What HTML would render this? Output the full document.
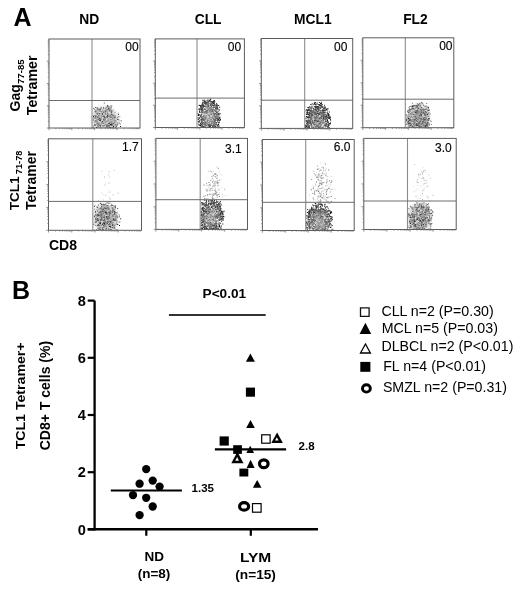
<!DOCTYPE html>
<html><head><meta charset="utf-8"><style>
html,body{margin:0;padding:0;background:#fff;width:520px;height:591px;overflow:hidden}
svg{display:block;will-change:transform}
text{font-family:"Liberation Sans",sans-serif;fill:#000}
</style></head><body>
<svg width="520" height="591" viewBox="0 0 520 591">
<defs><filter id="bl" x="-50%" y="-50%" width="200%" height="200%"><feGaussianBlur stdDeviation="1.6"/></filter></defs>
<rect width="520" height="591" fill="#fff"/>
<clipPath id="cnd1"><rect x="49.0" y="39.0" width="91.0" height="89.0"/></clipPath>
<g clip-path="url(#cnd1)"><ellipse cx="104.5" cy="119.5" rx="12.8" ry="13.6" fill="#d0d0d0" fill-opacity="0.80" filter="url(#bl)" transform="rotate(-25.8 104.5 119.5)"/><path fill="#282828" d="M100.7 107.5h1v1h-1zM107.4 120.4h1v1h-1zM108.9 122.6h1v1h-1zM99.2 120.1h1v1h-1zM94.3 124.0h1v1h-1zM105.0 112.4h1v1h-1zM117.9 114.1h1v1h-1zM108.9 109.7h1v1h-1zM96.9 123.8h1v1h-1zM106.2 124.5h1v1h-1zM107.2 104.9h1v1h-1zM105.6 121.3h1v1h-1zM96.5 107.2h1v1h-1zM100.6 118.4h1v1h-1zM102.0 113.0h1v1h-1zM109.5 124.7h1v1h-1zM93.0 116.1h1v1h-1zM99.7 109.6h1v1h-1zM107.0 114.7h1v1h-1zM98.5 114.8h1v1h-1zM115.8 125.8h1v1h-1zM112.6 122.9h1v1h-1zM100.2 119.7h1v1h-1zM110.8 123.3h1v1h-1zM108.9 126.7h1v1h-1zM97.3 116.0h1v1h-1zM99.2 118.0h1v1h-1zM99.4 119.2h1v1h-1zM120.0 126.1h1v1h-1zM112.7 125.6h1v1h-1zM97.0 108.3h1v1h-1zM108.0 108.2h1v1h-1zM97.5 124.4h1v1h-1zM111.6 124.0h1v1h-1zM102.6 125.0h1v1h-1zM113.7 116.9h1v1h-1zM115.4 120.4h1v1h-1zM108.1 123.1h1v1h-1zM108.3 115.7h1v1h-1zM113.2 115.4h1v1h-1zM113.1 126.1h1v1h-1zM111.2 114.1h1v1h-1zM106.8 115.8h1v1h-1zM104.0 116.2h1v1h-1zM94.7 110.7h1v1h-1zM118.6 122.6h1v1h-1zM97.4 113.3h1v1h-1zM105.1 111.1h1v1h-1zM110.2 116.7h1v1h-1zM110.0 124.0h1v1h-1zM95.3 115.4h1v1h-1zM110.8 112.2h1v1h-1zM109.2 123.2h1v1h-1zM110.4 123.8h1v1h-1zM109.0 126.5h1v1h-1zM106.5 108.9h1v1h-1zM110.5 121.8h1v1h-1zM102.4 122.6h1v1h-1zM109.7 121.8h1v1h-1zM107.1 115.5h1v1h-1zM115.2 126.7h1v1h-1zM92.6 127.2h1v1h-1zM100.1 125.1h1v1h-1zM103.0 119.6h1v1h-1zM111.0 110.4h1v1h-1zM101.1 110.9h1v1h-1zM104.3 117.6h1v1h-1zM103.0 107.6h1v1h-1zM104.3 119.6h1v1h-1zM114.6 115.6h1v1h-1zM112.7 127.1h1v1h-1zM97.6 123.6h1v1h-1zM95.5 116.5h1v1h-1zM111.2 105.5h1v1h-1zM113.7 122.3h1v1h-1zM99.6 108.4h1v1h-1zM94.6 125.0h1v1h-1zM95.4 111.4h1v1h-1zM96.0 126.9h1v1h-1zM101.9 121.1h1v1h-1zM108.5 107.4h1v1h-1zM103.4 112.1h1v1h-1zM110.5 107.2h1v1h-1zM108.6 125.0h1v1h-1zM110.4 127.1h1v1h-1zM97.7 108.4h1v1h-1zM108.6 108.8h1v1h-1zM117.2 119.0h1v1h-1zM111.1 124.8h1v1h-1z"/><path fill="#555555" d="M96.8 113.7h1v1h-1zM93.3 108.0h1v1h-1zM106.7 125.7h1v1h-1zM106.6 109.4h1v1h-1zM110.1 121.1h1v1h-1zM107.1 127.5h1v1h-1zM106.8 112.7h1v1h-1zM104.5 123.7h1v1h-1zM93.3 117.4h1v1h-1zM103.0 119.0h1v1h-1zM97.1 117.0h1v1h-1zM104.6 114.2h1v1h-1zM117.7 118.7h1v1h-1zM111.4 116.3h1v1h-1zM95.3 120.8h1v1h-1zM107.6 126.0h1v1h-1zM93.5 115.2h1v1h-1zM98.0 118.7h1v1h-1zM92.8 119.4h1v1h-1zM103.3 115.7h1v1h-1zM102.0 113.9h1v1h-1zM97.8 125.9h1v1h-1zM109.7 115.1h1v1h-1zM107.7 118.6h1v1h-1zM92.7 125.5h1v1h-1zM111.2 112.2h1v1h-1zM102.7 115.8h1v1h-1zM94.7 117.7h1v1h-1zM109.2 122.8h1v1h-1zM95.6 120.0h1v1h-1zM103.8 116.4h1v1h-1zM111.9 124.3h1v1h-1zM100.5 113.6h1v1h-1zM112.1 114.7h1v1h-1zM105.3 109.7h1v1h-1zM108.4 106.6h1v1h-1zM102.6 111.5h1v1h-1zM104.6 121.6h1v1h-1zM99.1 124.7h1v1h-1zM99.4 117.3h1v1h-1zM116.3 124.5h1v1h-1zM104.8 118.5h1v1h-1zM99.6 124.8h1v1h-1zM99.8 125.8h1v1h-1zM99.0 109.6h1v1h-1zM106.5 106.4h1v1h-1zM97.5 109.6h1v1h-1zM99.0 113.1h1v1h-1zM97.5 125.6h1v1h-1zM107.2 105.9h1v1h-1zM102.6 122.8h1v1h-1zM113.4 118.4h1v1h-1zM98.1 115.0h1v1h-1zM95.4 120.5h1v1h-1zM111.7 110.4h1v1h-1zM106.9 112.4h1v1h-1zM100.6 111.1h1v1h-1zM106.4 116.3h1v1h-1zM115.2 124.4h1v1h-1zM97.4 118.7h1v1h-1zM95.1 115.4h1v1h-1zM103.8 102.4h1v1h-1zM112.1 117.8h1v1h-1zM107.4 124.8h1v1h-1zM114.7 116.8h1v1h-1zM97.5 111.6h1v1h-1zM109.6 116.5h1v1h-1zM106.8 116.9h1v1h-1zM109.3 122.0h1v1h-1zM103.9 117.1h1v1h-1zM107.4 123.2h1v1h-1zM96.2 121.3h1v1h-1zM97.2 122.6h1v1h-1zM106.1 125.8h1v1h-1zM95.0 106.9h1v1h-1zM119.7 123.5h1v1h-1zM117.1 116.8h1v1h-1zM98.0 122.6h1v1h-1zM117.2 124.4h1v1h-1zM98.2 116.6h1v1h-1zM95.4 110.6h1v1h-1z"/><path fill="#828282" d="M106.1 117.0h1v1h-1zM106.2 124.9h1v1h-1zM110.6 108.4h1v1h-1zM96.6 122.7h1v1h-1zM96.2 113.0h1v1h-1zM99.2 110.5h1v1h-1zM96.3 123.5h1v1h-1zM96.4 120.4h1v1h-1zM101.0 111.6h1v1h-1zM105.2 116.9h1v1h-1zM100.7 123.4h1v1h-1zM109.7 118.7h1v1h-1zM98.1 116.1h1v1h-1zM115.4 122.6h1v1h-1zM97.3 126.7h1v1h-1zM96.2 123.1h1v1h-1zM108.1 108.8h1v1h-1zM106.8 127.9h1v1h-1zM93.8 121.5h1v1h-1zM93.9 109.1h1v1h-1zM103.3 125.6h1v1h-1zM105.8 106.9h1v1h-1zM104.3 110.6h1v1h-1zM109.5 109.3h1v1h-1zM95.4 110.3h1v1h-1zM107.4 114.2h1v1h-1zM108.1 114.6h1v1h-1zM108.1 119.7h1v1h-1zM103.8 125.0h1v1h-1zM98.9 122.8h1v1h-1zM114.9 123.9h1v1h-1zM99.8 127.2h1v1h-1zM109.9 105.6h1v1h-1zM106.0 127.3h1v1h-1zM115.1 119.9h1v1h-1zM97.4 120.5h1v1h-1zM110.4 113.7h1v1h-1zM106.3 109.4h1v1h-1zM111.8 121.4h1v1h-1zM107.4 124.2h1v1h-1zM110.9 116.9h1v1h-1zM105.2 126.7h1v1h-1zM109.4 116.5h1v1h-1zM104.5 124.7h1v1h-1zM112.6 120.3h1v1h-1zM100.2 121.3h1v1h-1zM110.4 110.3h1v1h-1zM94.6 116.8h1v1h-1zM99.4 124.1h1v1h-1zM111.8 114.2h1v1h-1zM110.1 108.6h1v1h-1zM105.1 121.8h1v1h-1zM101.8 116.0h1v1h-1zM94.8 111.6h1v1h-1zM111.4 119.0h1v1h-1zM110.1 110.7h1v1h-1zM96.1 120.6h1v1h-1zM105.1 110.3h1v1h-1zM103.4 111.5h1v1h-1zM97.8 124.9h1v1h-1zM100.8 116.6h1v1h-1zM108.2 113.5h1v1h-1zM103.2 117.8h1v1h-1zM113.7 124.4h1v1h-1zM114.5 111.7h1v1h-1zM104.8 107.9h1v1h-1zM101.2 115.2h1v1h-1zM117.1 123.2h1v1h-1zM102.3 110.2h1v1h-1zM103.2 117.6h1v1h-1zM110.5 121.4h1v1h-1zM118.6 119.6h1v1h-1zM108.9 110.8h1v1h-1zM97.4 118.0h1v1h-1zM104.3 119.6h1v1h-1zM110.5 119.1h1v1h-1zM112.6 127.4h1v1h-1zM104.6 111.8h1v1h-1zM106.1 124.3h1v1h-1zM108.9 115.4h1v1h-1zM120.7 120.1h1v1h-1zM102.9 115.0h1v1h-1zM114.4 119.8h1v1h-1zM106.8 111.0h1v1h-1zM108.0 114.2h1v1h-1zM118.1 116.2h1v1h-1zM98.4 125.1h1v1h-1zM94.9 120.3h1v1h-1zM119.3 116.2h1v1h-1zM100.0 127.1h1v1h-1zM113.9 120.6h1v1h-1zM110.5 120.4h1v1h-1zM113.2 114.5h1v1h-1zM109.6 118.9h1v1h-1zM101.0 122.3h1v1h-1z"/><path fill="#b0b0b0" d="M96.2 107.2h1v1h-1zM109.5 120.2h1v1h-1zM108.1 122.3h1v1h-1zM103.8 121.7h1v1h-1zM110.6 118.8h1v1h-1zM104.6 124.6h1v1h-1zM103.5 113.4h1v1h-1zM109.3 115.4h1v1h-1zM95.2 122.0h1v1h-1zM108.7 118.7h1v1h-1zM101.1 111.5h1v1h-1zM96.9 117.7h1v1h-1zM107.4 119.2h1v1h-1zM113.1 120.8h1v1h-1zM99.0 127.8h1v1h-1zM118.6 120.4h1v1h-1zM108.3 114.1h1v1h-1zM99.9 114.7h1v1h-1zM109.2 125.6h1v1h-1zM99.9 127.6h1v1h-1zM100.7 115.0h1v1h-1zM109.0 106.1h1v1h-1zM117.8 112.7h1v1h-1zM106.0 120.6h1v1h-1zM107.5 110.7h1v1h-1zM120.7 121.0h1v1h-1zM114.1 118.5h1v1h-1zM104.6 121.1h1v1h-1zM115.3 119.7h1v1h-1zM117.9 112.4h1v1h-1zM109.7 121.3h1v1h-1zM111.9 122.3h1v1h-1zM105.9 111.5h1v1h-1zM102.7 118.3h1v1h-1zM112.6 116.0h1v1h-1zM109.6 119.4h1v1h-1zM110.1 122.8h1v1h-1zM97.5 127.0h1v1h-1zM115.8 122.2h1v1h-1zM111.0 115.0h1v1h-1zM107.1 109.4h1v1h-1zM94.0 120.4h1v1h-1zM116.3 118.3h1v1h-1zM97.6 116.3h1v1h-1zM112.7 124.7h1v1h-1zM96.2 120.6h1v1h-1zM109.8 122.1h1v1h-1zM102.3 125.8h1v1h-1zM96.0 118.9h1v1h-1zM102.7 126.2h1v1h-1zM101.4 113.3h1v1h-1zM112.9 109.6h1v1h-1zM95.8 108.9h1v1h-1zM110.0 122.8h1v1h-1zM108.7 113.9h1v1h-1zM98.5 115.3h1v1h-1zM104.9 112.3h1v1h-1zM115.5 118.0h1v1h-1zM98.4 126.5h1v1h-1zM103.4 114.5h1v1h-1zM98.5 124.8h1v1h-1zM97.7 123.3h1v1h-1zM106.0 114.0h1v1h-1zM96.3 118.2h1v1h-1zM102.5 109.2h1v1h-1zM102.8 114.6h1v1h-1zM107.9 116.5h1v1h-1zM101.7 110.6h1v1h-1zM100.7 117.4h1v1h-1zM102.9 120.7h1v1h-1zM104.1 121.5h1v1h-1zM95.1 112.3h1v1h-1zM114.3 112.5h1v1h-1zM110.2 121.7h1v1h-1zM105.8 114.3h1v1h-1zM96.2 117.9h1v1h-1zM106.6 107.9h1v1h-1zM99.5 116.7h1v1h-1zM102.0 126.4h1v1h-1zM99.5 116.5h1v1h-1zM112.1 122.0h1v1h-1zM96.9 124.2h1v1h-1zM100.5 115.4h1v1h-1zM99.0 127.1h1v1h-1zM97.3 108.3h1v1h-1zM108.3 122.5h1v1h-1zM100.7 127.5h1v1h-1zM105.9 109.5h1v1h-1zM110.1 122.3h1v1h-1zM117.0 122.0h1v1h-1zM99.1 116.6h1v1h-1zM106.8 123.5h1v1h-1zM104.0 112.3h1v1h-1zM101.5 126.8h1v1h-1zM103.1 114.5h1v1h-1z"/></g>
<line x1="92.0" y1="39.0" x2="92.0" y2="128.0" stroke="#8c8c8c" stroke-width="1.1"/>
<line x1="49.0" y1="100.5" x2="140.0" y2="100.5" stroke="#6c6c6c" stroke-width="1.0"/>
<rect x="49.0" y="39.0" width="91.0" height="89.0" fill="none" stroke="#5c5c5c" stroke-width="1.0"/>
<path d="M49.0 128.0h-2.2M49.0 121.3h-1.2M49.0 117.4h-1.2M49.0 114.6h-1.2M49.0 112.4h-1.2M49.0 110.7h-1.2M49.0 109.2h-1.2M49.0 107.9h-1.2M49.0 106.8h-1.2M49.0 105.8h-2.2M49.0 99.1h-1.2M49.0 95.1h-1.2M49.0 92.4h-1.2M49.0 90.2h-1.2M49.0 88.4h-1.2M49.0 86.9h-1.2M49.0 85.7h-1.2M49.0 84.5h-1.2M49.0 83.5h-2.2M49.0 76.8h-1.2M49.0 72.9h-1.2M49.0 70.1h-1.2M49.0 67.9h-1.2M49.0 66.2h-1.2M49.0 64.7h-1.2M49.0 63.4h-1.2M49.0 62.3h-1.2M49.0 61.2h-2.2M49.0 54.6h-1.2M49.0 50.6h-1.2M49.0 47.9h-1.2M49.0 45.7h-1.2M49.0 43.9h-1.2M49.0 42.4h-1.2M49.0 41.2h-1.2M49.0 40.0h-1.2M49.0 128.0v2.2M55.8 128.0v1.2M59.9 128.0v1.2M62.7 128.0v1.2M64.9 128.0v1.2M66.7 128.0v1.2M68.2 128.0v1.2M69.5 128.0v1.2M70.7 128.0v1.2M71.8 128.0v2.2M78.6 128.0v1.2M82.6 128.0v1.2M85.4 128.0v1.2M87.7 128.0v1.2M89.5 128.0v1.2M91.0 128.0v1.2M92.3 128.0v1.2M93.5 128.0v1.2M94.5 128.0v2.2M101.3 128.0v1.2M105.4 128.0v1.2M108.2 128.0v1.2M110.4 128.0v1.2M112.2 128.0v1.2M113.7 128.0v1.2M115.0 128.0v1.2M116.2 128.0v1.2M117.2 128.0v2.2M124.1 128.0v1.2M128.1 128.0v1.2M130.9 128.0v1.2M133.2 128.0v1.2M135.0 128.0v1.2M136.5 128.0v1.2M137.8 128.0v1.2M139.0 128.0v1.2" stroke="#777" stroke-width="0.8" fill="none"/>
<text x="138.6" y="51.0" font-size="12" text-anchor="end" stroke="#000" stroke-width="0.12">00</text>
<clipPath id="ccll1"><rect x="155.3" y="38.9" width="89.1" height="88.6"/></clipPath>
<g clip-path="url(#ccll1)"><ellipse cx="208.5" cy="115.5" rx="5.0" ry="9.0" fill="#c8c8c8" fill-opacity="0.80" filter="url(#bl)" transform="rotate(0.0 208.5 115.5)"/><path fill="#101010" d="M202.2 106.3h1v1h-1zM199.7 124.6h1v1h-1zM208.2 101.5h1v1h-1zM200.3 106.4h1v1h-1zM216.2 116.3h1v1h-1zM218.7 125.4h1v1h-1zM212.1 104.8h1v1h-1zM209.5 99.7h1v1h-1zM198.3 121.2h1v1h-1zM201.7 125.1h1v1h-1zM217.0 126.8h1v1h-1zM217.2 120.1h1v1h-1zM200.0 124.7h1v1h-1zM200.8 108.6h1v1h-1zM202.8 104.5h1v1h-1zM211.8 101.6h1v1h-1zM197.7 114.6h1v1h-1zM200.7 111.8h1v1h-1zM207.4 100.2h1v1h-1zM198.9 121.3h1v1h-1zM202.8 125.9h1v1h-1zM216.2 122.1h1v1h-1zM212.6 103.2h1v1h-1zM210.3 104.8h1v1h-1zM201.5 103.7h1v1h-1zM213.9 99.9h1v1h-1zM213.9 101.6h1v1h-1zM199.3 111.9h1v1h-1zM200.8 125.7h1v1h-1zM218.0 118.9h1v1h-1zM219.4 117.8h1v1h-1zM216.2 126.7h1v1h-1zM219.5 120.1h1v1h-1zM214.8 125.9h1v1h-1zM201.3 109.4h1v1h-1zM216.0 105.0h1v1h-1zM218.1 121.9h1v1h-1zM201.8 106.1h1v1h-1zM219.7 113.3h1v1h-1zM203.5 102.5h1v1h-1zM200.7 108.4h1v1h-1zM200.9 119.0h1v1h-1zM215.7 106.3h1v1h-1zM199.9 122.8h1v1h-1zM199.6 105.0h1v1h-1zM213.7 103.0h1v1h-1zM218.1 119.4h1v1h-1zM219.0 117.8h1v1h-1zM209.8 104.2h1v1h-1zM213.0 123.7h1v1h-1zM202.3 101.7h1v1h-1zM211.1 103.2h1v1h-1zM206.7 102.6h1v1h-1zM207.8 101.7h1v1h-1zM214.3 104.4h1v1h-1zM216.2 105.1h1v1h-1zM217.8 113.2h1v1h-1zM198.2 114.0h1v1h-1zM218.6 109.3h1v1h-1zM211.6 100.9h1v1h-1zM216.4 124.4h1v1h-1zM198.0 115.1h1v1h-1zM212.2 127.4h1v1h-1zM198.3 121.7h1v1h-1zM201.2 109.2h1v1h-1zM201.6 106.0h1v1h-1zM217.3 118.1h1v1h-1zM199.1 111.1h1v1h-1zM214.6 104.5h1v1h-1zM215.6 123.9h1v1h-1zM200.9 108.2h1v1h-1zM200.6 123.6h1v1h-1zM219.2 106.7h1v1h-1zM219.4 120.0h1v1h-1zM199.0 117.8h1v1h-1zM203.9 101.4h1v1h-1zM210.3 100.8h1v1h-1zM216.1 108.0h1v1h-1zM199.0 109.6h1v1h-1zM219.3 116.8h1v1h-1zM198.2 123.7h1v1h-1zM214.9 119.3h1v1h-1zM213.4 100.4h1v1h-1zM215.8 126.7h1v1h-1zM201.5 121.6h1v1h-1zM212.9 105.2h1v1h-1zM216.0 103.3h1v1h-1zM217.4 125.2h1v1h-1zM200.1 105.6h1v1h-1zM218.4 114.7h1v1h-1zM199.7 114.7h1v1h-1zM200.0 105.5h1v1h-1zM218.3 113.6h1v1h-1zM218.1 105.0h1v1h-1zM213.3 100.9h1v1h-1zM217.0 119.4h1v1h-1zM210.4 103.2h1v1h-1zM208.9 100.3h1v1h-1zM208.7 127.0h1v1h-1zM212.3 101.9h1v1h-1zM216.5 104.1h1v1h-1zM218.9 119.6h1v1h-1zM199.9 125.2h1v1h-1zM200.1 108.6h1v1h-1zM213.1 100.5h1v1h-1zM203.0 106.8h1v1h-1zM204.2 99.7h1v1h-1zM213.1 100.9h1v1h-1zM204.5 103.1h1v1h-1zM200.4 105.5h1v1h-1zM212.2 126.1h1v1h-1zM205.5 101.5h1v1h-1zM198.8 104.9h1v1h-1zM199.0 117.8h1v1h-1zM203.4 123.6h1v1h-1zM201.6 116.5h1v1h-1zM217.1 106.6h1v1h-1zM198.7 108.2h1v1h-1zM218.0 124.0h1v1h-1zM203.7 105.9h1v1h-1zM213.3 102.4h1v1h-1zM201.4 105.1h1v1h-1zM202.3 99.8h1v1h-1zM206.0 102.7h1v1h-1zM213.3 125.6h1v1h-1z"/><path fill="#303030" d="M204.6 127.1h1v1h-1zM216.7 107.1h1v1h-1zM208.5 100.6h1v1h-1zM210.3 98.5h1v1h-1zM212.2 127.5h1v1h-1zM205.3 121.9h1v1h-1zM198.8 104.7h1v1h-1zM202.8 106.4h1v1h-1zM217.6 117.6h1v1h-1zM197.7 119.2h1v1h-1zM213.2 102.2h1v1h-1zM203.3 105.2h1v1h-1zM198.8 114.3h1v1h-1zM214.4 122.4h1v1h-1zM218.5 121.9h1v1h-1zM214.3 125.1h1v1h-1zM202.6 105.6h1v1h-1zM213.7 123.3h1v1h-1zM204.5 109.0h1v1h-1zM214.5 116.1h1v1h-1zM213.7 103.8h1v1h-1zM211.9 124.8h1v1h-1zM209.7 107.5h1v1h-1zM214.9 106.8h1v1h-1zM211.0 123.0h1v1h-1zM205.0 101.7h1v1h-1zM209.9 99.0h1v1h-1zM208.8 100.7h1v1h-1zM202.3 105.4h1v1h-1zM204.8 123.4h1v1h-1zM209.4 124.2h1v1h-1zM208.0 106.2h1v1h-1zM214.3 109.4h1v1h-1zM198.2 118.8h1v1h-1zM201.9 106.2h1v1h-1zM202.4 102.3h1v1h-1zM209.2 126.1h1v1h-1zM217.5 108.6h1v1h-1zM216.0 122.3h1v1h-1zM204.4 125.8h1v1h-1zM213.8 120.5h1v1h-1zM198.9 125.1h1v1h-1zM206.1 102.7h1v1h-1zM214.7 106.7h1v1h-1zM217.3 121.2h1v1h-1zM213.3 112.8h1v1h-1zM201.5 106.9h1v1h-1zM213.4 106.8h1v1h-1zM218.4 112.7h1v1h-1zM205.6 127.0h1v1h-1zM200.1 115.9h1v1h-1zM205.3 124.5h1v1h-1zM199.3 119.9h1v1h-1zM211.4 101.4h1v1h-1zM202.1 123.0h1v1h-1zM205.7 102.0h1v1h-1zM200.7 114.5h1v1h-1zM212.2 110.6h1v1h-1zM204.1 119.2h1v1h-1zM205.2 103.2h1v1h-1zM205.8 125.3h1v1h-1zM201.9 117.8h1v1h-1zM212.3 122.7h1v1h-1zM209.5 106.5h1v1h-1zM201.9 108.0h1v1h-1zM202.1 118.5h1v1h-1zM212.2 127.1h1v1h-1zM215.2 108.0h1v1h-1zM202.3 106.2h1v1h-1zM211.9 110.3h1v1h-1zM202.2 108.4h1v1h-1zM201.8 126.3h1v1h-1zM216.6 107.9h1v1h-1zM211.7 107.0h1v1h-1zM198.4 109.1h1v1h-1zM209.8 125.3h1v1h-1zM204.7 124.3h1v1h-1zM202.7 104.4h1v1h-1zM215.9 117.9h1v1h-1zM217.1 124.4h1v1h-1zM208.3 125.4h1v1h-1zM217.0 105.5h1v1h-1zM216.0 114.3h1v1h-1zM213.9 113.9h1v1h-1zM211.6 120.8h1v1h-1zM204.1 105.8h1v1h-1zM216.6 118.8h1v1h-1zM203.4 100.1h1v1h-1zM213.4 110.6h1v1h-1zM217.1 117.8h1v1h-1zM202.3 110.4h1v1h-1zM203.7 101.0h1v1h-1zM216.7 120.1h1v1h-1zM205.5 104.2h1v1h-1zM202.0 108.7h1v1h-1zM211.5 110.8h1v1h-1zM201.4 123.6h1v1h-1zM208.3 126.9h1v1h-1zM201.1 110.5h1v1h-1zM220.0 119.1h1v1h-1zM208.9 126.5h1v1h-1zM208.9 100.6h1v1h-1zM200.4 118.7h1v1h-1zM200.9 120.3h1v1h-1zM218.7 117.2h1v1h-1zM212.2 127.3h1v1h-1zM213.9 105.0h1v1h-1zM215.4 108.0h1v1h-1zM217.8 126.2h1v1h-1zM218.8 121.4h1v1h-1zM202.3 112.1h1v1h-1zM214.0 121.4h1v1h-1zM202.1 103.3h1v1h-1zM202.2 104.3h1v1h-1zM201.1 121.2h1v1h-1zM217.0 114.6h1v1h-1zM197.8 118.6h1v1h-1zM207.1 105.2h1v1h-1zM213.7 127.4h1v1h-1zM202.4 118.9h1v1h-1zM201.1 114.2h1v1h-1zM204.4 101.2h1v1h-1zM210.1 101.4h1v1h-1zM215.5 122.2h1v1h-1zM198.2 121.1h1v1h-1zM212.9 105.2h1v1h-1zM208.9 125.9h1v1h-1zM211.3 121.4h1v1h-1zM211.6 123.0h1v1h-1zM208.1 104.7h1v1h-1zM211.2 125.0h1v1h-1zM216.5 113.1h1v1h-1zM208.6 124.4h1v1h-1zM209.0 125.1h1v1h-1zM200.2 107.4h1v1h-1zM204.8 122.0h1v1h-1zM210.5 124.1h1v1h-1zM215.9 111.4h1v1h-1zM214.1 115.2h1v1h-1zM209.9 126.0h1v1h-1zM205.5 106.1h1v1h-1zM197.6 117.2h1v1h-1z"/><path fill="#505050" d="M206.7 100.3h1v1h-1zM219.1 109.7h1v1h-1zM205.6 111.1h1v1h-1zM211.3 110.8h1v1h-1zM213.0 108.7h1v1h-1zM207.8 124.0h1v1h-1zM216.4 105.4h1v1h-1zM204.5 110.9h1v1h-1zM205.1 123.7h1v1h-1zM215.0 110.9h1v1h-1zM210.0 127.1h1v1h-1zM202.1 124.8h1v1h-1zM206.3 111.9h1v1h-1zM216.7 111.9h1v1h-1zM207.4 109.2h1v1h-1zM202.7 123.2h1v1h-1zM202.2 109.8h1v1h-1zM213.3 106.9h1v1h-1zM215.5 108.4h1v1h-1zM202.4 125.9h1v1h-1zM213.1 123.5h1v1h-1zM214.1 120.5h1v1h-1zM201.1 105.9h1v1h-1zM200.0 116.0h1v1h-1zM213.4 119.3h1v1h-1zM207.0 123.4h1v1h-1zM204.7 108.7h1v1h-1zM202.1 106.1h1v1h-1zM205.1 116.4h1v1h-1zM216.0 107.2h1v1h-1zM207.5 124.4h1v1h-1zM208.0 103.2h1v1h-1zM214.6 116.9h1v1h-1zM207.0 101.7h1v1h-1zM211.2 106.2h1v1h-1zM215.7 105.2h1v1h-1zM212.6 118.0h1v1h-1zM214.2 104.8h1v1h-1zM215.9 108.2h1v1h-1zM207.5 103.9h1v1h-1zM201.5 108.5h1v1h-1zM207.6 120.1h1v1h-1zM204.4 101.0h1v1h-1zM214.4 101.2h1v1h-1zM204.4 105.8h1v1h-1zM204.5 103.5h1v1h-1zM217.7 118.4h1v1h-1zM202.6 110.3h1v1h-1zM205.4 100.5h1v1h-1zM199.2 117.0h1v1h-1zM200.6 117.3h1v1h-1zM206.6 119.4h1v1h-1zM206.1 109.9h1v1h-1zM217.6 111.1h1v1h-1zM206.8 111.3h1v1h-1zM204.7 124.6h1v1h-1zM207.0 126.7h1v1h-1zM211.4 108.4h1v1h-1zM205.6 117.3h1v1h-1zM210.7 127.1h1v1h-1zM204.3 125.7h1v1h-1zM205.9 103.9h1v1h-1zM202.6 122.1h1v1h-1zM200.8 122.0h1v1h-1zM214.4 104.2h1v1h-1zM211.7 103.5h1v1h-1zM210.4 108.6h1v1h-1zM212.7 113.4h1v1h-1zM208.4 114.4h1v1h-1zM210.2 125.2h1v1h-1zM200.9 124.1h1v1h-1zM203.6 124.2h1v1h-1zM212.5 121.6h1v1h-1zM198.8 124.4h1v1h-1zM202.9 115.4h1v1h-1zM203.0 118.8h1v1h-1zM208.4 105.1h1v1h-1zM208.6 124.0h1v1h-1zM211.4 103.7h1v1h-1zM202.6 111.5h1v1h-1zM217.6 110.7h1v1h-1zM213.8 118.7h1v1h-1zM202.5 120.1h1v1h-1zM218.1 121.9h1v1h-1zM215.1 120.0h1v1h-1zM201.6 123.4h1v1h-1zM202.1 116.1h1v1h-1zM216.4 105.1h1v1h-1zM201.4 110.7h1v1h-1zM212.4 104.9h1v1h-1zM204.2 108.6h1v1h-1zM217.0 108.1h1v1h-1zM206.5 106.5h1v1h-1zM204.2 108.3h1v1h-1zM214.3 125.5h1v1h-1zM204.1 119.6h1v1h-1zM209.1 122.5h1v1h-1zM204.9 123.1h1v1h-1zM202.0 116.0h1v1h-1zM215.9 112.0h1v1h-1zM216.3 116.6h1v1h-1zM215.7 122.4h1v1h-1zM213.9 114.4h1v1h-1zM207.0 103.4h1v1h-1zM211.3 127.4h1v1h-1zM198.9 108.8h1v1h-1zM197.4 113.0h1v1h-1zM206.2 118.1h1v1h-1zM202.5 115.9h1v1h-1zM218.6 113.9h1v1h-1zM200.2 109.6h1v1h-1zM201.9 118.9h1v1h-1zM209.3 111.2h1v1h-1zM213.9 126.8h1v1h-1zM204.8 123.8h1v1h-1zM203.2 106.1h1v1h-1zM213.1 118.8h1v1h-1zM213.8 114.0h1v1h-1zM204.9 122.7h1v1h-1zM200.4 109.3h1v1h-1zM209.1 114.7h1v1h-1zM215.0 113.0h1v1h-1zM212.5 113.2h1v1h-1zM210.5 109.6h1v1h-1zM209.6 109.9h1v1h-1zM202.9 120.1h1v1h-1zM201.9 123.0h1v1h-1zM210.6 101.6h1v1h-1zM207.9 125.1h1v1h-1zM218.2 122.8h1v1h-1zM202.7 119.7h1v1h-1zM207.8 122.5h1v1h-1zM215.6 116.1h1v1h-1zM215.0 116.8h1v1h-1zM201.1 115.8h1v1h-1zM212.4 117.4h1v1h-1zM200.9 107.0h1v1h-1zM210.5 119.3h1v1h-1zM209.2 116.5h1v1h-1zM211.1 106.1h1v1h-1zM207.5 98.7h1v1h-1zM211.2 105.0h1v1h-1zM213.9 118.7h1v1h-1zM202.6 126.7h1v1h-1zM214.4 118.4h1v1h-1zM210.7 113.9h1v1h-1zM213.5 125.6h1v1h-1zM216.0 108.6h1v1h-1zM214.5 124.6h1v1h-1zM205.0 112.4h1v1h-1zM200.6 114.6h1v1h-1zM214.7 106.4h1v1h-1zM217.3 113.1h1v1h-1zM213.3 113.0h1v1h-1z"/><path fill="#707070" d="M201.3 118.2h1v1h-1zM213.1 119.3h1v1h-1zM213.3 121.4h1v1h-1zM211.8 124.9h1v1h-1zM201.5 119.8h1v1h-1zM205.1 116.3h1v1h-1zM202.8 108.7h1v1h-1zM211.5 110.6h1v1h-1zM214.9 118.0h1v1h-1zM213.8 114.8h1v1h-1zM212.9 107.6h1v1h-1zM207.6 124.3h1v1h-1zM210.9 114.0h1v1h-1zM208.0 102.0h1v1h-1zM208.7 110.4h1v1h-1zM208.2 126.7h1v1h-1zM210.5 105.3h1v1h-1zM204.5 127.5h1v1h-1zM212.9 125.0h1v1h-1zM213.2 123.6h1v1h-1zM217.7 116.0h1v1h-1zM212.6 120.6h1v1h-1zM210.7 118.5h1v1h-1zM214.8 120.9h1v1h-1zM214.9 106.9h1v1h-1zM214.9 122.4h1v1h-1zM214.6 109.4h1v1h-1zM216.3 116.9h1v1h-1zM215.7 114.1h1v1h-1zM212.0 104.2h1v1h-1zM212.9 123.7h1v1h-1zM203.8 120.4h1v1h-1zM204.0 111.9h1v1h-1zM204.3 116.4h1v1h-1zM215.3 110.6h1v1h-1zM202.3 121.5h1v1h-1zM214.0 112.8h1v1h-1zM213.9 123.6h1v1h-1zM206.0 112.9h1v1h-1zM206.0 103.3h1v1h-1zM207.9 109.1h1v1h-1zM215.7 116.1h1v1h-1zM202.5 119.8h1v1h-1zM207.0 124.2h1v1h-1zM209.5 124.8h1v1h-1zM214.0 124.3h1v1h-1zM207.8 126.5h1v1h-1zM208.3 106.6h1v1h-1zM215.1 118.9h1v1h-1zM217.0 113.7h1v1h-1zM204.7 123.0h1v1h-1zM206.4 121.8h1v1h-1zM208.8 110.7h1v1h-1zM205.2 106.6h1v1h-1zM205.7 110.9h1v1h-1zM212.2 123.0h1v1h-1zM203.8 117.5h1v1h-1zM210.3 104.8h1v1h-1zM216.8 116.3h1v1h-1zM207.0 126.9h1v1h-1zM201.4 113.1h1v1h-1zM212.1 122.9h1v1h-1zM206.4 105.9h1v1h-1zM216.5 119.8h1v1h-1zM216.4 118.1h1v1h-1zM199.3 115.2h1v1h-1zM212.2 115.7h1v1h-1zM210.7 118.6h1v1h-1zM217.1 111.5h1v1h-1zM203.6 116.1h1v1h-1zM210.9 121.4h1v1h-1zM204.7 125.5h1v1h-1zM201.1 116.9h1v1h-1zM210.5 113.4h1v1h-1zM215.4 124.1h1v1h-1zM213.6 105.4h1v1h-1zM200.7 120.4h1v1h-1zM203.9 122.6h1v1h-1zM205.6 127.2h1v1h-1zM203.5 117.2h1v1h-1zM212.7 118.7h1v1h-1zM201.1 117.6h1v1h-1zM210.0 110.2h1v1h-1zM205.1 105.5h1v1h-1zM204.5 118.3h1v1h-1zM202.3 118.8h1v1h-1zM203.0 106.7h1v1h-1zM204.4 108.6h1v1h-1zM208.2 127.0h1v1h-1zM203.5 122.2h1v1h-1zM202.5 117.8h1v1h-1zM203.8 114.5h1v1h-1zM215.0 114.4h1v1h-1zM211.3 112.5h1v1h-1zM209.9 108.9h1v1h-1zM216.8 116.1h1v1h-1zM215.3 109.2h1v1h-1zM214.4 120.0h1v1h-1zM215.7 110.4h1v1h-1zM208.5 117.9h1v1h-1zM202.5 122.0h1v1h-1zM207.2 110.0h1v1h-1zM209.3 108.1h1v1h-1zM216.8 109.1h1v1h-1zM201.5 106.7h1v1h-1zM213.0 109.2h1v1h-1zM216.4 109.4h1v1h-1zM211.2 124.8h1v1h-1zM204.7 124.0h1v1h-1zM203.0 122.0h1v1h-1zM206.9 112.6h1v1h-1zM213.8 115.4h1v1h-1zM205.8 112.4h1v1h-1zM208.8 103.0h1v1h-1zM209.0 121.2h1v1h-1zM209.6 123.8h1v1h-1zM203.7 112.5h1v1h-1zM209.7 112.2h1v1h-1zM215.6 111.2h1v1h-1zM212.6 125.3h1v1h-1zM211.7 116.8h1v1h-1zM208.7 126.9h1v1h-1zM213.0 111.8h1v1h-1zM205.4 118.0h1v1h-1zM205.5 123.7h1v1h-1zM212.9 113.2h1v1h-1zM213.8 113.5h1v1h-1zM212.0 109.3h1v1h-1zM216.0 115.2h1v1h-1zM213.2 126.1h1v1h-1zM206.8 106.8h1v1h-1zM209.2 107.6h1v1h-1zM214.0 123.0h1v1h-1zM214.0 109.4h1v1h-1zM204.4 121.3h1v1h-1zM201.7 121.3h1v1h-1zM215.1 114.6h1v1h-1zM205.5 109.8h1v1h-1zM203.5 122.3h1v1h-1zM204.9 118.4h1v1h-1zM206.0 104.3h1v1h-1zM203.5 115.0h1v1h-1z"/><path fill="#909090" d="M213.4 113.5h1v1h-1zM206.8 120.9h1v1h-1zM206.3 121.6h1v1h-1zM209.2 107.4h1v1h-1zM203.2 117.2h1v1h-1zM202.4 111.4h1v1h-1zM206.9 124.4h1v1h-1zM210.7 110.8h1v1h-1zM213.4 114.4h1v1h-1zM209.7 109.8h1v1h-1zM207.1 124.3h1v1h-1zM205.1 120.9h1v1h-1zM211.2 121.3h1v1h-1zM211.6 123.1h1v1h-1zM205.6 114.9h1v1h-1zM212.0 107.0h1v1h-1zM213.0 121.4h1v1h-1zM213.3 111.3h1v1h-1zM214.3 109.9h1v1h-1zM205.5 122.8h1v1h-1zM206.1 123.1h1v1h-1zM206.6 108.1h1v1h-1zM206.8 121.7h1v1h-1zM213.2 123.1h1v1h-1zM215.6 116.2h1v1h-1zM211.3 107.6h1v1h-1zM210.7 110.8h1v1h-1zM203.2 123.3h1v1h-1zM210.1 107.2h1v1h-1zM209.3 108.9h1v1h-1zM205.0 111.7h1v1h-1zM211.1 120.4h1v1h-1zM210.3 117.0h1v1h-1zM207.5 118.4h1v1h-1zM210.7 123.6h1v1h-1zM207.9 108.3h1v1h-1zM207.7 112.1h1v1h-1zM212.7 122.8h1v1h-1zM207.3 123.8h1v1h-1zM202.2 116.1h1v1h-1zM213.4 117.9h1v1h-1zM208.3 115.2h1v1h-1zM215.6 116.1h1v1h-1zM213.1 117.2h1v1h-1zM212.5 115.9h1v1h-1zM209.9 110.2h1v1h-1zM202.5 113.5h1v1h-1zM204.7 119.3h1v1h-1zM213.8 121.4h1v1h-1zM206.8 105.4h1v1h-1zM209.2 120.6h1v1h-1zM211.5 117.1h1v1h-1zM205.8 106.6h1v1h-1zM210.2 119.4h1v1h-1zM209.4 118.7h1v1h-1zM205.3 121.0h1v1h-1zM208.9 107.1h1v1h-1zM209.3 121.9h1v1h-1zM204.6 124.7h1v1h-1zM208.4 122.1h1v1h-1zM203.9 116.5h1v1h-1zM212.4 112.1h1v1h-1zM212.0 123.0h1v1h-1zM209.2 117.9h1v1h-1zM206.1 115.3h1v1h-1zM212.9 115.0h1v1h-1zM205.4 122.2h1v1h-1zM210.0 121.0h1v1h-1zM209.6 118.7h1v1h-1zM207.4 114.1h1v1h-1z"/><path fill="#b0b0b0" d="M204.3 116.2h1v1h-1zM205.5 113.0h1v1h-1zM206.2 117.7h1v1h-1zM209.4 118.4h1v1h-1zM206.5 115.7h1v1h-1zM204.8 115.2h1v1h-1zM205.6 118.3h1v1h-1z"/></g>
<line x1="197.0" y1="38.9" x2="197.0" y2="127.5" stroke="#8c8c8c" stroke-width="1.1"/>
<line x1="155.3" y1="98.1" x2="244.4" y2="98.1" stroke="#6c6c6c" stroke-width="1.0"/>
<rect x="155.3" y="38.9" width="89.1" height="88.6" fill="none" stroke="#5c5c5c" stroke-width="1.0"/>
<path d="M155.3 127.5h-2.2M155.3 120.8h-1.2M155.3 116.9h-1.2M155.3 114.2h-1.2M155.3 112.0h-1.2M155.3 110.3h-1.2M155.3 108.8h-1.2M155.3 107.5h-1.2M155.3 106.4h-1.2M155.3 105.3h-2.2M155.3 98.7h-1.2M155.3 94.8h-1.2M155.3 92.0h-1.2M155.3 89.9h-1.2M155.3 88.1h-1.2M155.3 86.6h-1.2M155.3 85.3h-1.2M155.3 84.2h-1.2M155.3 83.2h-2.2M155.3 76.5h-1.2M155.3 72.6h-1.2M155.3 69.9h-1.2M155.3 67.7h-1.2M155.3 66.0h-1.2M155.3 64.5h-1.2M155.3 63.2h-1.2M155.3 62.1h-1.2M155.3 61.1h-2.2M155.3 54.4h-1.2M155.3 50.5h-1.2M155.3 47.7h-1.2M155.3 45.6h-1.2M155.3 43.8h-1.2M155.3 42.3h-1.2M155.3 41.0h-1.2M155.3 39.9h-1.2M155.3 127.5v2.2M162.0 127.5v1.2M165.9 127.5v1.2M168.7 127.5v1.2M170.9 127.5v1.2M172.6 127.5v1.2M174.1 127.5v1.2M175.4 127.5v1.2M176.6 127.5v1.2M177.6 127.5v2.2M184.3 127.5v1.2M188.2 127.5v1.2M191.0 127.5v1.2M193.1 127.5v1.2M194.9 127.5v1.2M196.4 127.5v1.2M197.7 127.5v1.2M198.8 127.5v1.2M199.9 127.5v2.2M206.6 127.5v1.2M210.5 127.5v1.2M213.3 127.5v1.2M215.4 127.5v1.2M217.2 127.5v1.2M218.7 127.5v1.2M220.0 127.5v1.2M221.1 127.5v1.2M222.1 127.5v2.2M228.8 127.5v1.2M232.8 127.5v1.2M235.5 127.5v1.2M237.7 127.5v1.2M239.5 127.5v1.2M240.9 127.5v1.2M242.2 127.5v1.2M243.4 127.5v1.2" stroke="#777" stroke-width="0.8" fill="none"/>
<text x="241.1" y="51.2" font-size="12" text-anchor="end" stroke="#000" stroke-width="0.12">00</text>
<clipPath id="cmcl1"><rect x="261.3" y="38.5" width="91.4" height="89.9"/></clipPath>
<g clip-path="url(#cmcl1)"><ellipse cx="317.5" cy="119.0" rx="7.0" ry="11.0" fill="#c4c4c4" fill-opacity="0.80" filter="url(#bl)" transform="rotate(0.0 317.5 119.0)"/><path fill="#101010" d="M321.9 104.2h1v1h-1zM324.7 108.7h1v1h-1zM317.6 106.4h1v1h-1zM326.3 117.8h1v1h-1zM328.4 114.0h1v1h-1zM328.8 118.1h1v1h-1zM327.0 120.6h1v1h-1zM322.4 111.5h1v1h-1zM324.2 107.8h1v1h-1zM323.2 111.4h1v1h-1zM306.7 110.1h1v1h-1zM307.2 112.4h1v1h-1zM307.7 109.4h1v1h-1zM314.0 103.2h1v1h-1zM323.2 108.6h1v1h-1zM328.5 117.1h1v1h-1zM310.7 117.4h1v1h-1zM329.5 123.4h1v1h-1zM307.0 111.3h1v1h-1zM325.4 117.8h1v1h-1zM305.6 120.7h1v1h-1zM327.5 108.2h1v1h-1zM305.2 124.8h1v1h-1zM306.3 109.1h1v1h-1zM329.6 123.4h1v1h-1zM311.6 112.3h1v1h-1zM327.0 126.2h1v1h-1zM307.9 125.9h1v1h-1zM308.7 109.0h1v1h-1zM328.6 115.5h1v1h-1zM325.4 126.0h1v1h-1zM308.2 107.3h1v1h-1zM327.7 121.7h1v1h-1zM309.2 106.3h1v1h-1zM310.1 118.4h1v1h-1zM328.6 127.0h1v1h-1zM305.2 127.1h1v1h-1zM325.3 119.7h1v1h-1zM323.1 109.9h1v1h-1zM306.7 111.4h1v1h-1zM319.7 106.4h1v1h-1zM330.5 128.0h1v1h-1zM307.1 121.8h1v1h-1zM320.9 102.8h1v1h-1zM320.5 104.4h1v1h-1zM317.7 108.3h1v1h-1zM312.8 111.6h1v1h-1zM311.4 104.2h1v1h-1zM328.0 114.4h1v1h-1zM308.2 113.9h1v1h-1zM326.4 108.8h1v1h-1zM327.2 112.6h1v1h-1zM327.6 113.4h1v1h-1zM308.3 120.3h1v1h-1zM310.3 121.3h1v1h-1zM324.4 106.3h1v1h-1zM315.6 106.2h1v1h-1zM326.1 109.1h1v1h-1zM316.7 102.4h1v1h-1zM320.0 102.9h1v1h-1zM319.1 102.1h1v1h-1zM308.7 114.4h1v1h-1zM324.9 128.1h1v1h-1zM306.1 114.0h1v1h-1zM325.7 116.6h1v1h-1zM316.8 106.6h1v1h-1zM307.8 123.2h1v1h-1zM327.4 116.5h1v1h-1zM306.0 115.9h1v1h-1zM325.2 124.8h1v1h-1zM305.5 125.2h1v1h-1zM306.0 120.8h1v1h-1zM306.3 120.2h1v1h-1zM307.4 106.9h1v1h-1zM305.6 125.3h1v1h-1zM307.0 116.9h1v1h-1zM327.7 114.4h1v1h-1zM322.1 106.2h1v1h-1zM305.4 117.7h1v1h-1zM308.0 116.9h1v1h-1zM328.1 113.4h1v1h-1zM314.6 103.9h1v1h-1zM327.4 113.0h1v1h-1zM329.1 117.7h1v1h-1zM315.2 103.6h1v1h-1zM306.5 112.7h1v1h-1zM308.8 111.7h1v1h-1zM309.3 113.3h1v1h-1zM314.9 106.2h1v1h-1zM315.8 107.4h1v1h-1zM319.6 105.2h1v1h-1zM318.0 106.1h1v1h-1zM314.8 105.7h1v1h-1zM326.6 121.7h1v1h-1zM310.5 116.2h1v1h-1zM305.9 126.1h1v1h-1zM329.9 119.0h1v1h-1zM307.4 116.3h1v1h-1zM327.5 127.6h1v1h-1zM307.7 109.8h1v1h-1zM308.9 122.3h1v1h-1zM328.2 124.8h1v1h-1zM307.4 120.9h1v1h-1zM314.9 105.9h1v1h-1zM306.6 121.1h1v1h-1zM324.7 107.5h1v1h-1zM313.2 109.3h1v1h-1zM306.7 122.7h1v1h-1zM306.8 112.1h1v1h-1zM309.0 127.5h1v1h-1zM326.9 120.0h1v1h-1zM310.5 113.7h1v1h-1zM308.0 125.6h1v1h-1zM326.2 108.4h1v1h-1zM329.4 128.3h1v1h-1zM318.7 104.7h1v1h-1zM329.7 117.4h1v1h-1zM307.9 114.1h1v1h-1zM330.0 122.4h1v1h-1zM308.6 110.0h1v1h-1zM326.6 108.6h1v1h-1zM314.3 102.2h1v1h-1zM316.0 106.6h1v1h-1zM325.7 128.0h1v1h-1zM307.3 113.7h1v1h-1zM320.5 109.9h1v1h-1zM319.2 104.1h1v1h-1zM308.8 107.5h1v1h-1zM326.5 124.3h1v1h-1zM307.6 109.2h1v1h-1zM325.8 115.6h1v1h-1zM328.8 123.0h1v1h-1zM309.6 112.2h1v1h-1zM328.2 114.9h1v1h-1zM320.2 104.9h1v1h-1zM325.2 115.9h1v1h-1zM308.7 119.7h1v1h-1zM327.0 112.6h1v1h-1zM306.1 122.7h1v1h-1zM320.8 104.8h1v1h-1zM327.0 119.2h1v1h-1zM313.1 107.7h1v1h-1zM329.8 116.5h1v1h-1zM318.1 109.5h1v1h-1zM329.0 128.2h1v1h-1zM307.5 127.1h1v1h-1z"/><path fill="#303030" d="M324.4 124.0h1v1h-1zM315.7 112.8h1v1h-1zM319.0 101.9h1v1h-1zM324.8 112.2h1v1h-1zM314.9 126.4h1v1h-1zM310.6 115.6h1v1h-1zM309.0 117.1h1v1h-1zM306.6 125.5h1v1h-1zM325.2 121.1h1v1h-1zM319.7 110.6h1v1h-1zM315.1 106.8h1v1h-1zM323.7 112.0h1v1h-1zM327.7 118.0h1v1h-1zM323.7 116.2h1v1h-1zM311.4 110.8h1v1h-1zM308.7 120.5h1v1h-1zM320.1 123.8h1v1h-1zM314.5 106.5h1v1h-1zM325.1 110.3h1v1h-1zM319.1 113.3h1v1h-1zM322.3 112.6h1v1h-1zM326.3 123.0h1v1h-1zM319.6 126.6h1v1h-1zM324.9 117.3h1v1h-1zM319.4 118.3h1v1h-1zM322.6 119.4h1v1h-1zM319.1 123.2h1v1h-1zM305.1 125.8h1v1h-1zM329.0 111.5h1v1h-1zM325.5 109.8h1v1h-1zM321.6 112.6h1v1h-1zM308.4 124.4h1v1h-1zM324.3 114.2h1v1h-1zM314.5 110.5h1v1h-1zM314.9 107.6h1v1h-1zM327.1 126.0h1v1h-1zM306.3 121.2h1v1h-1zM321.0 101.8h1v1h-1zM327.3 117.0h1v1h-1zM327.6 116.5h1v1h-1zM317.9 114.5h1v1h-1zM314.8 108.9h1v1h-1zM310.2 111.0h1v1h-1zM322.6 128.1h1v1h-1zM319.9 112.0h1v1h-1zM314.6 116.9h1v1h-1zM314.5 110.5h1v1h-1zM314.8 114.1h1v1h-1zM322.7 116.2h1v1h-1zM314.9 111.9h1v1h-1zM310.5 125.3h1v1h-1zM322.1 109.2h1v1h-1zM316.6 116.4h1v1h-1zM315.1 106.6h1v1h-1zM306.2 121.2h1v1h-1zM317.0 120.9h1v1h-1zM319.2 127.2h1v1h-1zM322.6 113.8h1v1h-1zM311.5 112.5h1v1h-1zM323.5 117.5h1v1h-1zM310.5 107.0h1v1h-1zM311.0 123.2h1v1h-1zM317.9 112.9h1v1h-1zM322.6 112.9h1v1h-1zM324.2 114.2h1v1h-1zM308.9 120.9h1v1h-1zM315.1 108.9h1v1h-1zM328.0 121.5h1v1h-1zM305.3 127.8h1v1h-1zM309.3 116.9h1v1h-1zM311.1 113.4h1v1h-1zM323.1 117.7h1v1h-1zM321.0 106.4h1v1h-1zM319.3 127.9h1v1h-1zM311.1 118.9h1v1h-1zM317.7 107.8h1v1h-1zM324.2 107.0h1v1h-1zM312.6 122.7h1v1h-1zM314.4 112.9h1v1h-1zM312.2 120.9h1v1h-1zM318.2 106.6h1v1h-1zM310.8 123.7h1v1h-1zM310.4 123.9h1v1h-1zM320.3 122.2h1v1h-1zM325.7 115.6h1v1h-1zM316.6 103.8h1v1h-1zM309.1 115.2h1v1h-1zM309.1 121.2h1v1h-1zM307.8 120.3h1v1h-1zM316.7 113.0h1v1h-1zM311.6 111.7h1v1h-1zM308.1 126.1h1v1h-1zM305.6 119.7h1v1h-1zM311.8 120.0h1v1h-1zM314.5 112.3h1v1h-1zM319.7 108.0h1v1h-1zM309.5 113.0h1v1h-1zM318.2 104.0h1v1h-1zM314.3 108.8h1v1h-1zM315.7 104.6h1v1h-1zM305.6 110.3h1v1h-1zM324.5 119.1h1v1h-1zM313.7 102.5h1v1h-1zM327.3 116.6h1v1h-1zM312.9 111.5h1v1h-1zM328.7 115.8h1v1h-1zM310.6 108.8h1v1h-1zM318.7 123.4h1v1h-1zM324.8 123.4h1v1h-1zM312.0 114.3h1v1h-1zM318.8 114.0h1v1h-1zM319.6 117.2h1v1h-1zM314.9 102.0h1v1h-1zM305.5 124.7h1v1h-1zM313.8 111.7h1v1h-1zM330.2 120.2h1v1h-1zM322.8 114.9h1v1h-1zM322.5 120.4h1v1h-1zM327.7 124.4h1v1h-1zM315.7 110.2h1v1h-1zM323.7 111.8h1v1h-1zM317.4 120.7h1v1h-1zM311.2 114.7h1v1h-1zM310.6 118.6h1v1h-1zM313.1 104.3h1v1h-1zM312.6 114.7h1v1h-1zM324.8 127.8h1v1h-1zM308.0 107.3h1v1h-1zM323.1 114.4h1v1h-1zM324.8 125.3h1v1h-1zM324.8 125.9h1v1h-1zM317.1 106.0h1v1h-1zM317.5 106.9h1v1h-1zM328.8 117.2h1v1h-1zM323.9 117.5h1v1h-1zM308.2 120.5h1v1h-1zM328.4 124.0h1v1h-1zM316.5 107.2h1v1h-1zM327.2 110.4h1v1h-1zM309.8 110.0h1v1h-1zM328.6 124.7h1v1h-1zM310.2 104.0h1v1h-1zM315.8 110.0h1v1h-1zM322.0 110.2h1v1h-1zM311.5 106.0h1v1h-1zM322.5 118.5h1v1h-1zM317.8 127.0h1v1h-1zM320.2 107.5h1v1h-1zM321.0 103.4h1v1h-1zM313.7 113.3h1v1h-1zM307.8 112.6h1v1h-1zM324.0 104.8h1v1h-1zM322.5 122.7h1v1h-1zM326.3 115.0h1v1h-1zM316.4 117.7h1v1h-1zM319.2 112.1h1v1h-1zM308.8 127.1h1v1h-1zM323.1 118.1h1v1h-1zM327.6 125.8h1v1h-1zM314.3 124.2h1v1h-1zM305.5 126.7h1v1h-1zM317.1 106.1h1v1h-1zM317.2 125.5h1v1h-1zM309.0 126.2h1v1h-1zM320.4 117.1h1v1h-1zM309.9 122.0h1v1h-1z"/><path fill="#505050" d="M323.9 118.8h1v1h-1zM323.1 116.1h1v1h-1zM306.3 120.9h1v1h-1zM308.1 127.6h1v1h-1zM318.6 126.2h1v1h-1zM322.8 108.0h1v1h-1zM311.0 108.2h1v1h-1zM326.4 119.1h1v1h-1zM309.9 123.3h1v1h-1zM326.8 126.2h1v1h-1zM321.9 127.8h1v1h-1zM329.4 116.6h1v1h-1zM322.9 117.2h1v1h-1zM323.3 112.4h1v1h-1zM317.7 110.7h1v1h-1zM313.1 123.8h1v1h-1zM315.1 120.0h1v1h-1zM322.8 116.3h1v1h-1zM314.7 119.2h1v1h-1zM318.5 109.3h1v1h-1zM322.7 116.1h1v1h-1zM312.6 110.2h1v1h-1zM318.6 113.4h1v1h-1zM313.5 122.3h1v1h-1zM309.3 115.1h1v1h-1zM316.5 125.9h1v1h-1zM321.4 106.7h1v1h-1zM319.9 117.3h1v1h-1zM315.8 117.5h1v1h-1zM307.3 126.5h1v1h-1zM313.5 117.6h1v1h-1zM327.9 122.7h1v1h-1zM313.6 120.4h1v1h-1zM315.7 124.2h1v1h-1zM323.5 121.8h1v1h-1zM323.5 110.7h1v1h-1zM322.2 107.1h1v1h-1zM312.5 122.0h1v1h-1zM305.9 125.6h1v1h-1zM330.5 128.2h1v1h-1zM319.9 128.0h1v1h-1zM308.8 123.1h1v1h-1zM317.1 111.6h1v1h-1zM314.0 119.7h1v1h-1zM318.0 109.2h1v1h-1zM318.5 110.1h1v1h-1zM319.3 118.1h1v1h-1zM315.2 118.1h1v1h-1zM311.8 115.3h1v1h-1zM316.0 119.7h1v1h-1zM313.5 123.9h1v1h-1zM320.1 124.5h1v1h-1zM321.2 127.3h1v1h-1zM315.8 115.8h1v1h-1zM319.6 121.4h1v1h-1zM319.5 126.5h1v1h-1zM321.6 119.6h1v1h-1zM321.4 114.6h1v1h-1zM318.6 121.3h1v1h-1zM324.2 125.0h1v1h-1zM314.1 117.5h1v1h-1zM324.5 107.1h1v1h-1zM318.6 108.3h1v1h-1zM315.5 106.1h1v1h-1zM314.8 128.4h1v1h-1zM307.8 124.6h1v1h-1zM306.8 123.7h1v1h-1zM312.1 113.9h1v1h-1zM309.4 110.6h1v1h-1zM316.2 125.4h1v1h-1zM308.8 116.2h1v1h-1zM308.9 115.4h1v1h-1zM308.8 120.7h1v1h-1zM325.1 110.1h1v1h-1zM309.2 114.4h1v1h-1zM310.7 118.2h1v1h-1zM321.3 115.6h1v1h-1zM317.7 125.3h1v1h-1zM308.9 112.5h1v1h-1zM322.7 116.9h1v1h-1zM309.9 122.0h1v1h-1zM310.5 106.8h1v1h-1zM326.3 121.0h1v1h-1zM306.4 112.1h1v1h-1zM316.1 115.9h1v1h-1zM306.7 120.1h1v1h-1zM307.7 116.0h1v1h-1zM326.5 112.3h1v1h-1zM306.8 120.9h1v1h-1zM314.6 123.4h1v1h-1zM312.7 122.6h1v1h-1zM322.6 106.4h1v1h-1zM319.1 113.8h1v1h-1zM310.2 108.2h1v1h-1zM311.0 124.7h1v1h-1zM306.5 123.6h1v1h-1zM320.3 112.3h1v1h-1zM319.5 123.2h1v1h-1zM320.7 117.4h1v1h-1zM323.1 108.2h1v1h-1zM325.8 114.3h1v1h-1zM314.4 120.3h1v1h-1zM317.9 121.0h1v1h-1zM312.7 126.7h1v1h-1zM324.8 115.8h1v1h-1zM306.3 117.3h1v1h-1zM324.3 113.5h1v1h-1zM312.3 127.9h1v1h-1zM321.5 112.1h1v1h-1zM316.5 115.0h1v1h-1zM318.7 127.9h1v1h-1zM313.3 127.4h1v1h-1zM324.1 109.4h1v1h-1zM315.8 113.9h1v1h-1zM310.7 121.5h1v1h-1zM307.0 113.8h1v1h-1zM321.1 106.7h1v1h-1zM321.9 110.4h1v1h-1zM324.3 119.1h1v1h-1zM308.3 118.4h1v1h-1zM324.1 110.1h1v1h-1zM320.9 115.9h1v1h-1zM321.3 105.9h1v1h-1zM311.0 126.3h1v1h-1zM309.8 123.3h1v1h-1zM318.3 117.8h1v1h-1zM321.2 115.4h1v1h-1zM311.1 110.1h1v1h-1zM311.9 107.6h1v1h-1zM315.9 121.2h1v1h-1zM317.8 114.1h1v1h-1zM313.9 106.0h1v1h-1zM326.7 119.1h1v1h-1zM318.6 114.1h1v1h-1zM311.5 127.3h1v1h-1zM312.1 122.4h1v1h-1zM315.8 113.5h1v1h-1zM307.1 124.8h1v1h-1zM314.3 116.6h1v1h-1zM307.3 114.1h1v1h-1zM325.9 123.8h1v1h-1zM308.4 109.5h1v1h-1zM310.1 123.0h1v1h-1zM308.4 109.4h1v1h-1zM309.1 115.3h1v1h-1zM315.6 113.8h1v1h-1zM308.5 121.9h1v1h-1zM316.8 110.7h1v1h-1zM307.7 117.2h1v1h-1zM312.8 123.1h1v1h-1zM322.6 106.9h1v1h-1zM307.0 127.6h1v1h-1zM327.9 125.9h1v1h-1zM308.2 121.9h1v1h-1zM326.1 124.3h1v1h-1zM310.1 119.9h1v1h-1zM316.8 106.7h1v1h-1zM314.4 121.5h1v1h-1zM318.6 123.7h1v1h-1zM312.8 111.3h1v1h-1zM311.7 103.1h1v1h-1zM317.9 106.5h1v1h-1zM313.0 127.3h1v1h-1zM316.9 108.0h1v1h-1zM327.1 114.6h1v1h-1z"/><path fill="#707070" d="M320.5 110.7h1v1h-1zM314.2 116.8h1v1h-1zM309.8 117.7h1v1h-1zM318.6 124.0h1v1h-1zM316.0 112.7h1v1h-1zM309.8 115.6h1v1h-1zM318.0 115.5h1v1h-1zM325.0 123.1h1v1h-1zM318.8 111.9h1v1h-1zM318.5 119.1h1v1h-1zM310.7 118.2h1v1h-1zM322.3 119.1h1v1h-1zM314.8 119.0h1v1h-1zM315.4 111.4h1v1h-1zM312.2 116.6h1v1h-1zM319.0 112.6h1v1h-1zM322.5 122.2h1v1h-1zM313.5 112.3h1v1h-1zM314.9 117.4h1v1h-1zM316.2 128.2h1v1h-1zM322.1 114.5h1v1h-1zM311.1 112.0h1v1h-1zM317.0 119.4h1v1h-1zM323.6 118.9h1v1h-1zM313.2 111.3h1v1h-1zM317.4 122.7h1v1h-1zM316.8 112.1h1v1h-1zM307.9 118.3h1v1h-1zM321.0 124.3h1v1h-1zM321.9 115.4h1v1h-1zM313.8 112.9h1v1h-1zM326.2 125.1h1v1h-1zM320.7 113.3h1v1h-1zM325.7 117.4h1v1h-1zM312.3 122.4h1v1h-1zM311.7 118.3h1v1h-1zM312.9 110.2h1v1h-1zM309.3 120.5h1v1h-1zM320.0 114.2h1v1h-1zM317.0 109.0h1v1h-1zM315.9 110.9h1v1h-1zM308.2 128.0h1v1h-1zM307.8 125.4h1v1h-1zM321.6 115.4h1v1h-1zM324.0 115.8h1v1h-1zM315.2 119.2h1v1h-1zM320.4 114.5h1v1h-1zM314.2 114.2h1v1h-1zM322.0 113.1h1v1h-1zM319.9 116.8h1v1h-1zM308.2 120.4h1v1h-1zM322.9 119.2h1v1h-1zM321.4 127.1h1v1h-1zM309.9 120.9h1v1h-1zM314.2 125.6h1v1h-1zM316.0 127.5h1v1h-1zM310.2 116.9h1v1h-1zM315.3 118.1h1v1h-1zM319.1 106.9h1v1h-1zM320.4 113.3h1v1h-1zM308.8 125.0h1v1h-1zM322.7 119.5h1v1h-1zM324.8 122.4h1v1h-1zM324.8 117.7h1v1h-1zM311.2 114.1h1v1h-1zM322.4 127.0h1v1h-1zM312.0 112.3h1v1h-1zM323.5 125.3h1v1h-1zM324.6 119.0h1v1h-1zM317.6 110.4h1v1h-1zM312.0 110.6h1v1h-1zM312.0 122.4h1v1h-1zM320.2 125.6h1v1h-1zM312.1 125.4h1v1h-1zM308.2 117.4h1v1h-1zM322.5 115.4h1v1h-1zM317.3 125.0h1v1h-1zM325.1 125.3h1v1h-1zM315.4 126.7h1v1h-1zM320.4 120.4h1v1h-1zM318.7 117.2h1v1h-1zM321.4 112.9h1v1h-1zM323.6 118.8h1v1h-1zM323.3 114.1h1v1h-1zM317.9 120.1h1v1h-1zM313.9 113.0h1v1h-1zM306.7 120.8h1v1h-1zM308.1 115.6h1v1h-1zM309.9 123.6h1v1h-1zM319.1 112.5h1v1h-1zM318.8 125.9h1v1h-1zM324.4 114.6h1v1h-1zM316.1 109.0h1v1h-1zM322.8 126.7h1v1h-1zM321.2 118.0h1v1h-1zM307.9 121.8h1v1h-1zM319.5 112.5h1v1h-1zM325.0 126.3h1v1h-1zM321.3 121.8h1v1h-1zM323.1 118.9h1v1h-1zM315.4 126.7h1v1h-1zM311.4 111.0h1v1h-1zM321.1 124.6h1v1h-1zM320.9 128.4h1v1h-1zM320.7 119.9h1v1h-1zM317.6 120.5h1v1h-1zM315.6 121.9h1v1h-1zM325.0 113.9h1v1h-1zM317.0 117.0h1v1h-1zM315.5 107.8h1v1h-1zM316.8 125.0h1v1h-1zM320.8 117.2h1v1h-1zM316.5 124.4h1v1h-1zM310.2 119.4h1v1h-1zM322.5 114.4h1v1h-1zM307.3 119.6h1v1h-1zM314.8 112.0h1v1h-1z"/><path fill="#909090" d="M322.7 120.3h1v1h-1zM312.1 120.5h1v1h-1zM324.8 123.2h1v1h-1zM320.2 118.4h1v1h-1zM320.5 123.8h1v1h-1zM313.1 123.9h1v1h-1zM318.9 120.2h1v1h-1zM321.4 121.5h1v1h-1zM315.5 125.6h1v1h-1zM321.0 127.2h1v1h-1zM321.3 126.6h1v1h-1zM311.1 121.3h1v1h-1zM319.2 121.6h1v1h-1zM313.9 128.3h1v1h-1zM310.9 118.4h1v1h-1zM319.2 125.7h1v1h-1zM321.0 123.9h1v1h-1zM320.8 121.1h1v1h-1zM316.8 123.2h1v1h-1zM323.5 120.7h1v1h-1zM318.5 123.4h1v1h-1zM322.1 120.6h1v1h-1zM320.5 128.3h1v1h-1zM323.7 123.9h1v1h-1zM311.1 125.6h1v1h-1zM322.0 118.8h1v1h-1zM311.6 123.0h1v1h-1zM323.9 121.9h1v1h-1zM320.0 110.7h1v1h-1zM315.6 117.8h1v1h-1zM313.2 122.4h1v1h-1zM314.7 115.3h1v1h-1zM316.4 115.2h1v1h-1zM318.9 127.4h1v1h-1zM310.1 124.3h1v1h-1zM314.9 127.4h1v1h-1zM317.0 115.2h1v1h-1zM313.6 116.1h1v1h-1zM315.5 125.4h1v1h-1zM309.1 122.8h1v1h-1zM320.5 124.5h1v1h-1zM322.2 119.5h1v1h-1zM323.4 126.3h1v1h-1zM319.6 124.1h1v1h-1z"/><path fill="#b0b0b0" d="M315.8 123.4h1v1h-1zM315.0 121.7h1v1h-1z"/></g>
<line x1="304.7" y1="38.5" x2="304.7" y2="128.4" stroke="#8c8c8c" stroke-width="1.1"/>
<line x1="261.3" y1="100.2" x2="352.7" y2="100.2" stroke="#6c6c6c" stroke-width="1.0"/>
<rect x="261.3" y="38.5" width="91.4" height="89.9" fill="none" stroke="#5c5c5c" stroke-width="1.0"/>
<path d="M261.3 128.4h-2.2M261.3 121.6h-1.2M261.3 117.7h-1.2M261.3 114.9h-1.2M261.3 112.7h-1.2M261.3 110.9h-1.2M261.3 109.4h-1.2M261.3 108.1h-1.2M261.3 107.0h-1.2M261.3 105.9h-2.2M261.3 99.2h-1.2M261.3 95.2h-1.2M261.3 92.4h-1.2M261.3 90.2h-1.2M261.3 88.4h-1.2M261.3 86.9h-1.2M261.3 85.6h-1.2M261.3 84.5h-1.2M261.3 83.5h-2.2M261.3 76.7h-1.2M261.3 72.7h-1.2M261.3 69.9h-1.2M261.3 67.7h-1.2M261.3 66.0h-1.2M261.3 64.5h-1.2M261.3 63.2h-1.2M261.3 62.0h-1.2M261.3 61.0h-2.2M261.3 54.2h-1.2M261.3 50.3h-1.2M261.3 47.4h-1.2M261.3 45.3h-1.2M261.3 43.5h-1.2M261.3 42.0h-1.2M261.3 40.7h-1.2M261.3 39.5h-1.2M261.3 128.4v2.2M268.2 128.4v1.2M272.2 128.4v1.2M275.1 128.4v1.2M277.3 128.4v1.2M279.1 128.4v1.2M280.6 128.4v1.2M281.9 128.4v1.2M283.1 128.4v1.2M284.1 128.4v2.2M291.0 128.4v1.2M295.1 128.4v1.2M297.9 128.4v1.2M300.1 128.4v1.2M301.9 128.4v1.2M303.5 128.4v1.2M304.8 128.4v1.2M306.0 128.4v1.2M307.0 128.4v2.2M313.9 128.4v1.2M317.9 128.4v1.2M320.8 128.4v1.2M323.0 128.4v1.2M324.8 128.4v1.2M326.3 128.4v1.2M327.6 128.4v1.2M328.8 128.4v1.2M329.9 128.4v2.2M336.7 128.4v1.2M340.8 128.4v1.2M343.6 128.4v1.2M345.8 128.4v1.2M347.6 128.4v1.2M349.2 128.4v1.2M350.5 128.4v1.2M351.7 128.4v1.2" stroke="#777" stroke-width="0.8" fill="none"/>
<text x="347.4" y="51.1" font-size="12" text-anchor="end" stroke="#000" stroke-width="0.12">00</text>
<clipPath id="cfl1"><rect x="362.8" y="37.8" width="91.0" height="89.9"/></clipPath>
<g clip-path="url(#cfl1)"><ellipse cx="418.0" cy="120.0" rx="11.4" ry="15.8" fill="#c4c4c4" fill-opacity="0.80" filter="url(#bl)" transform="rotate(0.0 418.0 120.0)"/><path fill="#202020" d="M414.9 105.0h1v1h-1zM407.6 116.4h1v1h-1zM415.7 106.4h1v1h-1zM427.8 107.0h1v1h-1zM416.8 124.5h1v1h-1zM412.1 125.8h1v1h-1zM415.9 117.5h1v1h-1zM410.9 112.7h1v1h-1zM418.2 111.5h1v1h-1zM409.7 123.1h1v1h-1zM412.0 106.0h1v1h-1zM416.9 114.4h1v1h-1zM409.0 108.6h1v1h-1zM413.3 105.6h1v1h-1zM424.9 125.3h1v1h-1zM425.4 114.5h1v1h-1zM416.6 117.8h1v1h-1zM424.2 114.3h1v1h-1zM418.3 112.9h1v1h-1zM412.7 107.8h1v1h-1zM419.0 121.5h1v1h-1zM427.6 113.3h1v1h-1zM424.4 121.4h1v1h-1zM419.5 114.4h1v1h-1zM420.7 115.3h1v1h-1zM424.7 125.5h1v1h-1zM419.7 125.4h1v1h-1zM416.8 119.4h1v1h-1zM419.0 123.1h1v1h-1zM410.3 119.6h1v1h-1zM411.5 107.7h1v1h-1zM419.3 111.4h1v1h-1zM420.2 108.9h1v1h-1zM422.4 119.1h1v1h-1zM424.6 125.0h1v1h-1zM424.5 119.2h1v1h-1zM423.5 122.1h1v1h-1zM414.7 119.1h1v1h-1zM411.5 120.8h1v1h-1zM415.9 123.5h1v1h-1zM423.9 113.6h1v1h-1zM413.4 123.3h1v1h-1zM419.3 125.3h1v1h-1zM424.1 127.6h1v1h-1zM424.9 114.8h1v1h-1zM415.6 105.6h1v1h-1zM422.9 110.8h1v1h-1zM406.2 123.7h1v1h-1zM414.4 119.3h1v1h-1zM424.0 118.5h1v1h-1zM428.8 118.2h1v1h-1zM409.8 116.6h1v1h-1zM412.2 119.1h1v1h-1zM409.1 122.5h1v1h-1zM408.3 123.0h1v1h-1zM425.3 122.5h1v1h-1zM426.8 127.7h1v1h-1zM409.2 119.6h1v1h-1zM422.1 121.6h1v1h-1zM409.5 122.6h1v1h-1zM425.5 108.9h1v1h-1zM427.2 127.7h1v1h-1zM407.9 120.8h1v1h-1zM418.8 115.5h1v1h-1zM407.9 120.4h1v1h-1zM425.6 123.4h1v1h-1zM420.9 114.5h1v1h-1zM420.4 113.5h1v1h-1zM418.4 116.7h1v1h-1zM423.0 118.3h1v1h-1zM415.6 111.9h1v1h-1zM421.6 103.3h1v1h-1zM419.4 125.2h1v1h-1zM414.0 111.3h1v1h-1zM427.2 122.0h1v1h-1zM421.9 123.2h1v1h-1zM419.9 120.8h1v1h-1zM427.9 118.3h1v1h-1zM426.1 124.4h1v1h-1zM417.9 107.5h1v1h-1zM425.5 118.1h1v1h-1zM424.3 114.6h1v1h-1zM422.8 112.3h1v1h-1zM413.5 108.7h1v1h-1zM410.3 109.3h1v1h-1zM426.6 114.3h1v1h-1zM427.3 109.4h1v1h-1zM428.4 127.0h1v1h-1zM419.3 104.6h1v1h-1zM415.2 116.2h1v1h-1zM416.5 118.1h1v1h-1zM422.7 121.0h1v1h-1zM428.8 109.5h1v1h-1zM420.5 123.8h1v1h-1zM415.3 116.4h1v1h-1zM420.9 111.6h1v1h-1zM416.0 124.8h1v1h-1zM425.7 125.3h1v1h-1zM417.3 124.3h1v1h-1zM408.1 126.0h1v1h-1zM425.2 127.3h1v1h-1zM417.2 123.1h1v1h-1zM420.8 118.2h1v1h-1zM409.5 105.9h1v1h-1zM425.0 126.4h1v1h-1zM422.9 121.4h1v1h-1zM408.0 117.9h1v1h-1zM413.3 123.6h1v1h-1zM411.3 105.7h1v1h-1zM405.8 120.6h1v1h-1zM427.1 113.8h1v1h-1zM418.9 111.2h1v1h-1zM413.5 120.8h1v1h-1zM408.5 120.0h1v1h-1zM418.8 110.9h1v1h-1zM428.7 123.5h1v1h-1zM420.9 126.8h1v1h-1zM417.9 108.1h1v1h-1zM413.9 114.1h1v1h-1zM411.9 123.1h1v1h-1zM415.9 114.2h1v1h-1zM424.7 114.3h1v1h-1zM428.2 119.8h1v1h-1zM421.0 107.0h1v1h-1zM426.7 125.3h1v1h-1zM416.6 113.2h1v1h-1zM407.9 121.3h1v1h-1zM421.8 108.2h1v1h-1zM406.1 119.2h1v1h-1zM421.1 119.1h1v1h-1zM415.0 111.8h1v1h-1zM425.6 112.0h1v1h-1zM410.7 124.5h1v1h-1zM417.6 103.9h1v1h-1zM420.1 105.3h1v1h-1zM423.8 109.3h1v1h-1zM418.1 122.4h1v1h-1zM419.3 126.7h1v1h-1z"/><path fill="#4d4d4d" d="M420.5 110.4h1v1h-1zM414.9 110.5h1v1h-1zM418.9 123.5h1v1h-1zM418.8 111.2h1v1h-1zM407.5 119.6h1v1h-1zM416.5 115.2h1v1h-1zM413.0 127.1h1v1h-1zM412.7 119.2h1v1h-1zM411.0 116.3h1v1h-1zM413.7 104.9h1v1h-1zM417.4 111.4h1v1h-1zM423.9 127.2h1v1h-1zM416.0 110.7h1v1h-1zM427.1 124.9h1v1h-1zM416.3 112.3h1v1h-1zM421.0 110.0h1v1h-1zM413.0 114.0h1v1h-1zM427.2 123.9h1v1h-1zM418.9 110.7h1v1h-1zM420.6 114.5h1v1h-1zM417.3 107.8h1v1h-1zM428.5 111.7h1v1h-1zM415.0 113.7h1v1h-1zM418.8 125.2h1v1h-1zM409.0 127.1h1v1h-1zM407.2 110.6h1v1h-1zM410.4 116.1h1v1h-1zM415.7 110.0h1v1h-1zM421.2 109.1h1v1h-1zM414.2 121.7h1v1h-1zM417.9 107.5h1v1h-1zM410.8 113.6h1v1h-1zM423.2 105.0h1v1h-1zM417.4 109.2h1v1h-1zM408.1 119.5h1v1h-1zM408.1 111.9h1v1h-1zM415.8 115.1h1v1h-1zM427.6 115.9h1v1h-1zM429.5 113.4h1v1h-1zM416.5 106.6h1v1h-1zM415.2 117.2h1v1h-1zM421.0 112.2h1v1h-1zM418.3 117.8h1v1h-1zM426.2 120.4h1v1h-1zM416.9 124.8h1v1h-1zM425.5 105.9h1v1h-1zM425.4 112.7h1v1h-1zM409.6 125.0h1v1h-1zM416.2 120.9h1v1h-1zM421.3 102.1h1v1h-1zM413.7 120.1h1v1h-1zM424.7 119.0h1v1h-1zM423.4 112.7h1v1h-1zM412.7 108.1h1v1h-1zM416.3 105.0h1v1h-1zM410.1 119.6h1v1h-1zM424.9 118.0h1v1h-1zM413.4 124.6h1v1h-1zM417.0 125.1h1v1h-1zM421.1 115.5h1v1h-1zM407.7 122.5h1v1h-1zM420.6 126.8h1v1h-1zM413.8 126.4h1v1h-1zM410.7 124.1h1v1h-1zM421.3 118.8h1v1h-1zM416.6 110.8h1v1h-1zM427.3 120.1h1v1h-1zM421.3 111.2h1v1h-1zM424.6 118.1h1v1h-1zM422.4 125.8h1v1h-1zM424.3 119.7h1v1h-1zM418.1 124.7h1v1h-1zM423.6 117.0h1v1h-1zM425.0 111.1h1v1h-1zM408.2 110.1h1v1h-1zM410.5 119.8h1v1h-1zM417.0 109.7h1v1h-1zM413.6 105.4h1v1h-1zM427.3 123.1h1v1h-1zM421.1 114.1h1v1h-1zM427.4 122.4h1v1h-1zM428.8 117.9h1v1h-1zM418.3 119.4h1v1h-1zM414.4 118.8h1v1h-1zM420.2 123.7h1v1h-1zM417.0 121.0h1v1h-1zM415.7 123.3h1v1h-1zM414.5 120.7h1v1h-1zM428.0 110.1h1v1h-1zM412.3 105.0h1v1h-1zM417.0 124.1h1v1h-1zM411.2 109.0h1v1h-1zM414.7 124.4h1v1h-1zM417.5 118.2h1v1h-1zM407.2 121.8h1v1h-1zM410.3 125.1h1v1h-1zM415.9 116.7h1v1h-1zM417.5 105.0h1v1h-1zM418.5 126.2h1v1h-1zM412.6 114.1h1v1h-1zM422.9 124.6h1v1h-1zM420.1 118.0h1v1h-1zM424.8 127.5h1v1h-1zM416.5 118.2h1v1h-1zM422.3 109.5h1v1h-1zM416.7 126.9h1v1h-1zM409.0 118.5h1v1h-1zM413.5 125.5h1v1h-1zM410.8 121.2h1v1h-1zM421.5 112.8h1v1h-1zM415.0 119.6h1v1h-1zM419.8 125.2h1v1h-1zM423.3 109.6h1v1h-1zM414.4 121.9h1v1h-1zM425.5 119.3h1v1h-1zM413.2 116.0h1v1h-1zM408.4 113.5h1v1h-1zM420.5 113.2h1v1h-1zM427.3 106.8h1v1h-1zM416.0 119.9h1v1h-1zM420.5 119.7h1v1h-1zM406.5 117.4h1v1h-1zM409.4 110.4h1v1h-1zM409.0 125.2h1v1h-1zM423.6 119.3h1v1h-1z"/><path fill="#7a7a7a" d="M422.0 112.5h1v1h-1zM416.8 103.3h1v1h-1zM423.9 122.8h1v1h-1zM422.7 122.4h1v1h-1zM421.2 121.6h1v1h-1zM422.9 119.7h1v1h-1zM417.7 119.3h1v1h-1zM417.3 116.4h1v1h-1zM411.1 108.9h1v1h-1zM425.7 116.6h1v1h-1zM414.2 115.7h1v1h-1zM417.7 118.2h1v1h-1zM412.4 117.0h1v1h-1zM423.3 126.5h1v1h-1zM418.8 103.0h1v1h-1zM425.0 114.4h1v1h-1zM413.6 118.9h1v1h-1zM426.2 103.1h1v1h-1zM423.5 123.7h1v1h-1zM425.5 127.2h1v1h-1zM428.7 115.5h1v1h-1zM409.4 124.6h1v1h-1zM421.2 125.7h1v1h-1zM419.9 119.5h1v1h-1zM417.6 105.4h1v1h-1zM412.0 112.5h1v1h-1zM412.8 121.5h1v1h-1zM424.3 122.2h1v1h-1zM420.3 115.2h1v1h-1zM424.6 118.1h1v1h-1zM412.1 106.4h1v1h-1zM427.8 108.0h1v1h-1zM409.6 118.2h1v1h-1zM429.0 124.4h1v1h-1zM415.4 116.6h1v1h-1zM425.7 111.8h1v1h-1zM407.5 110.7h1v1h-1zM423.3 116.7h1v1h-1zM420.5 117.2h1v1h-1zM415.8 117.6h1v1h-1zM424.0 111.6h1v1h-1zM419.7 102.8h1v1h-1zM419.6 122.8h1v1h-1zM418.5 115.2h1v1h-1zM421.7 119.1h1v1h-1zM419.1 118.1h1v1h-1zM423.0 104.8h1v1h-1zM425.7 114.3h1v1h-1zM405.8 118.8h1v1h-1zM409.8 124.4h1v1h-1zM422.3 122.3h1v1h-1zM420.6 118.4h1v1h-1zM416.2 105.7h1v1h-1zM425.2 108.7h1v1h-1zM423.3 121.7h1v1h-1zM426.8 110.3h1v1h-1zM414.7 117.7h1v1h-1zM430.7 121.0h1v1h-1zM424.3 125.4h1v1h-1zM421.3 119.2h1v1h-1zM424.6 111.5h1v1h-1zM417.8 113.4h1v1h-1zM427.0 119.1h1v1h-1zM423.8 108.9h1v1h-1zM424.8 118.8h1v1h-1zM410.8 115.8h1v1h-1zM415.9 115.2h1v1h-1zM410.1 113.0h1v1h-1zM412.3 127.1h1v1h-1zM423.3 126.2h1v1h-1zM420.7 111.9h1v1h-1zM416.4 112.6h1v1h-1zM409.3 110.7h1v1h-1zM419.7 105.4h1v1h-1zM422.8 122.6h1v1h-1zM411.1 109.0h1v1h-1zM428.0 119.9h1v1h-1zM425.9 124.8h1v1h-1zM411.9 102.8h1v1h-1zM413.9 125.6h1v1h-1zM407.7 124.0h1v1h-1zM430.9 123.9h1v1h-1zM423.1 108.6h1v1h-1zM420.9 111.4h1v1h-1zM424.7 117.5h1v1h-1zM420.6 114.4h1v1h-1zM412.5 123.1h1v1h-1zM414.8 116.8h1v1h-1zM408.7 111.9h1v1h-1zM423.3 120.1h1v1h-1zM422.2 125.4h1v1h-1zM426.0 108.4h1v1h-1zM405.6 114.3h1v1h-1zM422.3 108.8h1v1h-1zM412.5 111.6h1v1h-1zM424.7 127.4h1v1h-1zM427.2 125.3h1v1h-1zM413.7 121.2h1v1h-1zM407.1 122.3h1v1h-1zM413.7 111.2h1v1h-1zM408.4 109.5h1v1h-1zM419.5 108.7h1v1h-1zM417.1 106.5h1v1h-1zM409.7 121.8h1v1h-1zM426.8 125.9h1v1h-1zM420.1 122.4h1v1h-1zM424.8 116.5h1v1h-1zM416.0 114.6h1v1h-1zM423.5 118.6h1v1h-1zM418.9 127.5h1v1h-1zM414.3 122.9h1v1h-1zM420.9 119.4h1v1h-1zM414.9 107.8h1v1h-1zM407.0 111.3h1v1h-1zM414.2 115.3h1v1h-1zM420.7 112.6h1v1h-1zM424.8 122.9h1v1h-1zM418.7 111.4h1v1h-1zM410.7 125.7h1v1h-1zM415.9 127.5h1v1h-1zM419.7 121.3h1v1h-1zM414.6 125.6h1v1h-1zM416.7 122.6h1v1h-1zM425.7 117.2h1v1h-1zM424.1 125.8h1v1h-1zM405.9 115.1h1v1h-1zM408.6 115.2h1v1h-1zM418.6 115.6h1v1h-1zM408.8 110.4h1v1h-1zM408.4 107.3h1v1h-1zM413.3 123.2h1v1h-1zM412.5 118.5h1v1h-1zM419.8 121.7h1v1h-1zM426.4 126.4h1v1h-1zM408.2 125.5h1v1h-1zM426.4 111.5h1v1h-1zM420.7 123.3h1v1h-1zM424.3 106.3h1v1h-1z"/><path fill="#a8a8a8" d="M419.8 104.7h1v1h-1zM410.9 115.7h1v1h-1zM416.9 123.6h1v1h-1zM419.6 110.1h1v1h-1zM412.4 109.4h1v1h-1zM414.0 125.9h1v1h-1zM417.4 115.7h1v1h-1zM417.2 120.0h1v1h-1zM424.8 120.5h1v1h-1zM424.6 118.1h1v1h-1zM412.4 109.6h1v1h-1zM414.7 105.0h1v1h-1zM414.4 122.4h1v1h-1zM414.2 110.8h1v1h-1zM412.2 123.1h1v1h-1zM422.5 102.8h1v1h-1zM419.3 111.5h1v1h-1zM421.7 126.4h1v1h-1zM418.1 121.1h1v1h-1zM416.7 116.9h1v1h-1zM419.4 104.4h1v1h-1zM420.2 125.0h1v1h-1zM408.7 110.3h1v1h-1zM430.0 119.9h1v1h-1zM420.0 124.4h1v1h-1zM407.9 125.9h1v1h-1zM417.4 116.5h1v1h-1zM411.8 125.1h1v1h-1zM428.3 112.4h1v1h-1zM418.9 105.3h1v1h-1zM410.0 115.6h1v1h-1zM411.4 124.5h1v1h-1zM406.3 123.7h1v1h-1zM416.8 117.5h1v1h-1zM413.0 125.2h1v1h-1zM428.2 124.3h1v1h-1zM409.9 121.7h1v1h-1zM413.4 124.6h1v1h-1zM419.6 122.2h1v1h-1zM414.6 113.9h1v1h-1zM424.6 115.4h1v1h-1zM425.4 107.9h1v1h-1zM426.2 126.9h1v1h-1zM416.0 115.0h1v1h-1zM413.6 120.8h1v1h-1zM410.6 120.9h1v1h-1zM416.1 121.1h1v1h-1zM409.9 113.9h1v1h-1zM418.0 109.9h1v1h-1zM415.1 106.1h1v1h-1zM425.9 117.5h1v1h-1zM414.5 109.8h1v1h-1zM413.6 113.8h1v1h-1zM417.2 109.2h1v1h-1zM418.0 127.3h1v1h-1zM419.5 117.2h1v1h-1zM407.1 119.1h1v1h-1zM417.8 117.7h1v1h-1zM412.2 119.2h1v1h-1zM416.8 116.9h1v1h-1zM416.9 120.1h1v1h-1zM416.5 120.7h1v1h-1zM420.4 107.2h1v1h-1zM417.6 118.2h1v1h-1zM424.1 122.9h1v1h-1zM427.7 126.2h1v1h-1zM419.0 108.7h1v1h-1zM420.8 110.5h1v1h-1zM421.3 108.8h1v1h-1zM420.9 120.7h1v1h-1zM419.5 124.7h1v1h-1zM410.3 116.4h1v1h-1zM419.4 106.6h1v1h-1zM425.4 116.5h1v1h-1zM417.2 116.8h1v1h-1zM424.5 121.0h1v1h-1zM423.6 127.6h1v1h-1zM422.1 119.4h1v1h-1zM427.4 105.9h1v1h-1zM419.8 109.7h1v1h-1zM418.3 113.3h1v1h-1zM422.7 104.4h1v1h-1zM417.4 117.8h1v1h-1zM423.5 121.5h1v1h-1zM406.9 115.4h1v1h-1zM408.0 126.3h1v1h-1zM415.0 119.7h1v1h-1zM417.1 104.1h1v1h-1zM407.0 115.8h1v1h-1zM425.0 121.1h1v1h-1zM416.8 113.9h1v1h-1zM425.7 107.3h1v1h-1zM413.6 120.5h1v1h-1zM418.4 110.9h1v1h-1zM422.1 126.1h1v1h-1zM415.1 121.5h1v1h-1zM416.3 113.9h1v1h-1zM412.9 124.4h1v1h-1zM420.7 107.3h1v1h-1zM407.2 118.9h1v1h-1zM425.9 114.3h1v1h-1zM413.8 117.0h1v1h-1zM416.8 114.6h1v1h-1zM421.3 113.0h1v1h-1zM424.4 126.9h1v1h-1zM416.9 115.7h1v1h-1zM408.3 125.4h1v1h-1zM421.9 117.2h1v1h-1zM420.8 120.5h1v1h-1zM419.4 123.5h1v1h-1zM411.2 119.3h1v1h-1zM408.1 120.3h1v1h-1zM415.8 125.9h1v1h-1zM418.4 107.3h1v1h-1zM425.5 104.9h1v1h-1zM424.4 123.4h1v1h-1zM417.8 112.5h1v1h-1zM418.5 119.5h1v1h-1zM418.1 107.6h1v1h-1zM412.5 112.5h1v1h-1zM414.2 126.1h1v1h-1zM416.2 115.8h1v1h-1zM416.9 114.8h1v1h-1zM422.8 110.8h1v1h-1zM412.8 116.4h1v1h-1zM419.1 113.3h1v1h-1zM422.6 116.4h1v1h-1zM421.9 108.3h1v1h-1zM427.8 121.3h1v1h-1zM424.3 123.7h1v1h-1zM416.2 116.5h1v1h-1zM426.4 119.9h1v1h-1zM411.0 112.7h1v1h-1zM422.2 108.0h1v1h-1zM408.1 115.2h1v1h-1zM412.9 108.8h1v1h-1zM423.5 114.2h1v1h-1zM423.3 126.1h1v1h-1zM419.3 116.5h1v1h-1z"/></g>
<line x1="405.3" y1="37.8" x2="405.3" y2="127.7" stroke="#8c8c8c" stroke-width="1.1"/>
<line x1="362.8" y1="99.2" x2="453.8" y2="99.2" stroke="#6c6c6c" stroke-width="1.0"/>
<rect x="362.8" y="37.8" width="91.0" height="89.9" fill="none" stroke="#5c5c5c" stroke-width="1.0"/>
<path d="M362.8 127.7h-2.2M362.8 120.9h-1.2M362.8 117.0h-1.2M362.8 114.2h-1.2M362.8 112.0h-1.2M362.8 110.2h-1.2M362.8 108.7h-1.2M362.8 107.4h-1.2M362.8 106.3h-1.2M362.8 105.2h-2.2M362.8 98.5h-1.2M362.8 94.5h-1.2M362.8 91.7h-1.2M362.8 89.5h-1.2M362.8 87.7h-1.2M362.8 86.2h-1.2M362.8 84.9h-1.2M362.8 83.8h-1.2M362.8 82.8h-2.2M362.8 76.0h-1.2M362.8 72.0h-1.2M362.8 69.2h-1.2M362.8 67.0h-1.2M362.8 65.3h-1.2M362.8 63.8h-1.2M362.8 62.5h-1.2M362.8 61.3h-1.2M362.8 60.3h-2.2M362.8 53.5h-1.2M362.8 49.6h-1.2M362.8 46.7h-1.2M362.8 44.6h-1.2M362.8 42.8h-1.2M362.8 41.3h-1.2M362.8 40.0h-1.2M362.8 38.8h-1.2M362.8 127.7v2.2M369.6 127.7v1.2M373.7 127.7v1.2M376.5 127.7v1.2M378.7 127.7v1.2M380.5 127.7v1.2M382.0 127.7v1.2M383.3 127.7v1.2M384.5 127.7v1.2M385.6 127.7v2.2M392.4 127.7v1.2M396.4 127.7v1.2M399.2 127.7v1.2M401.5 127.7v1.2M403.3 127.7v1.2M404.8 127.7v1.2M406.1 127.7v1.2M407.3 127.7v1.2M408.3 127.7v2.2M415.1 127.7v1.2M419.2 127.7v1.2M422.0 127.7v1.2M424.2 127.7v1.2M426.0 127.7v1.2M427.5 127.7v1.2M428.8 127.7v1.2M430.0 127.7v1.2M431.1 127.7v2.2M437.9 127.7v1.2M441.9 127.7v1.2M444.7 127.7v1.2M447.0 127.7v1.2M448.8 127.7v1.2M450.3 127.7v1.2M451.6 127.7v1.2M452.8 127.7v1.2" stroke="#777" stroke-width="0.8" fill="none"/>
<text x="452.5" y="49.6" font-size="12" text-anchor="end" stroke="#000" stroke-width="0.12">00</text>
<clipPath id="cnd2"><rect x="48.5" y="138.8" width="93.0" height="91.5"/></clipPath>
<g clip-path="url(#cnd2)"><path fill="#b0b0b0" d="M104.5 184.6h1v1h-1zM108.5 182.6h1v1h-1zM109.4 191.6h1v1h-1zM104.0 176.4h1v1h-1zM108.6 171.3h1v1h-1zM105.3 194.8h1v1h-1zM117.6 192.8h1v1h-1zM112.6 194.6h1v1h-1zM109.2 197.6h1v1h-1z"/><path fill="#c8c8c8" d="M101.4 170.8h1v1h-1zM98.1 200.0h1v1h-1zM109.8 198.9h1v1h-1zM108.0 174.5h1v1h-1zM101.5 192.4h1v1h-1zM102.9 199.4h1v1h-1zM113.8 170.0h1v1h-1zM104.8 201.0h1v1h-1z"/><path fill="#e0e0e0" d="M108.8 176.3h1v1h-1zM100.5 197.9h1v1h-1zM108.8 177.0h1v1h-1zM107.5 192.8h1v1h-1zM107.6 189.6h1v1h-1zM102.8 194.4h1v1h-1zM104.9 182.7h1v1h-1z"/><ellipse cx="105.5" cy="218.0" rx="11.9" ry="14.1" fill="#c8c8c8" fill-opacity="0.80" filter="url(#bl)" transform="rotate(-11.5 105.5 218.0)"/><path fill="#181818" d="M104.4 223.6h1v1h-1zM109.9 226.0h1v1h-1zM114.0 226.8h1v1h-1zM120.2 218.3h1v1h-1zM101.9 218.6h1v1h-1zM97.1 206.7h1v1h-1zM98.7 212.1h1v1h-1zM94.0 215.8h1v1h-1zM101.4 213.5h1v1h-1zM112.8 218.5h1v1h-1zM109.2 223.6h1v1h-1zM106.7 217.3h1v1h-1zM101.2 205.7h1v1h-1zM105.1 212.4h1v1h-1zM100.7 219.2h1v1h-1zM109.1 226.0h1v1h-1zM103.8 223.1h1v1h-1zM109.6 221.2h1v1h-1zM112.0 212.1h1v1h-1zM96.7 214.1h1v1h-1zM103.3 225.0h1v1h-1zM98.6 214.4h1v1h-1zM105.7 217.6h1v1h-1zM100.4 213.9h1v1h-1zM110.1 211.0h1v1h-1zM114.2 211.0h1v1h-1zM94.9 217.1h1v1h-1zM114.3 219.8h1v1h-1zM109.4 214.5h1v1h-1zM105.6 226.3h1v1h-1zM109.7 223.6h1v1h-1zM101.9 224.1h1v1h-1zM102.6 219.7h1v1h-1zM101.4 217.6h1v1h-1zM98.8 225.1h1v1h-1zM102.0 218.7h1v1h-1zM104.2 221.1h1v1h-1zM114.6 206.0h1v1h-1zM108.5 216.4h1v1h-1zM101.1 218.2h1v1h-1zM108.2 211.7h1v1h-1zM103.1 208.9h1v1h-1zM114.5 220.1h1v1h-1zM93.9 205.8h1v1h-1zM112.5 215.7h1v1h-1zM103.3 222.5h1v1h-1zM112.5 219.5h1v1h-1zM110.1 222.5h1v1h-1zM109.4 223.6h1v1h-1zM95.0 211.6h1v1h-1zM105.0 224.7h1v1h-1zM115.7 212.3h1v1h-1zM106.5 212.6h1v1h-1zM97.1 225.0h1v1h-1zM117.2 224.1h1v1h-1zM109.1 217.2h1v1h-1zM101.2 215.0h1v1h-1zM105.4 207.8h1v1h-1zM99.8 221.3h1v1h-1zM114.1 213.3h1v1h-1zM94.8 221.8h1v1h-1zM103.2 216.8h1v1h-1zM95.3 217.6h1v1h-1zM100.2 229.3h1v1h-1zM102.6 204.0h1v1h-1zM112.4 222.2h1v1h-1zM109.1 212.2h1v1h-1zM103.5 210.1h1v1h-1zM108.9 213.4h1v1h-1zM113.2 219.5h1v1h-1zM104.7 220.4h1v1h-1zM99.9 202.8h1v1h-1zM113.5 219.2h1v1h-1zM107.8 224.2h1v1h-1zM97.3 215.6h1v1h-1zM97.8 214.9h1v1h-1zM110.9 221.6h1v1h-1zM103.6 207.4h1v1h-1zM100.3 220.1h1v1h-1zM112.6 210.4h1v1h-1zM104.4 221.4h1v1h-1zM103.9 216.7h1v1h-1zM101.1 216.6h1v1h-1zM109.2 212.8h1v1h-1zM105.1 211.9h1v1h-1zM107.4 215.7h1v1h-1zM114.7 218.6h1v1h-1zM115.5 214.5h1v1h-1zM105.8 215.9h1v1h-1zM110.4 229.0h1v1h-1zM105.8 217.5h1v1h-1zM104.2 207.5h1v1h-1zM109.5 217.3h1v1h-1zM105.5 208.4h1v1h-1zM116.6 216.4h1v1h-1zM119.0 225.0h1v1h-1zM96.8 219.5h1v1h-1zM107.1 218.0h1v1h-1zM106.9 219.1h1v1h-1zM110.9 205.3h1v1h-1zM102.8 212.8h1v1h-1zM106.1 228.2h1v1h-1zM112.3 205.0h1v1h-1zM105.7 211.8h1v1h-1zM100.5 211.8h1v1h-1zM113.6 213.8h1v1h-1zM100.2 207.8h1v1h-1zM99.8 215.4h1v1h-1zM103.7 216.6h1v1h-1zM111.9 225.1h1v1h-1zM105.7 213.4h1v1h-1zM112.1 215.7h1v1h-1zM95.4 218.9h1v1h-1zM97.4 218.6h1v1h-1zM100.5 213.5h1v1h-1zM112.3 227.0h1v1h-1zM98.0 224.4h1v1h-1zM97.8 219.5h1v1h-1zM100.0 223.0h1v1h-1zM101.0 203.7h1v1h-1zM95.9 221.3h1v1h-1zM104.1 218.7h1v1h-1zM106.8 223.1h1v1h-1zM104.5 211.1h1v1h-1zM106.8 222.1h1v1h-1z"/><path fill="#4a4a4a" d="M106.5 206.7h1v1h-1zM109.6 221.1h1v1h-1zM98.7 222.1h1v1h-1zM103.0 228.9h1v1h-1zM104.6 221.9h1v1h-1zM97.9 204.6h1v1h-1zM108.5 207.9h1v1h-1zM98.9 223.2h1v1h-1zM99.8 219.0h1v1h-1zM110.4 221.2h1v1h-1zM100.8 209.3h1v1h-1zM112.0 209.5h1v1h-1zM113.1 218.1h1v1h-1zM116.1 223.6h1v1h-1zM106.6 202.3h1v1h-1zM104.0 217.1h1v1h-1zM103.4 221.9h1v1h-1zM113.8 211.8h1v1h-1zM103.5 214.9h1v1h-1zM108.5 220.4h1v1h-1zM99.6 211.6h1v1h-1zM102.8 203.7h1v1h-1zM104.0 219.6h1v1h-1zM104.5 217.9h1v1h-1zM108.0 218.2h1v1h-1zM105.8 205.3h1v1h-1zM104.8 224.7h1v1h-1zM95.0 214.6h1v1h-1zM101.5 217.7h1v1h-1zM103.7 223.9h1v1h-1zM110.2 214.0h1v1h-1zM107.9 221.6h1v1h-1zM100.5 211.1h1v1h-1zM102.3 214.9h1v1h-1zM105.2 203.6h1v1h-1zM106.7 208.0h1v1h-1zM104.9 224.8h1v1h-1zM109.8 211.2h1v1h-1zM102.1 211.0h1v1h-1zM97.4 220.4h1v1h-1zM103.7 226.0h1v1h-1zM104.2 230.0h1v1h-1zM102.9 222.6h1v1h-1zM115.6 229.5h1v1h-1zM93.2 223.7h1v1h-1zM112.0 207.6h1v1h-1zM111.5 211.6h1v1h-1zM98.2 219.6h1v1h-1zM102.0 229.3h1v1h-1zM106.9 220.8h1v1h-1zM112.4 224.1h1v1h-1zM102.2 209.8h1v1h-1zM101.8 209.5h1v1h-1zM102.0 214.0h1v1h-1zM102.4 226.9h1v1h-1zM118.9 216.2h1v1h-1zM111.9 223.7h1v1h-1zM107.3 217.9h1v1h-1zM97.8 224.0h1v1h-1zM114.9 207.1h1v1h-1zM109.2 210.7h1v1h-1zM100.9 224.7h1v1h-1zM107.3 205.0h1v1h-1zM96.4 215.2h1v1h-1zM99.5 227.2h1v1h-1zM108.3 218.4h1v1h-1zM103.4 226.4h1v1h-1zM98.2 213.6h1v1h-1zM98.4 215.2h1v1h-1zM107.6 206.4h1v1h-1zM109.8 222.3h1v1h-1zM108.7 213.0h1v1h-1zM103.6 214.9h1v1h-1zM114.5 208.6h1v1h-1zM101.9 227.8h1v1h-1zM106.0 223.6h1v1h-1zM102.1 223.2h1v1h-1zM106.6 219.1h1v1h-1zM109.4 224.6h1v1h-1zM102.8 220.1h1v1h-1zM102.9 205.2h1v1h-1zM111.4 219.9h1v1h-1zM113.8 227.6h1v1h-1zM102.9 204.0h1v1h-1zM110.1 226.8h1v1h-1zM95.6 219.6h1v1h-1zM106.6 214.1h1v1h-1zM99.4 223.2h1v1h-1zM101.1 207.5h1v1h-1zM115.0 216.5h1v1h-1zM108.7 202.6h1v1h-1zM108.3 208.9h1v1h-1zM114.0 225.1h1v1h-1zM97.8 229.1h1v1h-1zM100.2 221.9h1v1h-1zM113.4 209.5h1v1h-1zM108.7 214.4h1v1h-1zM117.2 208.0h1v1h-1zM109.1 223.1h1v1h-1zM97.0 218.1h1v1h-1zM108.1 228.6h1v1h-1zM119.3 221.5h1v1h-1zM112.5 208.2h1v1h-1zM95.4 217.3h1v1h-1zM102.1 229.3h1v1h-1zM97.0 210.4h1v1h-1zM114.7 212.3h1v1h-1zM103.2 211.3h1v1h-1zM99.5 222.2h1v1h-1zM96.0 229.5h1v1h-1zM95.0 211.1h1v1h-1zM114.7 216.4h1v1h-1zM97.6 227.8h1v1h-1zM110.1 210.3h1v1h-1z"/><path fill="#7d7d7d" d="M114.8 204.9h1v1h-1zM114.1 226.3h1v1h-1zM106.2 218.3h1v1h-1zM116.9 215.5h1v1h-1zM112.0 216.4h1v1h-1zM107.4 229.8h1v1h-1zM105.6 227.7h1v1h-1zM100.8 214.0h1v1h-1zM107.9 221.8h1v1h-1zM114.4 224.7h1v1h-1zM109.2 213.7h1v1h-1zM108.8 216.6h1v1h-1zM105.1 229.7h1v1h-1zM94.2 208.8h1v1h-1zM109.0 217.3h1v1h-1zM105.0 210.6h1v1h-1zM102.9 208.4h1v1h-1zM106.6 213.6h1v1h-1zM111.0 204.6h1v1h-1zM96.1 219.1h1v1h-1zM113.5 215.5h1v1h-1zM113.5 225.9h1v1h-1zM99.5 217.8h1v1h-1zM112.0 214.6h1v1h-1zM104.8 221.2h1v1h-1zM102.7 229.4h1v1h-1zM116.3 222.4h1v1h-1zM115.9 218.6h1v1h-1zM100.6 216.7h1v1h-1zM105.1 224.7h1v1h-1zM108.2 216.6h1v1h-1zM113.5 219.8h1v1h-1zM112.9 210.1h1v1h-1zM112.2 211.1h1v1h-1zM111.4 207.6h1v1h-1zM105.5 213.8h1v1h-1zM103.7 205.0h1v1h-1zM103.3 207.8h1v1h-1zM116.6 228.9h1v1h-1zM100.4 224.6h1v1h-1zM115.5 220.2h1v1h-1zM114.4 220.3h1v1h-1zM99.4 227.7h1v1h-1zM113.1 219.6h1v1h-1zM116.6 220.5h1v1h-1zM108.1 220.4h1v1h-1zM109.6 212.7h1v1h-1zM104.0 212.0h1v1h-1zM100.7 216.8h1v1h-1zM104.6 204.1h1v1h-1zM95.0 225.1h1v1h-1zM113.0 225.2h1v1h-1zM104.1 204.1h1v1h-1zM98.5 228.6h1v1h-1zM117.3 217.1h1v1h-1zM98.8 229.6h1v1h-1zM97.6 224.9h1v1h-1zM116.3 216.4h1v1h-1zM108.7 224.6h1v1h-1zM108.6 216.4h1v1h-1zM110.7 226.8h1v1h-1zM102.1 215.6h1v1h-1zM101.5 208.1h1v1h-1zM104.3 207.3h1v1h-1zM113.2 206.4h1v1h-1zM108.5 217.9h1v1h-1zM111.5 204.9h1v1h-1zM108.0 202.8h1v1h-1zM112.2 215.5h1v1h-1zM115.4 219.0h1v1h-1zM104.8 223.8h1v1h-1zM112.9 214.1h1v1h-1zM101.1 207.5h1v1h-1zM96.2 206.6h1v1h-1zM109.2 221.0h1v1h-1zM101.3 218.1h1v1h-1zM101.8 208.3h1v1h-1zM102.1 223.2h1v1h-1zM100.8 211.3h1v1h-1zM110.8 216.2h1v1h-1zM109.4 223.6h1v1h-1zM109.9 211.9h1v1h-1zM112.0 216.1h1v1h-1zM111.0 222.9h1v1h-1zM100.5 219.4h1v1h-1zM108.6 206.8h1v1h-1zM116.2 215.8h1v1h-1zM105.9 210.5h1v1h-1zM111.6 224.5h1v1h-1zM101.2 211.9h1v1h-1zM109.8 210.9h1v1h-1zM102.0 213.7h1v1h-1zM95.9 229.4h1v1h-1zM106.2 217.9h1v1h-1zM103.0 215.3h1v1h-1zM110.3 219.2h1v1h-1zM111.3 204.2h1v1h-1zM108.6 212.5h1v1h-1zM109.2 229.2h1v1h-1zM105.8 222.0h1v1h-1zM99.3 228.4h1v1h-1zM103.9 216.4h1v1h-1zM110.6 213.1h1v1h-1zM103.8 221.8h1v1h-1zM100.4 220.1h1v1h-1zM110.8 218.6h1v1h-1zM107.1 209.4h1v1h-1zM105.5 228.5h1v1h-1zM103.0 227.0h1v1h-1zM99.2 225.6h1v1h-1zM107.9 208.6h1v1h-1zM95.3 221.6h1v1h-1zM97.6 227.6h1v1h-1zM99.4 211.7h1v1h-1zM105.6 221.7h1v1h-1zM110.4 221.3h1v1h-1zM108.4 218.3h1v1h-1zM104.7 205.8h1v1h-1zM114.4 228.1h1v1h-1zM98.6 207.9h1v1h-1z"/><path fill="#b0b0b0" d="M100.5 224.8h1v1h-1zM117.1 212.4h1v1h-1zM100.8 224.3h1v1h-1zM105.4 219.7h1v1h-1zM116.3 212.7h1v1h-1zM105.8 205.6h1v1h-1zM100.4 226.0h1v1h-1zM109.0 219.6h1v1h-1zM101.7 218.7h1v1h-1zM110.3 210.7h1v1h-1zM105.5 218.2h1v1h-1zM112.7 206.3h1v1h-1zM116.2 218.2h1v1h-1zM118.5 213.9h1v1h-1zM107.9 211.3h1v1h-1zM104.6 225.8h1v1h-1zM102.2 215.2h1v1h-1zM115.8 216.4h1v1h-1zM110.1 214.1h1v1h-1zM105.2 225.5h1v1h-1zM99.8 213.2h1v1h-1zM114.4 218.3h1v1h-1zM106.2 206.2h1v1h-1zM108.6 219.9h1v1h-1zM107.3 222.3h1v1h-1zM104.6 218.3h1v1h-1zM102.6 213.7h1v1h-1zM111.9 217.1h1v1h-1zM112.1 218.7h1v1h-1zM107.2 208.4h1v1h-1zM104.4 213.6h1v1h-1zM103.7 213.5h1v1h-1zM103.6 220.9h1v1h-1zM109.6 223.3h1v1h-1zM102.3 207.4h1v1h-1zM105.0 210.1h1v1h-1zM107.4 214.4h1v1h-1zM102.3 214.1h1v1h-1zM106.6 226.6h1v1h-1zM94.0 229.4h1v1h-1zM111.5 211.9h1v1h-1zM104.5 217.7h1v1h-1zM113.6 226.1h1v1h-1zM114.5 223.9h1v1h-1zM112.3 208.5h1v1h-1zM115.8 220.4h1v1h-1zM110.8 215.4h1v1h-1zM103.7 227.4h1v1h-1zM107.2 214.4h1v1h-1zM103.4 209.9h1v1h-1zM97.9 208.7h1v1h-1zM101.4 215.3h1v1h-1zM110.4 202.8h1v1h-1zM94.7 224.7h1v1h-1zM97.9 228.8h1v1h-1zM103.0 214.7h1v1h-1zM96.1 225.5h1v1h-1zM111.1 222.0h1v1h-1zM106.9 214.4h1v1h-1zM105.4 205.4h1v1h-1zM113.6 209.6h1v1h-1zM119.0 215.0h1v1h-1zM98.8 213.0h1v1h-1zM101.3 227.0h1v1h-1zM110.1 204.9h1v1h-1zM97.3 230.0h1v1h-1zM110.6 222.9h1v1h-1zM114.5 226.4h1v1h-1zM115.0 216.7h1v1h-1zM99.2 217.3h1v1h-1zM108.4 228.2h1v1h-1zM99.3 220.4h1v1h-1zM105.8 224.3h1v1h-1zM113.6 224.7h1v1h-1zM101.7 212.3h1v1h-1zM98.6 221.9h1v1h-1zM113.5 215.2h1v1h-1zM105.9 221.4h1v1h-1zM97.8 226.3h1v1h-1zM95.1 217.0h1v1h-1zM94.6 204.9h1v1h-1zM100.5 226.8h1v1h-1zM112.5 216.3h1v1h-1zM96.6 221.3h1v1h-1zM100.4 208.4h1v1h-1zM115.0 214.3h1v1h-1zM114.8 213.9h1v1h-1zM109.3 228.6h1v1h-1zM101.9 218.2h1v1h-1zM108.0 226.3h1v1h-1zM100.0 216.9h1v1h-1zM104.9 206.8h1v1h-1zM110.5 220.1h1v1h-1zM98.9 221.2h1v1h-1zM108.4 210.8h1v1h-1zM103.0 210.1h1v1h-1zM111.3 219.0h1v1h-1zM99.5 209.4h1v1h-1zM100.5 225.1h1v1h-1zM107.3 210.2h1v1h-1zM116.5 211.7h1v1h-1zM99.7 221.1h1v1h-1zM96.2 209.0h1v1h-1zM95.6 218.2h1v1h-1zM101.7 219.5h1v1h-1zM107.3 218.8h1v1h-1zM96.1 216.2h1v1h-1zM98.8 209.4h1v1h-1zM111.7 228.2h1v1h-1zM117.7 221.4h1v1h-1zM114.5 207.9h1v1h-1zM113.2 226.5h1v1h-1zM115.0 211.2h1v1h-1zM110.3 217.0h1v1h-1zM97.7 218.7h1v1h-1zM114.1 207.0h1v1h-1zM95.2 229.8h1v1h-1zM103.0 204.6h1v1h-1zM102.0 205.5h1v1h-1zM103.8 211.6h1v1h-1zM113.3 228.5h1v1h-1z"/></g>
<line x1="92.8" y1="138.8" x2="92.8" y2="230.3" stroke="#8c8c8c" stroke-width="1.1"/>
<line x1="48.5" y1="201.4" x2="141.5" y2="201.4" stroke="#6c6c6c" stroke-width="1.0"/>
<rect x="48.5" y="138.8" width="93.0" height="91.5" fill="none" stroke="#5c5c5c" stroke-width="1.0"/>
<path d="M48.5 230.3h-2.2M48.5 223.4h-1.2M48.5 219.4h-1.2M48.5 216.5h-1.2M48.5 214.3h-1.2M48.5 212.5h-1.2M48.5 211.0h-1.2M48.5 209.6h-1.2M48.5 208.5h-1.2M48.5 207.4h-2.2M48.5 200.5h-1.2M48.5 196.5h-1.2M48.5 193.7h-1.2M48.5 191.4h-1.2M48.5 189.6h-1.2M48.5 188.1h-1.2M48.5 186.8h-1.2M48.5 185.6h-1.2M48.5 184.6h-2.2M48.5 177.7h-1.2M48.5 173.6h-1.2M48.5 170.8h-1.2M48.5 168.6h-1.2M48.5 166.7h-1.2M48.5 165.2h-1.2M48.5 163.9h-1.2M48.5 162.7h-1.2M48.5 161.7h-2.2M48.5 154.8h-1.2M48.5 150.8h-1.2M48.5 147.9h-1.2M48.5 145.7h-1.2M48.5 143.9h-1.2M48.5 142.3h-1.2M48.5 141.0h-1.2M48.5 139.8h-1.2M48.5 230.3v2.2M55.5 230.3v1.2M59.6 230.3v1.2M62.5 230.3v1.2M64.8 230.3v1.2M66.6 230.3v1.2M68.1 230.3v1.2M69.5 230.3v1.2M70.7 230.3v1.2M71.8 230.3v2.2M78.7 230.3v1.2M82.8 230.3v1.2M85.7 230.3v1.2M88.0 230.3v1.2M89.8 230.3v1.2M91.4 230.3v1.2M92.7 230.3v1.2M93.9 230.3v1.2M95.0 230.3v2.2M102.0 230.3v1.2M106.1 230.3v1.2M109.0 230.3v1.2M111.3 230.3v1.2M113.1 230.3v1.2M114.6 230.3v1.2M116.0 230.3v1.2M117.2 230.3v1.2M118.2 230.3v2.2M125.2 230.3v1.2M129.3 230.3v1.2M132.2 230.3v1.2M134.5 230.3v1.2M136.3 230.3v1.2M137.9 230.3v1.2M139.2 230.3v1.2M140.4 230.3v1.2" stroke="#777" stroke-width="0.8" fill="none"/>
<text x="138.7" y="150.8" font-size="12" text-anchor="end" stroke="#000" stroke-width="0.12">1.7</text>
<clipPath id="ccll2"><rect x="155.9" y="138.4" width="91.6" height="91.0"/></clipPath>
<g clip-path="url(#ccll2)"><path fill="#707070" d="M209.5 190.3h1v1h-1zM217.7 167.8h1v1h-1zM211.7 197.3h1v1h-1zM212.2 198.8h1v1h-1zM218.8 195.9h1v1h-1zM212.5 197.9h1v1h-1zM212.8 175.3h1v1h-1zM210.1 199.7h1v1h-1zM204.1 198.2h1v1h-1zM208.5 182.1h1v1h-1zM214.6 192.9h1v1h-1zM208.8 193.9h1v1h-1zM214.3 173.7h1v1h-1zM214.5 184.8h1v1h-1zM217.4 185.3h1v1h-1zM216.5 182.2h1v1h-1zM211.9 181.6h1v1h-1zM206.3 190.6h1v1h-1zM215.6 191.4h1v1h-1zM209.2 199.4h1v1h-1zM216.9 180.5h1v1h-1zM203.4 195.8h1v1h-1zM215.4 173.7h1v1h-1zM217.6 182.0h1v1h-1zM209.5 184.7h1v1h-1zM212.0 195.7h1v1h-1zM215.1 190.6h1v1h-1zM215.4 192.7h1v1h-1zM207.0 194.4h1v1h-1zM216.7 175.3h1v1h-1zM203.5 184.4h1v1h-1zM214.8 176.2h1v1h-1zM212.9 194.8h1v1h-1zM218.3 194.1h1v1h-1zM217.3 183.2h1v1h-1zM216.9 194.6h1v1h-1zM205.6 198.4h1v1h-1zM214.4 183.3h1v1h-1z"/><path fill="#a0a0a0" d="M214.0 193.5h1v1h-1zM205.2 195.1h1v1h-1zM216.0 193.8h1v1h-1zM214.8 188.4h1v1h-1zM212.3 189.7h1v1h-1zM216.6 196.7h1v1h-1zM219.0 179.5h1v1h-1zM214.4 193.9h1v1h-1zM210.3 194.1h1v1h-1zM207.4 197.9h1v1h-1zM209.1 199.2h1v1h-1zM211.9 196.0h1v1h-1zM210.3 193.7h1v1h-1zM212.1 177.7h1v1h-1zM210.4 188.3h1v1h-1zM209.0 184.1h1v1h-1zM209.7 170.5h1v1h-1zM207.4 189.2h1v1h-1zM215.3 181.0h1v1h-1zM206.4 184.7h1v1h-1zM216.4 177.2h1v1h-1zM210.3 179.9h1v1h-1zM210.8 171.3h1v1h-1zM211.5 176.1h1v1h-1zM212.3 186.4h1v1h-1zM211.5 188.3h1v1h-1zM212.1 197.4h1v1h-1zM213.9 189.9h1v1h-1zM212.9 193.2h1v1h-1zM209.6 188.4h1v1h-1zM213.5 185.7h1v1h-1zM213.5 185.6h1v1h-1zM213.1 180.4h1v1h-1zM212.8 185.3h1v1h-1zM208.9 193.8h1v1h-1zM216.4 177.9h1v1h-1zM206.9 189.7h1v1h-1zM216.2 192.1h1v1h-1zM208.4 184.9h1v1h-1zM212.2 194.0h1v1h-1zM206.1 182.9h1v1h-1zM214.2 181.8h1v1h-1zM215.8 194.9h1v1h-1zM214.8 173.0h1v1h-1zM224.2 188.7h1v1h-1zM205.5 188.7h1v1h-1z"/><path fill="#d0d0d0" d="M217.2 189.5h1v1h-1zM212.7 179.8h1v1h-1zM225.3 195.0h1v1h-1zM221.2 186.8h1v1h-1zM211.4 178.8h1v1h-1zM214.3 192.8h1v1h-1zM211.8 193.7h1v1h-1zM215.8 193.9h1v1h-1zM220.5 179.4h1v1h-1zM212.4 172.8h1v1h-1zM217.7 189.4h1v1h-1zM214.7 186.6h1v1h-1zM212.9 182.7h1v1h-1zM219.0 189.6h1v1h-1zM217.6 180.0h1v1h-1zM216.3 166.6h1v1h-1zM208.4 186.7h1v1h-1zM222.0 196.4h1v1h-1zM219.1 171.4h1v1h-1zM212.9 185.9h1v1h-1zM219.1 192.2h1v1h-1zM216.5 182.8h1v1h-1zM212.7 184.6h1v1h-1zM210.0 183.6h1v1h-1zM210.8 190.3h1v1h-1zM218.3 189.8h1v1h-1zM220.5 174.3h1v1h-1zM209.0 193.4h1v1h-1zM207.8 170.9h1v1h-1zM212.9 170.9h1v1h-1zM210.4 199.6h1v1h-1zM221.6 193.7h1v1h-1zM208.7 184.9h1v1h-1zM213.9 197.8h1v1h-1zM212.0 196.3h1v1h-1zM218.2 188.0h1v1h-1z"/><ellipse cx="211.0" cy="217.0" rx="5.5" ry="9.0" fill="#c0c0c0" fill-opacity="0.80" filter="url(#bl)" transform="rotate(0.0 211.0 217.0)"/><path fill="#101010" d="M220.5 209.8h1v1h-1zM205.0 205.5h1v1h-1zM201.6 207.4h1v1h-1zM219.5 219.1h1v1h-1zM210.5 203.0h1v1h-1zM222.8 216.1h1v1h-1zM201.1 221.7h1v1h-1zM221.0 225.5h1v1h-1zM203.2 203.5h1v1h-1zM215.6 203.3h1v1h-1zM201.2 213.4h1v1h-1zM215.6 226.2h1v1h-1zM204.4 203.6h1v1h-1zM213.7 200.7h1v1h-1zM223.4 216.2h1v1h-1zM204.9 228.7h1v1h-1zM208.0 203.2h1v1h-1zM218.9 224.7h1v1h-1zM217.0 201.6h1v1h-1zM221.6 218.3h1v1h-1zM202.9 211.3h1v1h-1zM210.9 228.2h1v1h-1zM219.9 201.1h1v1h-1zM220.6 216.2h1v1h-1zM211.0 200.3h1v1h-1zM221.0 218.2h1v1h-1zM220.4 208.1h1v1h-1zM218.5 214.0h1v1h-1zM209.5 202.7h1v1h-1zM206.2 229.0h1v1h-1zM221.2 220.7h1v1h-1zM217.4 208.2h1v1h-1zM211.2 203.8h1v1h-1zM201.3 223.2h1v1h-1zM208.4 202.6h1v1h-1zM218.2 228.3h1v1h-1zM215.3 202.1h1v1h-1zM208.9 228.8h1v1h-1zM219.0 226.0h1v1h-1zM202.1 216.5h1v1h-1zM201.3 203.4h1v1h-1zM217.3 205.8h1v1h-1zM201.3 202.1h1v1h-1zM219.9 214.2h1v1h-1zM210.9 201.9h1v1h-1zM222.2 216.6h1v1h-1zM219.1 225.2h1v1h-1zM205.3 201.8h1v1h-1zM215.5 228.8h1v1h-1zM206.4 227.8h1v1h-1zM212.8 228.3h1v1h-1zM222.4 223.5h1v1h-1zM202.3 221.4h1v1h-1zM200.8 228.2h1v1h-1zM203.0 209.9h1v1h-1zM214.5 228.5h1v1h-1zM207.9 204.2h1v1h-1zM217.8 229.4h1v1h-1zM216.6 201.5h1v1h-1zM202.3 203.7h1v1h-1zM220.7 211.0h1v1h-1zM215.0 226.4h1v1h-1zM215.4 227.2h1v1h-1zM200.9 214.4h1v1h-1zM221.6 213.1h1v1h-1zM217.8 204.8h1v1h-1zM209.0 228.9h1v1h-1zM222.4 214.1h1v1h-1zM218.2 229.1h1v1h-1zM217.5 201.6h1v1h-1zM202.2 208.1h1v1h-1zM202.3 202.5h1v1h-1zM205.9 199.9h1v1h-1zM202.4 207.1h1v1h-1zM220.1 212.3h1v1h-1zM211.1 202.7h1v1h-1zM219.9 208.6h1v1h-1zM213.9 200.1h1v1h-1zM210.3 227.8h1v1h-1zM202.8 206.8h1v1h-1zM205.8 225.9h1v1h-1zM219.2 224.5h1v1h-1zM205.1 204.7h1v1h-1zM200.7 210.9h1v1h-1zM211.4 200.6h1v1h-1zM201.3 208.6h1v1h-1zM216.9 206.3h1v1h-1zM201.9 209.6h1v1h-1zM219.2 202.2h1v1h-1zM219.8 205.5h1v1h-1zM223.6 210.7h1v1h-1zM201.0 214.7h1v1h-1zM200.9 225.3h1v1h-1zM222.5 215.6h1v1h-1zM219.4 226.3h1v1h-1zM221.6 213.6h1v1h-1zM216.3 203.9h1v1h-1zM219.9 218.7h1v1h-1zM208.3 200.8h1v1h-1zM213.9 205.1h1v1h-1zM222.4 215.4h1v1h-1zM212.2 228.9h1v1h-1zM212.0 202.4h1v1h-1zM213.1 203.3h1v1h-1zM218.3 203.0h1v1h-1zM218.9 209.9h1v1h-1zM222.6 219.2h1v1h-1zM217.4 204.2h1v1h-1zM206.0 228.1h1v1h-1zM205.8 202.7h1v1h-1zM221.2 211.6h1v1h-1zM201.5 224.8h1v1h-1zM215.9 225.6h1v1h-1zM211.5 201.0h1v1h-1zM218.4 204.2h1v1h-1zM201.1 228.8h1v1h-1z"/><path fill="#303030" d="M214.7 206.1h1v1h-1zM216.0 225.0h1v1h-1zM216.9 216.6h1v1h-1zM209.9 204.5h1v1h-1zM204.5 220.7h1v1h-1zM209.8 203.4h1v1h-1zM203.4 211.0h1v1h-1zM218.3 212.2h1v1h-1zM222.3 213.6h1v1h-1zM207.2 225.6h1v1h-1zM214.4 223.4h1v1h-1zM214.8 207.2h1v1h-1zM205.3 209.5h1v1h-1zM217.6 208.6h1v1h-1zM215.2 207.0h1v1h-1zM206.7 228.0h1v1h-1zM206.0 209.6h1v1h-1zM211.0 206.9h1v1h-1zM202.9 216.4h1v1h-1zM217.9 228.6h1v1h-1zM204.6 227.1h1v1h-1zM220.2 212.8h1v1h-1zM211.4 207.0h1v1h-1zM220.3 215.5h1v1h-1zM205.1 226.3h1v1h-1zM206.6 207.1h1v1h-1zM220.7 219.3h1v1h-1zM202.7 221.1h1v1h-1zM213.2 203.9h1v1h-1zM202.1 228.0h1v1h-1zM220.3 214.2h1v1h-1zM215.7 210.7h1v1h-1zM200.7 215.1h1v1h-1zM222.7 217.9h1v1h-1zM220.9 204.4h1v1h-1zM212.7 225.6h1v1h-1zM211.0 204.2h1v1h-1zM218.5 226.5h1v1h-1zM214.7 223.6h1v1h-1zM214.5 225.0h1v1h-1zM203.5 202.7h1v1h-1zM206.5 228.3h1v1h-1zM201.2 219.9h1v1h-1zM220.5 228.0h1v1h-1zM217.8 214.8h1v1h-1zM202.0 215.6h1v1h-1zM205.7 222.2h1v1h-1zM205.1 205.8h1v1h-1zM221.4 215.8h1v1h-1zM215.8 228.4h1v1h-1zM208.1 206.9h1v1h-1zM214.3 224.2h1v1h-1zM208.6 227.8h1v1h-1zM214.1 202.5h1v1h-1zM213.3 228.1h1v1h-1zM218.9 206.1h1v1h-1zM204.8 223.6h1v1h-1zM219.9 213.5h1v1h-1zM203.9 228.5h1v1h-1zM205.7 204.9h1v1h-1zM216.1 208.8h1v1h-1zM213.7 226.6h1v1h-1zM203.4 226.7h1v1h-1zM215.4 222.8h1v1h-1zM202.8 214.1h1v1h-1zM218.7 207.6h1v1h-1zM219.4 209.1h1v1h-1zM216.1 201.5h1v1h-1zM213.8 227.8h1v1h-1zM221.8 210.7h1v1h-1zM218.5 216.9h1v1h-1zM206.4 226.1h1v1h-1zM204.5 205.1h1v1h-1zM211.5 203.2h1v1h-1zM212.7 228.2h1v1h-1zM201.8 224.9h1v1h-1zM203.8 208.1h1v1h-1zM206.2 201.6h1v1h-1zM216.4 211.6h1v1h-1zM204.5 211.0h1v1h-1zM216.0 223.4h1v1h-1zM210.7 223.4h1v1h-1zM218.6 203.6h1v1h-1zM217.0 217.6h1v1h-1zM220.2 212.7h1v1h-1zM213.1 225.0h1v1h-1zM215.1 229.2h1v1h-1zM212.3 229.2h1v1h-1zM204.0 227.9h1v1h-1zM203.3 213.8h1v1h-1zM216.6 210.7h1v1h-1zM216.4 214.7h1v1h-1zM221.8 217.2h1v1h-1zM216.1 206.3h1v1h-1zM203.8 226.1h1v1h-1zM202.9 216.6h1v1h-1zM210.7 224.2h1v1h-1zM203.8 223.7h1v1h-1zM207.4 208.4h1v1h-1zM204.8 221.1h1v1h-1zM201.7 209.6h1v1h-1zM222.3 212.8h1v1h-1zM217.2 228.2h1v1h-1zM216.8 207.3h1v1h-1zM212.2 207.7h1v1h-1zM216.1 199.5h1v1h-1zM218.6 214.9h1v1h-1zM202.5 226.9h1v1h-1zM212.2 224.9h1v1h-1zM204.1 213.0h1v1h-1zM215.0 226.6h1v1h-1zM216.4 208.7h1v1h-1zM213.3 225.5h1v1h-1zM206.1 207.6h1v1h-1zM203.6 220.5h1v1h-1zM220.3 227.3h1v1h-1zM222.7 211.4h1v1h-1zM206.3 205.1h1v1h-1zM210.9 206.3h1v1h-1zM202.1 223.9h1v1h-1zM205.8 228.6h1v1h-1zM202.2 218.7h1v1h-1zM203.2 215.9h1v1h-1zM221.3 212.5h1v1h-1zM208.4 208.7h1v1h-1zM207.9 205.4h1v1h-1zM202.6 220.0h1v1h-1zM217.3 205.2h1v1h-1zM220.2 203.3h1v1h-1zM209.5 229.4h1v1h-1zM204.5 228.1h1v1h-1zM201.1 217.5h1v1h-1zM213.8 225.0h1v1h-1zM213.0 201.4h1v1h-1zM208.2 200.3h1v1h-1zM220.9 219.3h1v1h-1zM218.0 207.7h1v1h-1zM203.3 215.8h1v1h-1zM201.8 221.8h1v1h-1zM212.9 202.2h1v1h-1zM219.0 224.8h1v1h-1zM205.3 211.8h1v1h-1zM219.8 205.9h1v1h-1zM213.9 203.1h1v1h-1zM218.3 229.2h1v1h-1zM203.7 211.6h1v1h-1zM212.1 200.0h1v1h-1zM205.9 200.5h1v1h-1zM221.5 211.8h1v1h-1zM209.6 226.5h1v1h-1zM218.5 204.8h1v1h-1zM201.1 211.7h1v1h-1zM204.4 210.0h1v1h-1zM203.4 208.1h1v1h-1zM211.4 206.0h1v1h-1zM201.2 227.8h1v1h-1zM215.0 206.6h1v1h-1zM218.5 210.9h1v1h-1zM215.8 214.4h1v1h-1zM215.8 215.7h1v1h-1zM204.8 226.4h1v1h-1zM201.7 225.0h1v1h-1z"/><path fill="#505050" d="M203.0 208.8h1v1h-1zM207.7 211.3h1v1h-1zM209.6 223.8h1v1h-1zM208.8 222.3h1v1h-1zM217.4 213.5h1v1h-1zM219.3 206.3h1v1h-1zM201.7 214.0h1v1h-1zM204.2 199.9h1v1h-1zM214.8 228.8h1v1h-1zM213.4 205.8h1v1h-1zM209.7 223.2h1v1h-1zM206.1 211.1h1v1h-1zM211.2 227.1h1v1h-1zM204.1 226.4h1v1h-1zM210.0 209.1h1v1h-1zM212.5 218.9h1v1h-1zM220.1 216.0h1v1h-1zM204.5 219.5h1v1h-1zM211.7 211.2h1v1h-1zM207.8 205.9h1v1h-1zM214.0 216.2h1v1h-1zM205.7 203.9h1v1h-1zM213.5 208.3h1v1h-1zM208.0 209.4h1v1h-1zM215.3 220.9h1v1h-1zM203.1 215.0h1v1h-1zM210.8 203.7h1v1h-1zM217.5 227.4h1v1h-1zM220.3 217.0h1v1h-1zM208.2 210.4h1v1h-1zM208.6 206.2h1v1h-1zM214.3 214.4h1v1h-1zM207.5 207.5h1v1h-1zM215.7 228.4h1v1h-1zM218.8 219.9h1v1h-1zM210.4 214.3h1v1h-1zM203.1 208.7h1v1h-1zM206.0 227.1h1v1h-1zM202.6 213.6h1v1h-1zM204.6 221.0h1v1h-1zM219.7 210.0h1v1h-1zM201.6 215.7h1v1h-1zM217.0 214.2h1v1h-1zM213.4 220.2h1v1h-1zM206.7 216.3h1v1h-1zM219.9 207.1h1v1h-1zM202.2 207.6h1v1h-1zM209.0 206.6h1v1h-1zM205.8 209.2h1v1h-1zM212.6 228.6h1v1h-1zM200.6 218.0h1v1h-1zM203.7 223.6h1v1h-1zM220.1 223.1h1v1h-1zM217.3 226.0h1v1h-1zM209.4 223.4h1v1h-1zM220.2 217.2h1v1h-1zM218.8 222.7h1v1h-1zM206.3 205.5h1v1h-1zM212.1 227.9h1v1h-1zM211.7 203.0h1v1h-1zM201.5 205.3h1v1h-1zM211.4 225.9h1v1h-1zM205.0 211.0h1v1h-1zM205.7 217.2h1v1h-1zM206.8 209.4h1v1h-1zM204.3 215.4h1v1h-1zM206.6 218.2h1v1h-1zM207.5 205.7h1v1h-1zM205.9 208.6h1v1h-1zM209.3 202.9h1v1h-1zM215.0 229.3h1v1h-1zM203.8 210.7h1v1h-1zM201.3 215.1h1v1h-1zM202.6 220.1h1v1h-1zM219.0 215.5h1v1h-1zM210.1 226.2h1v1h-1zM208.8 211.2h1v1h-1zM203.5 222.7h1v1h-1zM217.8 206.7h1v1h-1zM213.6 223.6h1v1h-1zM214.2 202.0h1v1h-1zM212.1 205.5h1v1h-1zM204.5 223.2h1v1h-1zM219.6 218.6h1v1h-1zM209.3 208.5h1v1h-1zM212.0 205.5h1v1h-1zM219.1 213.5h1v1h-1zM205.0 204.5h1v1h-1zM201.8 214.1h1v1h-1zM218.0 223.8h1v1h-1zM204.3 224.5h1v1h-1zM206.5 204.0h1v1h-1zM215.6 215.7h1v1h-1zM203.5 226.0h1v1h-1zM216.1 216.3h1v1h-1zM209.3 219.0h1v1h-1zM205.7 225.7h1v1h-1zM207.9 220.1h1v1h-1zM209.0 227.3h1v1h-1zM207.5 212.6h1v1h-1zM209.2 211.9h1v1h-1zM219.3 204.3h1v1h-1zM216.1 216.5h1v1h-1zM213.6 202.3h1v1h-1zM211.2 205.9h1v1h-1zM219.4 210.3h1v1h-1zM209.0 225.6h1v1h-1zM219.5 206.6h1v1h-1zM219.3 219.8h1v1h-1zM202.8 214.0h1v1h-1zM206.1 200.6h1v1h-1zM205.6 218.3h1v1h-1zM208.2 224.7h1v1h-1zM204.0 218.3h1v1h-1zM218.9 218.7h1v1h-1zM212.8 218.6h1v1h-1zM203.0 213.7h1v1h-1zM213.7 223.5h1v1h-1zM213.7 203.6h1v1h-1zM203.7 204.9h1v1h-1zM203.8 228.5h1v1h-1zM207.6 222.6h1v1h-1zM218.4 213.6h1v1h-1zM217.1 217.9h1v1h-1zM216.0 214.0h1v1h-1zM217.4 216.4h1v1h-1zM211.7 225.4h1v1h-1zM205.2 211.3h1v1h-1zM211.3 224.5h1v1h-1zM222.0 219.4h1v1h-1zM218.2 209.2h1v1h-1zM218.3 222.5h1v1h-1zM216.1 201.1h1v1h-1zM202.6 212.4h1v1h-1zM200.7 227.2h1v1h-1zM203.3 208.8h1v1h-1zM209.3 228.8h1v1h-1zM210.0 227.7h1v1h-1zM214.8 217.5h1v1h-1zM210.0 216.6h1v1h-1zM209.9 200.5h1v1h-1zM214.9 216.4h1v1h-1zM212.2 205.4h1v1h-1zM207.6 213.6h1v1h-1zM216.2 227.8h1v1h-1zM205.0 210.8h1v1h-1zM216.6 223.3h1v1h-1zM208.7 213.0h1v1h-1zM210.9 227.5h1v1h-1zM202.4 225.2h1v1h-1zM215.4 222.4h1v1h-1zM216.4 211.6h1v1h-1zM215.6 229.0h1v1h-1zM204.7 207.4h1v1h-1zM206.3 214.8h1v1h-1zM218.1 219.5h1v1h-1zM216.1 215.2h1v1h-1zM206.2 216.1h1v1h-1zM204.6 216.3h1v1h-1zM214.9 212.8h1v1h-1zM216.2 227.3h1v1h-1zM203.1 219.3h1v1h-1zM208.3 210.8h1v1h-1zM209.4 210.2h1v1h-1zM213.2 216.2h1v1h-1zM202.4 215.4h1v1h-1zM202.0 206.9h1v1h-1zM205.4 209.0h1v1h-1zM203.0 221.0h1v1h-1zM206.2 225.5h1v1h-1zM216.4 210.8h1v1h-1zM210.1 208.4h1v1h-1zM206.2 211.3h1v1h-1zM222.8 219.6h1v1h-1zM205.0 211.1h1v1h-1zM209.7 228.6h1v1h-1zM213.4 202.4h1v1h-1zM207.2 222.9h1v1h-1zM217.7 214.3h1v1h-1zM203.6 204.1h1v1h-1zM209.9 222.0h1v1h-1zM201.8 214.3h1v1h-1zM205.6 212.5h1v1h-1zM219.9 209.9h1v1h-1zM211.1 227.9h1v1h-1zM203.3 204.2h1v1h-1zM210.9 202.3h1v1h-1zM204.2 225.6h1v1h-1zM212.5 211.7h1v1h-1zM202.8 218.9h1v1h-1zM214.6 208.4h1v1h-1zM206.4 218.4h1v1h-1zM211.2 224.1h1v1h-1zM212.2 216.2h1v1h-1zM206.7 211.6h1v1h-1zM208.7 203.6h1v1h-1zM206.5 204.4h1v1h-1zM201.1 227.9h1v1h-1z"/><path fill="#707070" d="M202.3 209.9h1v1h-1zM211.4 228.7h1v1h-1zM204.6 205.4h1v1h-1zM207.1 221.5h1v1h-1zM215.7 209.5h1v1h-1zM214.8 221.0h1v1h-1zM206.0 207.7h1v1h-1zM208.1 220.0h1v1h-1zM217.7 216.0h1v1h-1zM216.1 208.7h1v1h-1zM208.4 206.5h1v1h-1zM212.8 219.9h1v1h-1zM214.9 209.0h1v1h-1zM207.8 223.3h1v1h-1zM218.6 212.5h1v1h-1zM211.8 205.7h1v1h-1zM212.9 219.1h1v1h-1zM218.0 214.0h1v1h-1zM201.3 218.9h1v1h-1zM207.2 213.2h1v1h-1zM213.6 211.6h1v1h-1zM209.9 224.7h1v1h-1zM209.5 217.0h1v1h-1zM205.9 222.3h1v1h-1zM203.1 219.7h1v1h-1zM202.1 215.5h1v1h-1zM218.4 210.6h1v1h-1zM218.6 207.4h1v1h-1zM215.7 209.1h1v1h-1zM210.3 226.3h1v1h-1zM213.3 204.6h1v1h-1zM217.5 206.7h1v1h-1zM204.9 224.6h1v1h-1zM208.6 225.4h1v1h-1zM206.6 213.5h1v1h-1zM208.7 221.4h1v1h-1zM202.9 215.7h1v1h-1zM214.1 205.5h1v1h-1zM214.7 223.8h1v1h-1zM210.4 219.5h1v1h-1zM210.8 201.7h1v1h-1zM204.0 222.8h1v1h-1zM217.7 215.4h1v1h-1zM202.4 226.3h1v1h-1zM214.0 210.2h1v1h-1zM207.6 217.0h1v1h-1zM205.8 215.3h1v1h-1zM212.2 218.9h1v1h-1zM208.5 225.6h1v1h-1zM215.3 221.4h1v1h-1zM211.8 223.4h1v1h-1zM209.5 228.1h1v1h-1zM204.7 212.6h1v1h-1zM208.1 203.2h1v1h-1zM208.1 206.1h1v1h-1zM218.5 219.2h1v1h-1zM215.0 226.4h1v1h-1zM201.7 212.2h1v1h-1zM203.6 218.1h1v1h-1zM203.0 221.9h1v1h-1zM202.3 215.9h1v1h-1zM208.0 223.8h1v1h-1zM207.5 212.8h1v1h-1zM205.4 227.5h1v1h-1zM216.5 224.4h1v1h-1zM214.4 206.6h1v1h-1zM220.2 219.3h1v1h-1zM210.6 224.9h1v1h-1zM204.7 212.0h1v1h-1zM203.9 217.3h1v1h-1zM208.9 222.5h1v1h-1zM205.3 222.0h1v1h-1zM203.6 206.3h1v1h-1zM211.1 211.4h1v1h-1zM203.8 213.5h1v1h-1zM207.3 213.5h1v1h-1zM215.6 204.9h1v1h-1zM216.5 213.8h1v1h-1zM206.4 207.8h1v1h-1zM208.8 208.1h1v1h-1zM216.3 221.5h1v1h-1zM210.1 211.3h1v1h-1zM209.3 208.9h1v1h-1zM207.5 205.1h1v1h-1zM207.3 219.4h1v1h-1zM210.8 228.8h1v1h-1zM201.6 213.9h1v1h-1zM219.2 218.2h1v1h-1zM218.3 215.5h1v1h-1zM201.6 215.9h1v1h-1zM214.2 214.4h1v1h-1zM204.6 216.4h1v1h-1zM217.8 213.0h1v1h-1zM214.5 204.5h1v1h-1zM207.3 204.6h1v1h-1zM207.0 214.1h1v1h-1zM212.4 208.2h1v1h-1zM212.7 204.9h1v1h-1zM204.7 215.7h1v1h-1zM216.2 204.3h1v1h-1zM207.0 207.5h1v1h-1zM217.9 208.2h1v1h-1zM204.2 216.4h1v1h-1zM210.5 215.2h1v1h-1zM201.9 214.1h1v1h-1zM217.1 217.8h1v1h-1zM217.9 225.5h1v1h-1zM211.7 206.2h1v1h-1zM218.1 204.9h1v1h-1zM209.7 225.9h1v1h-1zM211.0 224.9h1v1h-1zM212.5 224.5h1v1h-1zM202.5 224.8h1v1h-1zM206.0 229.0h1v1h-1zM202.1 215.6h1v1h-1zM207.6 212.5h1v1h-1zM210.8 215.6h1v1h-1zM212.7 205.5h1v1h-1zM216.4 205.6h1v1h-1zM203.6 208.8h1v1h-1zM210.8 203.4h1v1h-1zM216.3 220.5h1v1h-1zM219.5 222.1h1v1h-1zM216.5 217.1h1v1h-1zM213.8 203.6h1v1h-1zM212.5 209.5h1v1h-1zM203.3 221.9h1v1h-1zM202.7 218.2h1v1h-1zM213.2 226.8h1v1h-1zM212.5 222.3h1v1h-1zM202.6 214.6h1v1h-1zM203.7 213.8h1v1h-1zM206.9 222.8h1v1h-1zM203.0 209.1h1v1h-1zM201.5 216.2h1v1h-1zM205.8 212.7h1v1h-1zM205.4 227.8h1v1h-1zM212.7 209.1h1v1h-1z"/><path fill="#909090" d="M203.4 212.0h1v1h-1zM210.0 215.6h1v1h-1zM207.8 212.0h1v1h-1zM207.7 223.2h1v1h-1zM213.3 224.2h1v1h-1zM209.4 219.8h1v1h-1zM206.6 208.2h1v1h-1zM214.4 210.5h1v1h-1zM207.2 223.8h1v1h-1zM207.6 219.8h1v1h-1zM203.7 217.2h1v1h-1zM213.9 206.6h1v1h-1zM209.4 206.7h1v1h-1zM205.5 220.7h1v1h-1zM212.2 216.3h1v1h-1zM210.9 224.4h1v1h-1zM212.0 219.3h1v1h-1zM206.8 209.6h1v1h-1zM210.4 210.4h1v1h-1zM206.6 218.6h1v1h-1zM215.6 209.6h1v1h-1zM215.6 214.1h1v1h-1zM215.2 218.3h1v1h-1zM210.3 215.6h1v1h-1zM208.2 226.3h1v1h-1zM216.3 220.1h1v1h-1zM205.0 216.8h1v1h-1zM216.0 220.6h1v1h-1zM210.8 218.1h1v1h-1zM204.5 216.4h1v1h-1zM206.4 217.1h1v1h-1zM206.3 212.6h1v1h-1zM212.9 209.2h1v1h-1zM210.9 210.9h1v1h-1zM205.8 209.6h1v1h-1zM206.1 225.9h1v1h-1zM205.3 216.2h1v1h-1zM215.4 216.6h1v1h-1zM211.4 225.7h1v1h-1zM208.0 216.6h1v1h-1zM213.1 207.8h1v1h-1zM208.1 209.6h1v1h-1zM217.5 220.8h1v1h-1zM216.1 217.7h1v1h-1zM217.4 214.6h1v1h-1zM205.1 223.4h1v1h-1zM211.3 214.7h1v1h-1zM216.2 214.8h1v1h-1zM212.8 218.3h1v1h-1zM209.7 221.2h1v1h-1zM215.0 214.7h1v1h-1zM205.3 223.0h1v1h-1zM211.7 210.1h1v1h-1zM214.8 220.2h1v1h-1zM203.2 215.8h1v1h-1zM213.9 225.7h1v1h-1zM210.0 207.8h1v1h-1zM208.8 214.8h1v1h-1zM214.9 220.9h1v1h-1zM207.2 219.6h1v1h-1zM203.1 215.8h1v1h-1zM211.1 222.6h1v1h-1zM204.8 221.2h1v1h-1zM210.0 227.2h1v1h-1zM209.3 208.2h1v1h-1zM214.9 219.6h1v1h-1zM211.3 227.0h1v1h-1z"/><path fill="#b0b0b0" d="M209.2 214.7h1v1h-1zM214.2 219.2h1v1h-1zM212.1 213.1h1v1h-1zM208.5 210.2h1v1h-1zM208.8 221.7h1v1h-1zM207.6 218.5h1v1h-1zM211.1 217.5h1v1h-1zM212.0 212.7h1v1h-1zM214.8 214.0h1v1h-1zM209.9 220.0h1v1h-1zM208.5 220.5h1v1h-1zM210.6 219.9h1v1h-1zM207.1 217.2h1v1h-1zM209.3 216.1h1v1h-1zM207.0 218.8h1v1h-1zM209.4 212.9h1v1h-1zM213.2 216.3h1v1h-1zM205.9 216.7h1v1h-1zM207.3 211.7h1v1h-1z"/></g>
<line x1="200.2" y1="138.4" x2="200.2" y2="229.4" stroke="#8c8c8c" stroke-width="1.1"/>
<line x1="155.9" y1="199.7" x2="247.5" y2="199.7" stroke="#6c6c6c" stroke-width="1.0"/>
<rect x="155.9" y="138.4" width="91.6" height="91.0" fill="none" stroke="#5c5c5c" stroke-width="1.0"/>
<path d="M155.9 229.4h-2.2M155.9 222.6h-1.2M155.9 218.5h-1.2M155.9 215.7h-1.2M155.9 213.5h-1.2M155.9 211.7h-1.2M155.9 210.2h-1.2M155.9 208.9h-1.2M155.9 207.7h-1.2M155.9 206.7h-2.2M155.9 199.8h-1.2M155.9 195.8h-1.2M155.9 193.0h-1.2M155.9 190.7h-1.2M155.9 188.9h-1.2M155.9 187.4h-1.2M155.9 186.1h-1.2M155.9 184.9h-1.2M155.9 183.9h-2.2M155.9 177.1h-1.2M155.9 173.0h-1.2M155.9 170.2h-1.2M155.9 168.0h-1.2M155.9 166.2h-1.2M155.9 164.7h-1.2M155.9 163.4h-1.2M155.9 162.2h-1.2M155.9 161.2h-2.2M155.9 154.3h-1.2M155.9 150.3h-1.2M155.9 147.5h-1.2M155.9 145.2h-1.2M155.9 143.4h-1.2M155.9 141.9h-1.2M155.9 140.6h-1.2M155.9 139.4h-1.2M155.9 229.4v2.2M162.8 229.4v1.2M166.8 229.4v1.2M169.7 229.4v1.2M171.9 229.4v1.2M173.7 229.4v1.2M175.3 229.4v1.2M176.6 229.4v1.2M177.8 229.4v1.2M178.8 229.4v2.2M185.7 229.4v1.2M189.7 229.4v1.2M192.6 229.4v1.2M194.8 229.4v1.2M196.6 229.4v1.2M198.2 229.4v1.2M199.5 229.4v1.2M200.7 229.4v1.2M201.7 229.4v2.2M208.6 229.4v1.2M212.6 229.4v1.2M215.5 229.4v1.2M217.7 229.4v1.2M219.5 229.4v1.2M221.1 229.4v1.2M222.4 229.4v1.2M223.6 229.4v1.2M224.6 229.4v2.2M231.5 229.4v1.2M235.5 229.4v1.2M238.4 229.4v1.2M240.6 229.4v1.2M242.4 229.4v1.2M244.0 229.4v1.2M245.3 229.4v1.2M246.5 229.4v1.2" stroke="#777" stroke-width="0.8" fill="none"/>
<text x="241.8" y="153.2" font-size="12" text-anchor="end" stroke="#000" stroke-width="0.12">3.1</text>
<clipPath id="cmcl2"><rect x="262.4" y="139.5" width="91.8" height="91.0"/></clipPath>
<g clip-path="url(#cmcl2)"><path fill="#686868" d="M319.2 202.0h1v1h-1zM328.2 169.6h1v1h-1zM329.2 202.5h1v1h-1zM317.1 168.7h1v1h-1zM320.0 199.4h1v1h-1zM330.8 196.1h1v1h-1zM318.1 191.0h1v1h-1zM319.9 200.7h1v1h-1zM326.0 193.7h1v1h-1zM317.8 175.4h1v1h-1zM319.4 182.7h1v1h-1zM317.7 178.7h1v1h-1zM312.7 197.4h1v1h-1zM321.1 175.0h1v1h-1zM326.1 182.2h1v1h-1zM320.5 183.3h1v1h-1zM320.9 177.8h1v1h-1zM323.0 167.5h1v1h-1zM310.8 189.2h1v1h-1zM322.6 177.3h1v1h-1zM314.2 193.8h1v1h-1zM321.2 183.5h1v1h-1zM314.0 191.6h1v1h-1zM322.3 197.6h1v1h-1zM328.1 187.7h1v1h-1zM318.4 195.7h1v1h-1zM316.3 177.0h1v1h-1zM322.1 172.4h1v1h-1zM316.4 190.3h1v1h-1zM325.5 175.2h1v1h-1zM323.6 201.8h1v1h-1zM331.2 180.4h1v1h-1zM317.9 186.2h1v1h-1zM320.1 195.8h1v1h-1zM327.2 197.2h1v1h-1zM316.7 176.7h1v1h-1zM318.1 202.6h1v1h-1zM315.2 174.4h1v1h-1zM330.8 200.9h1v1h-1zM320.1 199.4h1v1h-1zM320.0 195.8h1v1h-1zM316.1 181.5h1v1h-1zM327.4 201.1h1v1h-1zM321.4 197.0h1v1h-1zM330.6 182.0h1v1h-1zM326.7 189.0h1v1h-1zM326.1 190.7h1v1h-1zM318.7 192.6h1v1h-1zM317.9 186.2h1v1h-1zM318.7 184.9h1v1h-1zM312.9 187.8h1v1h-1z"/><path fill="#9c9c9c" d="M323.3 195.3h1v1h-1zM323.0 170.3h1v1h-1zM321.5 175.3h1v1h-1zM323.3 181.9h1v1h-1zM313.1 170.8h1v1h-1zM317.1 165.6h1v1h-1zM319.6 182.7h1v1h-1zM322.2 182.3h1v1h-1zM320.9 187.9h1v1h-1zM321.5 184.3h1v1h-1zM318.2 190.2h1v1h-1zM321.1 194.5h1v1h-1zM318.2 173.5h1v1h-1zM325.0 163.7h1v1h-1zM320.9 180.5h1v1h-1zM329.1 180.0h1v1h-1zM319.1 170.4h1v1h-1zM325.9 200.4h1v1h-1zM320.5 169.4h1v1h-1zM313.8 192.7h1v1h-1zM325.4 173.6h1v1h-1zM317.5 195.7h1v1h-1zM322.1 178.0h1v1h-1zM320.7 177.3h1v1h-1zM312.2 192.9h1v1h-1zM321.5 190.6h1v1h-1zM331.3 188.8h1v1h-1zM328.3 202.5h1v1h-1zM317.7 168.6h1v1h-1zM330.0 191.5h1v1h-1zM323.7 173.4h1v1h-1zM327.8 196.5h1v1h-1zM319.7 192.9h1v1h-1zM326.6 181.3h1v1h-1zM318.0 173.9h1v1h-1zM325.5 191.7h1v1h-1zM319.9 182.9h1v1h-1zM315.9 190.4h1v1h-1zM323.1 193.1h1v1h-1zM319.5 180.2h1v1h-1zM326.2 196.9h1v1h-1zM326.7 179.3h1v1h-1zM319.8 193.0h1v1h-1zM322.4 187.2h1v1h-1zM320.3 170.1h1v1h-1zM311.0 179.1h1v1h-1zM315.2 184.4h1v1h-1zM312.7 186.3h1v1h-1zM321.6 166.8h1v1h-1zM320.1 176.6h1v1h-1zM329.4 188.6h1v1h-1zM324.8 169.6h1v1h-1zM313.9 173.3h1v1h-1zM319.2 184.4h1v1h-1zM334.6 198.1h1v1h-1zM321.1 184.3h1v1h-1zM318.8 174.4h1v1h-1zM317.8 201.4h1v1h-1zM325.4 199.6h1v1h-1zM313.1 199.2h1v1h-1zM319.5 200.8h1v1h-1zM319.5 187.7h1v1h-1zM325.3 185.2h1v1h-1zM321.9 182.6h1v1h-1zM315.9 176.5h1v1h-1zM324.4 189.0h1v1h-1zM320.3 194.7h1v1h-1zM314.5 189.7h1v1h-1zM317.1 188.5h1v1h-1zM320.6 200.4h1v1h-1zM328.2 188.0h1v1h-1zM317.8 179.6h1v1h-1z"/><path fill="#d0d0d0" d="M317.9 176.3h1v1h-1zM327.3 202.5h1v1h-1zM308.9 194.6h1v1h-1zM329.1 186.0h1v1h-1zM320.2 162.6h1v1h-1zM325.8 198.5h1v1h-1zM328.7 183.5h1v1h-1zM319.1 176.4h1v1h-1zM317.0 198.7h1v1h-1zM327.2 176.1h1v1h-1zM314.6 182.4h1v1h-1zM319.3 167.7h1v1h-1zM324.3 162.4h1v1h-1zM321.1 173.6h1v1h-1zM319.7 181.8h1v1h-1zM319.9 174.4h1v1h-1zM317.2 178.7h1v1h-1zM320.8 193.7h1v1h-1zM321.0 194.4h1v1h-1zM324.5 189.3h1v1h-1zM325.4 185.1h1v1h-1zM318.3 200.9h1v1h-1zM323.9 197.3h1v1h-1zM329.3 196.5h1v1h-1zM330.3 184.6h1v1h-1zM317.2 197.7h1v1h-1zM318.4 188.8h1v1h-1zM331.3 175.7h1v1h-1zM321.0 182.3h1v1h-1zM334.2 188.5h1v1h-1zM327.0 190.1h1v1h-1zM321.0 192.2h1v1h-1zM318.2 176.9h1v1h-1zM315.9 172.0h1v1h-1zM326.0 179.5h1v1h-1zM319.0 173.6h1v1h-1zM322.0 178.1h1v1h-1zM315.8 176.3h1v1h-1zM326.8 184.8h1v1h-1zM323.7 199.0h1v1h-1zM319.8 175.9h1v1h-1zM314.1 202.1h1v1h-1zM317.8 174.5h1v1h-1zM315.5 199.5h1v1h-1zM323.1 197.4h1v1h-1zM328.5 181.0h1v1h-1zM325.9 167.8h1v1h-1zM324.9 196.1h1v1h-1zM319.6 194.4h1v1h-1zM323.1 190.4h1v1h-1zM319.6 200.2h1v1h-1zM321.6 178.6h1v1h-1zM320.6 176.8h1v1h-1zM317.7 199.9h1v1h-1zM326.5 188.6h1v1h-1zM318.4 197.1h1v1h-1zM326.2 172.6h1v1h-1z"/><ellipse cx="319.0" cy="220.0" rx="8.0" ry="9.0" fill="#c0c0c0" fill-opacity="0.80" filter="url(#bl)" transform="rotate(0.0 319.0 220.0)"/><path fill="#101010" d="M316.9 206.4h1v1h-1zM306.1 215.3h1v1h-1zM321.6 204.7h1v1h-1zM316.5 210.4h1v1h-1zM315.2 202.9h1v1h-1zM330.4 218.1h1v1h-1zM306.5 227.2h1v1h-1zM315.7 207.5h1v1h-1zM321.4 204.5h1v1h-1zM328.9 220.8h1v1h-1zM324.9 207.2h1v1h-1zM306.8 229.3h1v1h-1zM315.9 206.8h1v1h-1zM329.0 214.6h1v1h-1zM332.3 228.7h1v1h-1zM328.7 224.6h1v1h-1zM317.8 203.8h1v1h-1zM315.1 205.2h1v1h-1zM315.9 204.8h1v1h-1zM331.7 218.9h1v1h-1zM309.6 210.9h1v1h-1zM331.5 216.6h1v1h-1zM310.5 227.5h1v1h-1zM315.5 209.5h1v1h-1zM330.5 226.4h1v1h-1zM307.6 221.8h1v1h-1zM331.2 220.2h1v1h-1zM319.3 203.7h1v1h-1zM326.4 205.9h1v1h-1zM331.5 217.3h1v1h-1zM307.6 216.4h1v1h-1zM324.3 204.5h1v1h-1zM330.1 227.1h1v1h-1zM330.4 216.0h1v1h-1zM331.6 224.9h1v1h-1zM330.8 229.5h1v1h-1zM314.8 203.2h1v1h-1zM319.7 209.4h1v1h-1zM306.1 222.0h1v1h-1zM328.4 226.2h1v1h-1zM330.9 229.5h1v1h-1zM320.3 204.2h1v1h-1zM330.8 211.2h1v1h-1zM328.9 210.6h1v1h-1zM311.7 207.5h1v1h-1zM321.2 203.8h1v1h-1zM306.6 222.9h1v1h-1zM314.6 209.0h1v1h-1zM328.3 209.8h1v1h-1zM327.3 230.1h1v1h-1zM307.0 211.9h1v1h-1zM317.4 204.6h1v1h-1zM309.1 212.1h1v1h-1zM311.1 206.8h1v1h-1zM329.3 210.6h1v1h-1zM327.3 210.6h1v1h-1zM315.4 210.4h1v1h-1zM327.4 228.4h1v1h-1zM319.8 206.8h1v1h-1zM313.7 212.0h1v1h-1zM307.3 227.4h1v1h-1zM312.9 208.8h1v1h-1zM315.7 209.2h1v1h-1zM329.4 224.4h1v1h-1zM329.9 212.1h1v1h-1zM317.7 205.3h1v1h-1zM320.3 209.1h1v1h-1zM331.1 212.1h1v1h-1zM315.7 206.2h1v1h-1zM328.2 210.3h1v1h-1zM313.4 205.1h1v1h-1zM322.1 209.2h1v1h-1zM310.4 230.0h1v1h-1zM308.5 216.9h1v1h-1zM329.6 213.1h1v1h-1zM307.8 217.5h1v1h-1zM329.9 212.1h1v1h-1zM312.9 212.3h1v1h-1zM309.3 211.1h1v1h-1zM329.0 215.2h1v1h-1zM310.5 209.4h1v1h-1zM330.2 212.9h1v1h-1zM312.3 204.4h1v1h-1zM308.8 215.8h1v1h-1zM308.9 212.9h1v1h-1zM311.0 208.3h1v1h-1zM308.4 220.9h1v1h-1zM324.5 203.8h1v1h-1zM326.6 215.4h1v1h-1zM307.2 209.0h1v1h-1zM330.2 216.1h1v1h-1zM325.4 212.1h1v1h-1zM325.5 210.7h1v1h-1zM310.6 229.8h1v1h-1z"/><path fill="#303030" d="M313.3 229.1h1v1h-1zM319.4 203.5h1v1h-1zM317.9 206.5h1v1h-1zM307.4 215.2h1v1h-1zM323.4 211.8h1v1h-1zM313.0 216.8h1v1h-1zM309.8 216.3h1v1h-1zM313.4 214.2h1v1h-1zM311.5 218.9h1v1h-1zM324.8 225.8h1v1h-1zM317.0 229.2h1v1h-1zM330.2 210.8h1v1h-1zM326.4 210.8h1v1h-1zM329.3 223.4h1v1h-1zM306.4 227.3h1v1h-1zM313.3 214.4h1v1h-1zM310.7 212.2h1v1h-1zM321.3 208.3h1v1h-1zM314.6 227.6h1v1h-1zM328.9 223.9h1v1h-1zM312.0 227.6h1v1h-1zM329.7 220.5h1v1h-1zM313.4 212.7h1v1h-1zM313.1 218.8h1v1h-1zM309.2 223.4h1v1h-1zM321.8 205.8h1v1h-1zM327.4 213.9h1v1h-1zM326.4 210.4h1v1h-1zM320.4 207.9h1v1h-1zM311.1 222.3h1v1h-1zM309.0 227.1h1v1h-1zM320.2 210.3h1v1h-1zM323.8 229.0h1v1h-1zM326.8 206.6h1v1h-1zM324.3 230.0h1v1h-1zM320.0 206.0h1v1h-1zM313.1 225.8h1v1h-1zM323.5 208.7h1v1h-1zM326.0 222.0h1v1h-1zM327.8 212.9h1v1h-1zM312.7 228.0h1v1h-1zM308.8 213.6h1v1h-1zM313.5 216.6h1v1h-1zM324.5 221.7h1v1h-1zM313.0 216.8h1v1h-1zM323.6 210.3h1v1h-1zM327.8 218.5h1v1h-1zM309.0 214.2h1v1h-1zM318.9 209.5h1v1h-1zM308.7 222.3h1v1h-1zM307.6 219.6h1v1h-1zM310.7 230.4h1v1h-1zM325.6 225.8h1v1h-1zM317.7 210.7h1v1h-1zM324.5 228.4h1v1h-1zM322.5 230.0h1v1h-1zM308.4 215.8h1v1h-1zM309.3 216.2h1v1h-1zM319.6 211.6h1v1h-1zM316.0 229.8h1v1h-1zM310.0 214.9h1v1h-1zM322.3 211.1h1v1h-1zM328.8 229.7h1v1h-1zM331.0 217.8h1v1h-1zM325.7 209.1h1v1h-1zM327.1 211.4h1v1h-1zM309.0 219.1h1v1h-1zM324.4 220.9h1v1h-1zM323.9 212.7h1v1h-1zM312.1 208.9h1v1h-1zM311.1 208.9h1v1h-1zM325.8 217.6h1v1h-1zM327.7 207.7h1v1h-1zM310.2 210.3h1v1h-1zM325.6 221.2h1v1h-1zM316.5 206.5h1v1h-1zM315.1 230.4h1v1h-1zM311.9 208.6h1v1h-1zM312.8 211.1h1v1h-1zM315.5 206.2h1v1h-1zM323.1 208.9h1v1h-1zM324.5 210.2h1v1h-1zM316.1 230.4h1v1h-1zM309.0 210.4h1v1h-1zM308.7 216.7h1v1h-1zM320.4 211.6h1v1h-1zM323.7 212.0h1v1h-1zM309.7 223.6h1v1h-1zM316.4 227.5h1v1h-1zM327.2 223.6h1v1h-1zM324.2 211.5h1v1h-1zM325.6 215.7h1v1h-1zM313.4 209.4h1v1h-1zM313.7 218.8h1v1h-1zM325.3 213.9h1v1h-1zM314.2 212.1h1v1h-1zM319.5 211.1h1v1h-1zM309.3 226.3h1v1h-1zM306.8 223.0h1v1h-1zM309.0 218.9h1v1h-1zM323.9 212.5h1v1h-1zM306.2 227.5h1v1h-1zM314.9 211.0h1v1h-1zM326.8 216.0h1v1h-1zM313.9 208.8h1v1h-1zM311.9 214.6h1v1h-1zM322.3 208.4h1v1h-1zM330.2 218.2h1v1h-1zM308.7 229.9h1v1h-1zM324.1 210.4h1v1h-1zM321.9 204.6h1v1h-1zM317.1 211.4h1v1h-1zM311.6 216.4h1v1h-1zM324.9 228.7h1v1h-1zM307.7 216.1h1v1h-1zM325.8 223.3h1v1h-1zM324.1 205.7h1v1h-1zM308.2 226.2h1v1h-1zM321.5 212.3h1v1h-1zM323.8 229.0h1v1h-1zM311.4 221.7h1v1h-1zM311.5 222.3h1v1h-1zM308.0 219.2h1v1h-1zM324.0 213.3h1v1h-1zM309.5 208.8h1v1h-1zM309.8 210.6h1v1h-1zM308.9 224.7h1v1h-1zM328.0 221.5h1v1h-1zM316.6 210.3h1v1h-1zM307.3 223.9h1v1h-1zM326.9 223.4h1v1h-1zM329.2 222.8h1v1h-1zM328.7 215.9h1v1h-1zM312.9 213.4h1v1h-1z"/><path fill="#505050" d="M325.3 224.2h1v1h-1zM314.7 210.9h1v1h-1zM329.7 218.2h1v1h-1zM320.0 217.0h1v1h-1zM318.3 218.6h1v1h-1zM324.2 212.2h1v1h-1zM327.6 219.2h1v1h-1zM325.4 221.8h1v1h-1zM314.0 209.4h1v1h-1zM323.5 210.9h1v1h-1zM311.3 209.9h1v1h-1zM306.2 217.7h1v1h-1zM317.6 209.1h1v1h-1zM312.0 224.6h1v1h-1zM315.3 213.2h1v1h-1zM328.7 214.9h1v1h-1zM328.8 221.7h1v1h-1zM319.5 217.4h1v1h-1zM313.1 222.2h1v1h-1zM320.8 215.9h1v1h-1zM324.2 219.7h1v1h-1zM313.1 208.8h1v1h-1zM327.1 222.0h1v1h-1zM327.4 221.6h1v1h-1zM309.7 227.0h1v1h-1zM311.5 219.6h1v1h-1zM311.9 221.2h1v1h-1zM325.0 219.4h1v1h-1zM326.7 213.4h1v1h-1zM325.4 214.3h1v1h-1zM315.5 217.5h1v1h-1zM328.5 216.6h1v1h-1zM315.5 229.9h1v1h-1zM330.4 218.2h1v1h-1zM316.0 229.0h1v1h-1zM325.4 219.1h1v1h-1zM306.6 223.8h1v1h-1zM315.7 216.5h1v1h-1zM319.7 213.2h1v1h-1zM318.8 213.2h1v1h-1zM314.9 208.6h1v1h-1zM324.7 212.7h1v1h-1zM313.4 210.2h1v1h-1zM321.8 221.1h1v1h-1zM310.4 212.4h1v1h-1zM311.8 222.2h1v1h-1zM321.3 211.6h1v1h-1zM307.6 219.0h1v1h-1zM320.3 212.2h1v1h-1zM322.1 218.5h1v1h-1zM320.8 222.6h1v1h-1zM325.5 222.6h1v1h-1zM320.5 214.4h1v1h-1zM308.0 211.5h1v1h-1zM308.8 228.7h1v1h-1zM324.9 210.0h1v1h-1zM325.6 222.6h1v1h-1zM324.8 219.4h1v1h-1zM325.9 226.3h1v1h-1zM313.3 211.0h1v1h-1zM326.1 226.2h1v1h-1zM318.4 226.7h1v1h-1zM321.1 228.8h1v1h-1zM310.7 222.1h1v1h-1zM323.9 209.2h1v1h-1zM322.3 216.1h1v1h-1zM325.6 230.5h1v1h-1zM313.2 206.5h1v1h-1zM310.2 213.9h1v1h-1zM324.9 223.4h1v1h-1zM311.9 209.6h1v1h-1zM309.5 210.0h1v1h-1zM318.7 227.4h1v1h-1zM312.2 220.3h1v1h-1zM313.7 220.4h1v1h-1zM310.1 214.8h1v1h-1zM322.5 228.8h1v1h-1zM322.6 208.2h1v1h-1zM322.2 219.0h1v1h-1zM310.5 217.5h1v1h-1zM323.7 212.3h1v1h-1zM307.9 213.7h1v1h-1zM306.3 225.4h1v1h-1zM308.3 214.4h1v1h-1zM316.3 211.1h1v1h-1zM309.4 220.9h1v1h-1zM327.6 220.3h1v1h-1zM320.0 229.6h1v1h-1zM320.1 221.3h1v1h-1zM327.6 219.9h1v1h-1zM311.3 211.2h1v1h-1zM311.2 210.1h1v1h-1zM309.4 211.3h1v1h-1zM322.0 222.1h1v1h-1zM308.2 224.8h1v1h-1zM315.5 211.8h1v1h-1zM317.9 211.6h1v1h-1zM317.9 229.9h1v1h-1zM327.9 213.9h1v1h-1zM317.6 224.9h1v1h-1zM329.3 215.8h1v1h-1zM319.2 209.6h1v1h-1zM321.4 218.6h1v1h-1zM311.0 222.3h1v1h-1zM312.2 224.3h1v1h-1zM318.0 209.5h1v1h-1zM317.8 215.1h1v1h-1zM321.4 228.5h1v1h-1zM311.2 212.2h1v1h-1zM325.2 219.6h1v1h-1zM326.7 229.0h1v1h-1zM315.9 208.3h1v1h-1zM316.3 217.1h1v1h-1zM319.5 210.3h1v1h-1zM323.8 210.5h1v1h-1zM320.3 210.0h1v1h-1zM322.2 209.0h1v1h-1zM317.7 212.8h1v1h-1zM306.5 217.6h1v1h-1zM325.5 206.5h1v1h-1zM312.2 209.9h1v1h-1zM318.1 210.1h1v1h-1zM320.3 202.8h1v1h-1zM325.5 228.0h1v1h-1zM320.4 219.5h1v1h-1zM309.4 225.3h1v1h-1zM308.8 223.5h1v1h-1zM327.2 230.5h1v1h-1zM315.6 226.2h1v1h-1zM327.4 219.1h1v1h-1zM314.3 216.2h1v1h-1zM316.3 209.8h1v1h-1zM315.5 210.2h1v1h-1zM323.3 212.6h1v1h-1zM327.1 214.6h1v1h-1zM308.0 210.7h1v1h-1zM314.0 230.2h1v1h-1zM328.8 219.7h1v1h-1zM321.2 226.6h1v1h-1zM321.3 216.1h1v1h-1zM309.4 222.9h1v1h-1zM309.1 216.0h1v1h-1zM324.5 227.5h1v1h-1zM330.1 221.3h1v1h-1zM313.7 227.6h1v1h-1zM314.8 219.7h1v1h-1zM327.9 210.2h1v1h-1zM308.0 212.8h1v1h-1zM330.7 223.9h1v1h-1zM308.0 230.1h1v1h-1zM309.3 223.8h1v1h-1zM324.7 207.6h1v1h-1zM324.0 210.4h1v1h-1zM325.7 211.8h1v1h-1zM306.5 225.1h1v1h-1zM309.8 222.2h1v1h-1zM309.2 220.4h1v1h-1zM309.0 210.1h1v1h-1zM313.3 220.0h1v1h-1zM320.7 211.3h1v1h-1zM325.7 221.2h1v1h-1zM326.6 213.6h1v1h-1zM321.7 227.9h1v1h-1zM330.0 222.9h1v1h-1zM330.4 218.8h1v1h-1zM309.0 215.5h1v1h-1zM312.4 219.3h1v1h-1zM314.9 220.3h1v1h-1zM327.7 220.3h1v1h-1zM312.6 228.0h1v1h-1zM317.8 210.7h1v1h-1zM310.0 227.5h1v1h-1zM318.5 215.3h1v1h-1zM312.4 209.2h1v1h-1zM309.6 212.3h1v1h-1zM325.7 230.0h1v1h-1zM324.0 210.5h1v1h-1zM327.9 226.8h1v1h-1zM328.0 210.5h1v1h-1zM317.1 228.7h1v1h-1zM322.2 216.7h1v1h-1zM314.9 212.5h1v1h-1zM314.1 226.3h1v1h-1zM330.2 216.6h1v1h-1z"/><path fill="#707070" d="M324.4 229.9h1v1h-1zM318.4 206.8h1v1h-1zM327.9 217.4h1v1h-1zM321.4 210.6h1v1h-1zM315.8 226.3h1v1h-1zM323.8 226.4h1v1h-1zM328.2 216.0h1v1h-1zM326.2 224.0h1v1h-1zM314.5 221.0h1v1h-1zM318.3 209.4h1v1h-1zM322.5 226.9h1v1h-1zM318.6 222.4h1v1h-1zM320.5 222.7h1v1h-1zM328.3 226.2h1v1h-1zM310.2 217.8h1v1h-1zM328.1 226.8h1v1h-1zM315.9 215.1h1v1h-1zM320.0 216.1h1v1h-1zM316.4 221.1h1v1h-1zM326.2 213.4h1v1h-1zM315.7 218.3h1v1h-1zM314.9 230.3h1v1h-1zM318.9 210.8h1v1h-1zM315.4 216.3h1v1h-1zM311.3 225.7h1v1h-1zM315.4 211.7h1v1h-1zM320.4 225.3h1v1h-1zM320.6 210.7h1v1h-1zM310.2 218.7h1v1h-1zM312.6 216.1h1v1h-1zM319.7 209.8h1v1h-1zM328.6 219.0h1v1h-1zM325.4 213.4h1v1h-1zM312.8 227.9h1v1h-1zM321.9 213.2h1v1h-1zM322.0 213.9h1v1h-1zM314.6 209.3h1v1h-1zM310.9 221.5h1v1h-1zM320.7 211.8h1v1h-1zM309.3 223.2h1v1h-1zM317.6 215.2h1v1h-1zM319.5 210.8h1v1h-1zM321.4 210.3h1v1h-1zM319.1 230.1h1v1h-1zM312.0 223.4h1v1h-1zM319.4 218.0h1v1h-1zM325.6 230.0h1v1h-1zM323.5 225.2h1v1h-1zM321.2 225.8h1v1h-1zM323.3 225.5h1v1h-1zM316.3 213.5h1v1h-1zM319.7 210.1h1v1h-1zM320.6 208.7h1v1h-1zM326.8 216.9h1v1h-1zM311.4 214.5h1v1h-1zM314.0 226.5h1v1h-1zM311.5 223.8h1v1h-1zM319.8 213.7h1v1h-1zM329.1 223.1h1v1h-1zM325.9 222.5h1v1h-1zM318.9 225.9h1v1h-1zM327.8 219.7h1v1h-1zM326.7 221.5h1v1h-1zM327.9 220.4h1v1h-1zM319.6 213.1h1v1h-1zM312.5 223.8h1v1h-1zM318.1 212.6h1v1h-1zM308.9 214.5h1v1h-1zM324.7 227.3h1v1h-1zM311.0 220.9h1v1h-1zM327.5 225.0h1v1h-1zM312.3 210.2h1v1h-1zM328.9 219.5h1v1h-1zM320.0 212.7h1v1h-1zM311.4 215.9h1v1h-1zM317.6 209.7h1v1h-1zM313.5 223.2h1v1h-1zM327.0 226.4h1v1h-1zM315.4 209.7h1v1h-1zM327.6 219.0h1v1h-1zM308.6 216.8h1v1h-1zM321.3 219.8h1v1h-1zM325.3 214.3h1v1h-1zM321.0 212.0h1v1h-1zM313.8 222.4h1v1h-1zM312.2 212.5h1v1h-1zM320.5 226.6h1v1h-1zM316.9 211.3h1v1h-1zM319.3 227.0h1v1h-1zM317.8 223.6h1v1h-1zM326.4 230.4h1v1h-1zM328.0 222.3h1v1h-1zM310.8 212.9h1v1h-1zM322.5 219.2h1v1h-1zM323.0 223.8h1v1h-1zM308.7 221.4h1v1h-1zM323.8 213.9h1v1h-1zM319.5 211.9h1v1h-1zM314.8 226.7h1v1h-1zM310.5 226.5h1v1h-1zM315.1 209.6h1v1h-1zM326.7 225.6h1v1h-1zM324.4 213.1h1v1h-1zM317.4 217.4h1v1h-1zM317.6 213.8h1v1h-1zM318.6 212.4h1v1h-1zM312.6 229.6h1v1h-1zM321.3 230.0h1v1h-1zM307.5 223.3h1v1h-1zM319.5 213.5h1v1h-1zM308.9 227.9h1v1h-1zM312.8 218.1h1v1h-1zM329.0 219.4h1v1h-1zM309.9 226.7h1v1h-1zM324.2 224.3h1v1h-1zM310.9 220.1h1v1h-1zM310.1 216.4h1v1h-1zM317.9 228.0h1v1h-1zM310.0 211.8h1v1h-1zM324.5 215.1h1v1h-1zM306.5 220.9h1v1h-1zM322.8 228.2h1v1h-1zM322.5 211.4h1v1h-1zM309.3 219.2h1v1h-1zM326.7 222.7h1v1h-1zM318.6 223.7h1v1h-1zM321.4 221.6h1v1h-1zM319.4 217.7h1v1h-1zM320.7 220.9h1v1h-1zM322.5 229.1h1v1h-1zM328.1 225.0h1v1h-1zM318.9 219.4h1v1h-1zM317.3 221.8h1v1h-1zM317.8 208.1h1v1h-1zM319.4 228.4h1v1h-1zM311.8 220.9h1v1h-1zM317.4 227.7h1v1h-1zM316.4 215.0h1v1h-1zM310.6 219.7h1v1h-1zM322.2 218.2h1v1h-1zM315.1 225.4h1v1h-1zM310.6 217.9h1v1h-1zM320.6 215.2h1v1h-1zM315.0 224.0h1v1h-1zM323.4 209.7h1v1h-1zM320.8 217.3h1v1h-1zM321.3 225.8h1v1h-1zM320.5 207.1h1v1h-1zM311.5 224.9h1v1h-1zM320.0 215.3h1v1h-1zM327.9 222.1h1v1h-1zM309.7 215.3h1v1h-1zM314.7 211.3h1v1h-1zM317.7 228.5h1v1h-1zM317.7 229.1h1v1h-1z"/><path fill="#909090" d="M322.4 223.9h1v1h-1zM319.0 214.0h1v1h-1zM317.7 229.7h1v1h-1zM319.6 215.9h1v1h-1zM313.3 229.3h1v1h-1zM313.2 218.3h1v1h-1zM318.0 212.0h1v1h-1zM317.0 226.5h1v1h-1zM322.7 212.6h1v1h-1zM315.3 229.5h1v1h-1zM312.2 223.2h1v1h-1zM321.3 222.4h1v1h-1zM324.9 213.7h1v1h-1zM314.2 226.7h1v1h-1zM319.6 229.6h1v1h-1zM315.4 217.3h1v1h-1zM321.1 213.0h1v1h-1zM315.5 211.8h1v1h-1zM318.8 212.4h1v1h-1zM318.3 215.6h1v1h-1zM309.8 219.2h1v1h-1zM314.6 217.7h1v1h-1zM322.2 214.0h1v1h-1zM313.1 229.9h1v1h-1zM324.5 222.2h1v1h-1zM322.2 225.6h1v1h-1zM318.2 226.0h1v1h-1zM315.3 224.8h1v1h-1zM321.9 211.6h1v1h-1zM311.9 216.1h1v1h-1zM319.9 224.5h1v1h-1zM315.5 224.7h1v1h-1zM320.6 225.1h1v1h-1zM323.2 219.3h1v1h-1zM314.9 229.0h1v1h-1zM316.3 223.2h1v1h-1zM313.5 214.1h1v1h-1zM321.6 218.2h1v1h-1zM318.5 222.6h1v1h-1zM316.6 216.0h1v1h-1zM320.2 226.0h1v1h-1zM323.0 216.9h1v1h-1zM324.6 222.1h1v1h-1zM323.7 213.0h1v1h-1zM323.3 222.7h1v1h-1zM316.6 229.7h1v1h-1zM311.6 223.7h1v1h-1zM311.5 222.6h1v1h-1zM311.8 222.1h1v1h-1zM325.5 218.0h1v1h-1zM326.1 226.1h1v1h-1zM319.5 224.9h1v1h-1zM318.8 214.3h1v1h-1zM317.6 221.6h1v1h-1zM312.8 212.8h1v1h-1zM311.9 227.1h1v1h-1zM324.0 219.1h1v1h-1zM314.3 215.0h1v1h-1zM317.4 229.0h1v1h-1zM316.0 220.8h1v1h-1zM318.0 226.4h1v1h-1zM322.2 211.5h1v1h-1zM318.4 226.9h1v1h-1zM324.9 216.1h1v1h-1zM325.3 223.3h1v1h-1zM313.3 214.5h1v1h-1zM321.8 229.4h1v1h-1zM320.2 221.8h1v1h-1zM316.1 211.4h1v1h-1zM321.5 219.1h1v1h-1zM325.3 214.2h1v1h-1zM323.5 228.6h1v1h-1zM319.0 230.2h1v1h-1zM324.1 213.1h1v1h-1zM315.1 226.0h1v1h-1zM311.6 219.9h1v1h-1zM322.9 215.8h1v1h-1zM316.2 210.6h1v1h-1zM321.8 221.3h1v1h-1zM322.9 210.6h1v1h-1zM322.3 230.0h1v1h-1zM315.4 228.5h1v1h-1zM313.4 218.8h1v1h-1zM312.4 229.1h1v1h-1zM312.8 223.2h1v1h-1zM323.9 211.6h1v1h-1zM322.9 217.1h1v1h-1zM317.5 215.6h1v1h-1z"/><path fill="#b0b0b0" d="M317.6 220.1h1v1h-1zM320.8 220.7h1v1h-1zM317.0 225.7h1v1h-1zM321.1 226.6h1v1h-1zM317.3 220.8h1v1h-1zM321.8 222.0h1v1h-1zM319.8 224.7h1v1h-1zM319.9 222.9h1v1h-1zM316.6 217.2h1v1h-1zM316.5 218.2h1v1h-1zM315.5 227.2h1v1h-1zM320.4 219.0h1v1h-1zM322.7 216.4h1v1h-1zM320.9 225.0h1v1h-1zM322.3 223.6h1v1h-1zM319.7 220.0h1v1h-1zM320.2 220.8h1v1h-1zM316.6 221.6h1v1h-1zM317.1 219.7h1v1h-1zM315.3 220.7h1v1h-1zM317.4 223.9h1v1h-1zM315.5 217.6h1v1h-1zM321.4 222.2h1v1h-1zM318.0 219.3h1v1h-1zM317.1 219.2h1v1h-1z"/></g>
<line x1="305.7" y1="139.5" x2="305.7" y2="230.5" stroke="#8c8c8c" stroke-width="1.1"/>
<line x1="262.4" y1="202.3" x2="354.2" y2="202.3" stroke="#6c6c6c" stroke-width="1.0"/>
<rect x="262.4" y="139.5" width="91.8" height="91.0" fill="none" stroke="#5c5c5c" stroke-width="1.0"/>
<path d="M262.4 230.5h-2.2M262.4 223.7h-1.2M262.4 219.6h-1.2M262.4 216.8h-1.2M262.4 214.6h-1.2M262.4 212.8h-1.2M262.4 211.3h-1.2M262.4 210.0h-1.2M262.4 208.8h-1.2M262.4 207.8h-2.2M262.4 200.9h-1.2M262.4 196.9h-1.2M262.4 194.1h-1.2M262.4 191.8h-1.2M262.4 190.0h-1.2M262.4 188.5h-1.2M262.4 187.2h-1.2M262.4 186.0h-1.2M262.4 185.0h-2.2M262.4 178.2h-1.2M262.4 174.1h-1.2M262.4 171.3h-1.2M262.4 169.1h-1.2M262.4 167.3h-1.2M262.4 165.8h-1.2M262.4 164.5h-1.2M262.4 163.3h-1.2M262.4 162.2h-2.2M262.4 155.4h-1.2M262.4 151.4h-1.2M262.4 148.6h-1.2M262.4 146.3h-1.2M262.4 144.5h-1.2M262.4 143.0h-1.2M262.4 141.7h-1.2M262.4 140.5h-1.2M262.4 230.5v2.2M269.3 230.5v1.2M273.3 230.5v1.2M276.2 230.5v1.2M278.4 230.5v1.2M280.3 230.5v1.2M281.8 230.5v1.2M283.1 230.5v1.2M284.3 230.5v1.2M285.3 230.5v2.2M292.3 230.5v1.2M296.3 230.5v1.2M299.2 230.5v1.2M301.4 230.5v1.2M303.2 230.5v1.2M304.7 230.5v1.2M306.1 230.5v1.2M307.2 230.5v1.2M308.3 230.5v2.2M315.2 230.5v1.2M319.2 230.5v1.2M322.1 230.5v1.2M324.3 230.5v1.2M326.2 230.5v1.2M327.7 230.5v1.2M329.0 230.5v1.2M330.2 230.5v1.2M331.2 230.5v2.2M338.2 230.5v1.2M342.2 230.5v1.2M345.1 230.5v1.2M347.3 230.5v1.2M349.1 230.5v1.2M350.6 230.5v1.2M352.0 230.5v1.2M353.1 230.5v1.2" stroke="#777" stroke-width="0.8" fill="none"/>
<text x="350.5" y="151.1" font-size="12" text-anchor="end" stroke="#000" stroke-width="0.12">6.0</text>
<clipPath id="cfl2"><rect x="363.8" y="138.4" width="92.4" height="91.1"/></clipPath>
<g clip-path="url(#cfl2)"><path fill="#b0b0b0" d="M421.6 178.1h1v1h-1zM422.0 199.1h1v1h-1zM424.5 179.7h1v1h-1zM422.2 172.1h1v1h-1zM421.9 193.0h1v1h-1zM427.3 185.9h1v1h-1zM422.6 176.7h1v1h-1zM423.0 170.4h1v1h-1zM415.5 195.9h1v1h-1zM416.5 181.8h1v1h-1zM418.3 174.5h1v1h-1zM432.5 194.7h1v1h-1zM418.2 173.8h1v1h-1zM416.9 179.2h1v1h-1zM422.4 190.1h1v1h-1zM425.7 182.4h1v1h-1zM424.5 170.0h1v1h-1zM417.7 182.1h1v1h-1zM420.1 174.3h1v1h-1zM424.2 183.0h1v1h-1z"/><path fill="#c8c8c8" d="M419.8 198.0h1v1h-1zM421.8 172.7h1v1h-1zM414.0 164.0h1v1h-1zM424.6 169.8h1v1h-1zM429.3 200.7h1v1h-1zM421.1 171.2h1v1h-1zM422.2 193.5h1v1h-1zM423.1 178.6h1v1h-1zM423.2 183.5h1v1h-1zM426.2 179.8h1v1h-1zM415.7 189.4h1v1h-1zM429.8 178.1h1v1h-1zM420.7 185.4h1v1h-1zM423.5 188.4h1v1h-1zM428.4 197.3h1v1h-1zM426.9 196.2h1v1h-1zM422.2 174.0h1v1h-1zM418.9 177.6h1v1h-1zM423.4 177.6h1v1h-1zM423.7 180.2h1v1h-1z"/><path fill="#e0e0e0" d="M418.1 188.4h1v1h-1zM422.6 167.1h1v1h-1zM421.8 201.1h1v1h-1zM419.9 194.9h1v1h-1zM424.3 187.1h1v1h-1zM417.9 197.8h1v1h-1zM423.1 184.6h1v1h-1zM428.4 175.3h1v1h-1zM425.8 194.7h1v1h-1zM427.1 197.4h1v1h-1zM421.7 195.3h1v1h-1zM418.3 176.4h1v1h-1zM420.7 180.9h1v1h-1zM426.1 185.1h1v1h-1zM413.7 191.0h1v1h-1zM423.8 183.4h1v1h-1zM416.1 180.6h1v1h-1zM421.6 190.4h1v1h-1zM423.2 190.3h1v1h-1zM420.2 173.3h1v1h-1zM415.7 201.1h1v1h-1zM413.4 185.7h1v1h-1zM428.0 174.1h1v1h-1zM417.1 184.9h1v1h-1zM425.4 172.0h1v1h-1z"/><ellipse cx="419.5" cy="218.0" rx="11.4" ry="15.0" fill="#c8c8c8" fill-opacity="0.80" filter="url(#bl)" transform="rotate(0.0 419.5 218.0)"/><path fill="#202020" d="M414.4 204.4h1v1h-1zM421.7 218.9h1v1h-1zM416.2 212.9h1v1h-1zM409.9 215.4h1v1h-1zM418.9 209.7h1v1h-1zM423.5 227.9h1v1h-1zM421.7 211.3h1v1h-1zM419.4 204.0h1v1h-1zM415.8 209.0h1v1h-1zM414.4 225.3h1v1h-1zM422.6 206.0h1v1h-1zM421.3 223.3h1v1h-1zM421.5 226.4h1v1h-1zM423.5 219.4h1v1h-1zM417.2 209.9h1v1h-1zM417.1 223.4h1v1h-1zM423.5 215.7h1v1h-1zM425.4 229.3h1v1h-1zM430.4 224.2h1v1h-1zM422.1 228.2h1v1h-1zM422.1 213.8h1v1h-1zM413.8 218.7h1v1h-1zM423.4 220.9h1v1h-1zM416.0 212.6h1v1h-1zM420.3 221.0h1v1h-1zM413.8 228.8h1v1h-1zM425.1 218.9h1v1h-1zM409.0 220.7h1v1h-1zM425.3 209.8h1v1h-1zM415.0 207.0h1v1h-1zM412.7 222.4h1v1h-1zM424.9 223.1h1v1h-1zM431.8 214.7h1v1h-1zM424.2 211.7h1v1h-1zM419.6 214.1h1v1h-1zM422.3 220.3h1v1h-1zM419.1 222.4h1v1h-1zM428.3 209.3h1v1h-1zM415.4 207.0h1v1h-1zM415.6 214.0h1v1h-1zM414.1 220.9h1v1h-1zM412.5 207.5h1v1h-1zM418.7 204.9h1v1h-1zM408.9 227.2h1v1h-1zM416.7 210.3h1v1h-1zM422.6 224.6h1v1h-1zM420.9 205.3h1v1h-1zM410.4 227.2h1v1h-1zM411.1 206.8h1v1h-1zM417.4 217.5h1v1h-1zM417.2 207.2h1v1h-1zM426.8 217.2h1v1h-1zM408.1 214.7h1v1h-1zM415.6 215.5h1v1h-1zM410.1 225.8h1v1h-1zM430.8 212.8h1v1h-1zM420.5 216.1h1v1h-1zM425.3 211.7h1v1h-1zM414.8 220.7h1v1h-1zM423.1 207.1h1v1h-1zM417.1 218.2h1v1h-1zM422.8 220.8h1v1h-1zM420.0 220.3h1v1h-1zM416.6 208.2h1v1h-1zM424.8 223.2h1v1h-1zM409.7 217.1h1v1h-1zM413.2 216.7h1v1h-1zM427.9 222.8h1v1h-1zM421.5 203.5h1v1h-1zM414.6 226.3h1v1h-1zM421.4 224.9h1v1h-1zM414.1 218.7h1v1h-1zM424.8 209.0h1v1h-1zM425.8 211.0h1v1h-1zM416.5 202.6h1v1h-1zM412.0 215.5h1v1h-1zM422.6 219.8h1v1h-1zM420.0 214.4h1v1h-1zM419.3 211.7h1v1h-1zM410.4 217.3h1v1h-1zM422.4 227.0h1v1h-1zM414.5 224.9h1v1h-1zM413.9 228.5h1v1h-1zM414.6 204.3h1v1h-1zM422.8 213.2h1v1h-1zM425.0 219.9h1v1h-1zM417.0 219.1h1v1h-1zM422.9 223.9h1v1h-1zM420.7 223.7h1v1h-1zM419.5 211.9h1v1h-1zM431.1 217.4h1v1h-1zM419.1 214.8h1v1h-1zM413.6 213.9h1v1h-1zM413.9 215.6h1v1h-1zM426.7 212.7h1v1h-1zM428.5 219.8h1v1h-1zM414.9 223.9h1v1h-1zM416.1 224.2h1v1h-1zM413.9 220.3h1v1h-1zM417.6 226.8h1v1h-1zM420.0 220.0h1v1h-1zM422.3 226.6h1v1h-1zM417.6 210.9h1v1h-1zM418.7 206.3h1v1h-1zM425.0 224.2h1v1h-1zM421.1 221.3h1v1h-1zM425.0 214.4h1v1h-1zM425.5 226.3h1v1h-1zM422.8 209.2h1v1h-1zM417.2 228.2h1v1h-1zM429.7 223.2h1v1h-1zM418.6 225.1h1v1h-1zM409.6 222.5h1v1h-1zM425.6 223.8h1v1h-1zM428.3 220.1h1v1h-1zM429.1 216.6h1v1h-1zM413.6 216.3h1v1h-1zM427.9 210.8h1v1h-1zM422.5 227.3h1v1h-1zM429.6 213.2h1v1h-1zM413.6 222.8h1v1h-1zM422.7 207.5h1v1h-1zM425.4 222.0h1v1h-1zM418.7 219.6h1v1h-1zM421.0 206.5h1v1h-1zM425.6 209.9h1v1h-1zM425.7 222.2h1v1h-1zM410.0 223.1h1v1h-1zM416.4 213.3h1v1h-1zM424.8 219.2h1v1h-1zM421.7 221.8h1v1h-1zM416.5 223.4h1v1h-1zM419.4 218.3h1v1h-1zM427.5 210.1h1v1h-1zM422.0 211.6h1v1h-1zM408.4 214.1h1v1h-1zM428.3 208.4h1v1h-1zM417.7 227.0h1v1h-1zM427.9 208.6h1v1h-1z"/><path fill="#505050" d="M421.3 225.0h1v1h-1zM417.6 222.4h1v1h-1zM413.9 223.7h1v1h-1zM428.3 220.6h1v1h-1zM427.4 207.6h1v1h-1zM421.2 221.9h1v1h-1zM426.8 209.7h1v1h-1zM431.3 223.1h1v1h-1zM423.4 226.2h1v1h-1zM423.8 217.3h1v1h-1zM419.3 219.6h1v1h-1zM412.2 210.9h1v1h-1zM425.2 220.3h1v1h-1zM413.1 225.5h1v1h-1zM418.5 228.2h1v1h-1zM422.7 209.1h1v1h-1zM409.2 222.1h1v1h-1zM428.7 213.2h1v1h-1zM416.6 214.5h1v1h-1zM431.2 213.0h1v1h-1zM419.2 227.7h1v1h-1zM414.4 206.5h1v1h-1zM423.9 214.1h1v1h-1zM416.2 219.1h1v1h-1zM424.6 220.7h1v1h-1zM412.7 228.6h1v1h-1zM432.5 211.7h1v1h-1zM421.0 218.1h1v1h-1zM412.8 223.1h1v1h-1zM420.6 229.5h1v1h-1zM410.5 219.2h1v1h-1zM419.8 229.2h1v1h-1zM428.5 219.7h1v1h-1zM418.1 206.7h1v1h-1zM410.5 221.6h1v1h-1zM415.9 224.0h1v1h-1zM430.6 210.0h1v1h-1zM429.6 218.0h1v1h-1zM415.5 207.0h1v1h-1zM430.6 209.2h1v1h-1zM415.0 225.6h1v1h-1zM411.9 208.7h1v1h-1zM426.9 203.9h1v1h-1zM413.9 218.8h1v1h-1zM428.9 221.0h1v1h-1zM421.9 207.2h1v1h-1zM412.6 220.0h1v1h-1zM411.0 229.5h1v1h-1zM408.4 208.2h1v1h-1zM418.1 224.1h1v1h-1zM422.0 216.8h1v1h-1zM421.8 221.2h1v1h-1zM417.1 218.5h1v1h-1zM427.9 203.3h1v1h-1zM416.3 228.0h1v1h-1zM424.9 211.4h1v1h-1zM427.5 220.6h1v1h-1zM426.7 212.9h1v1h-1zM412.5 216.6h1v1h-1zM420.7 207.1h1v1h-1zM411.2 207.6h1v1h-1zM429.8 219.4h1v1h-1zM424.4 218.4h1v1h-1zM411.1 213.9h1v1h-1zM416.1 209.2h1v1h-1zM413.5 223.7h1v1h-1zM417.1 210.5h1v1h-1zM427.8 219.1h1v1h-1zM426.4 217.7h1v1h-1zM420.6 225.2h1v1h-1zM409.9 205.8h1v1h-1zM415.9 219.4h1v1h-1zM418.6 217.4h1v1h-1zM428.6 215.1h1v1h-1zM421.3 219.7h1v1h-1zM425.1 218.1h1v1h-1zM427.9 206.5h1v1h-1zM428.4 213.2h1v1h-1zM411.7 224.0h1v1h-1zM417.1 218.2h1v1h-1zM421.4 206.6h1v1h-1zM423.9 222.7h1v1h-1zM426.1 208.4h1v1h-1zM426.0 204.9h1v1h-1zM423.2 219.3h1v1h-1zM426.5 209.0h1v1h-1zM411.7 212.9h1v1h-1zM418.3 217.2h1v1h-1zM420.4 208.0h1v1h-1zM422.8 219.0h1v1h-1zM416.4 226.7h1v1h-1zM427.1 210.1h1v1h-1zM412.8 210.6h1v1h-1zM421.0 213.9h1v1h-1zM415.5 209.8h1v1h-1zM428.5 228.6h1v1h-1zM411.4 217.1h1v1h-1zM412.2 214.4h1v1h-1zM416.4 217.4h1v1h-1zM423.1 227.0h1v1h-1zM421.5 213.1h1v1h-1zM419.6 227.2h1v1h-1zM425.3 217.1h1v1h-1zM418.4 219.9h1v1h-1zM428.8 211.5h1v1h-1zM412.1 219.5h1v1h-1zM418.3 209.9h1v1h-1zM413.9 216.6h1v1h-1zM428.1 220.4h1v1h-1zM411.1 225.7h1v1h-1zM426.3 206.7h1v1h-1zM427.5 211.1h1v1h-1zM421.7 228.7h1v1h-1zM422.3 224.2h1v1h-1zM420.7 213.6h1v1h-1zM425.2 213.5h1v1h-1zM425.7 216.7h1v1h-1zM421.5 228.6h1v1h-1zM419.2 221.3h1v1h-1zM409.3 214.9h1v1h-1zM414.4 214.0h1v1h-1zM412.5 221.1h1v1h-1zM432.1 210.7h1v1h-1zM414.5 224.2h1v1h-1z"/><path fill="#808080" d="M418.5 222.1h1v1h-1zM418.9 206.3h1v1h-1zM424.3 218.4h1v1h-1zM420.7 212.0h1v1h-1zM415.4 226.8h1v1h-1zM423.7 219.0h1v1h-1zM424.8 223.2h1v1h-1zM412.1 216.6h1v1h-1zM425.8 222.9h1v1h-1zM416.5 228.8h1v1h-1zM411.5 220.8h1v1h-1zM410.4 214.8h1v1h-1zM416.1 225.4h1v1h-1zM424.9 222.7h1v1h-1zM410.8 226.5h1v1h-1zM420.6 221.1h1v1h-1zM413.0 219.1h1v1h-1zM421.0 213.3h1v1h-1zM422.9 202.4h1v1h-1zM419.6 206.3h1v1h-1zM417.7 227.3h1v1h-1zM417.1 207.4h1v1h-1zM427.8 211.1h1v1h-1zM424.2 219.8h1v1h-1zM413.6 215.0h1v1h-1zM416.5 210.3h1v1h-1zM414.0 222.5h1v1h-1zM414.6 206.7h1v1h-1zM413.1 217.4h1v1h-1zM411.3 221.7h1v1h-1zM409.4 219.6h1v1h-1zM426.6 206.3h1v1h-1zM416.0 213.1h1v1h-1zM430.4 219.8h1v1h-1zM417.2 229.2h1v1h-1zM423.3 206.4h1v1h-1zM422.8 210.0h1v1h-1zM426.0 210.2h1v1h-1zM429.4 219.6h1v1h-1zM409.6 224.8h1v1h-1zM412.8 221.5h1v1h-1zM423.3 214.7h1v1h-1zM429.8 225.6h1v1h-1zM414.3 211.5h1v1h-1zM427.9 210.8h1v1h-1zM425.8 224.5h1v1h-1zM429.1 206.8h1v1h-1zM419.0 225.1h1v1h-1zM412.7 213.0h1v1h-1zM413.0 214.8h1v1h-1zM427.6 213.3h1v1h-1zM426.6 213.9h1v1h-1zM412.2 214.6h1v1h-1zM410.5 206.8h1v1h-1zM410.5 206.8h1v1h-1zM410.1 220.7h1v1h-1zM417.7 215.1h1v1h-1zM425.2 207.8h1v1h-1zM425.7 204.9h1v1h-1zM416.1 223.9h1v1h-1zM416.8 204.5h1v1h-1zM408.1 216.3h1v1h-1zM428.4 210.2h1v1h-1zM423.3 216.7h1v1h-1zM408.5 227.0h1v1h-1zM420.6 222.8h1v1h-1zM411.8 219.3h1v1h-1zM423.3 226.2h1v1h-1zM425.0 219.1h1v1h-1zM422.4 228.4h1v1h-1zM418.3 221.9h1v1h-1zM428.7 211.5h1v1h-1zM417.1 222.8h1v1h-1zM413.9 224.1h1v1h-1zM429.9 217.7h1v1h-1zM422.1 212.2h1v1h-1zM425.3 223.0h1v1h-1zM410.4 225.5h1v1h-1zM422.2 212.7h1v1h-1zM420.2 228.5h1v1h-1zM425.7 203.4h1v1h-1zM424.5 222.0h1v1h-1zM420.7 209.0h1v1h-1zM431.3 215.6h1v1h-1zM423.1 225.5h1v1h-1zM425.0 210.0h1v1h-1zM426.8 221.1h1v1h-1zM421.6 223.2h1v1h-1zM423.1 227.7h1v1h-1zM416.3 208.4h1v1h-1zM419.3 203.1h1v1h-1zM426.6 215.0h1v1h-1zM411.4 213.0h1v1h-1zM408.4 212.9h1v1h-1zM424.5 206.5h1v1h-1zM417.7 206.4h1v1h-1zM425.5 209.2h1v1h-1zM410.8 217.0h1v1h-1zM417.4 223.8h1v1h-1zM422.2 216.5h1v1h-1zM430.2 228.1h1v1h-1zM412.0 217.0h1v1h-1zM425.1 222.3h1v1h-1zM420.9 217.0h1v1h-1zM423.7 219.9h1v1h-1zM422.4 212.5h1v1h-1zM410.9 219.8h1v1h-1zM418.3 224.8h1v1h-1zM420.6 218.0h1v1h-1zM412.9 213.4h1v1h-1zM423.6 224.9h1v1h-1zM424.1 210.8h1v1h-1zM426.6 220.0h1v1h-1zM420.9 211.1h1v1h-1zM424.8 213.4h1v1h-1zM419.5 219.3h1v1h-1zM422.0 214.7h1v1h-1zM416.2 219.6h1v1h-1zM421.2 213.7h1v1h-1zM421.5 207.5h1v1h-1zM426.3 220.8h1v1h-1zM423.6 206.9h1v1h-1zM422.1 224.7h1v1h-1zM430.3 226.3h1v1h-1zM429.2 222.7h1v1h-1zM410.0 225.5h1v1h-1zM430.3 228.8h1v1h-1zM415.7 211.5h1v1h-1zM430.8 219.4h1v1h-1zM421.8 206.2h1v1h-1zM422.9 217.5h1v1h-1zM417.7 226.6h1v1h-1z"/><path fill="#b0b0b0" d="M425.9 204.7h1v1h-1zM417.1 214.4h1v1h-1zM419.2 226.0h1v1h-1zM413.5 208.6h1v1h-1zM422.4 228.6h1v1h-1zM424.3 229.3h1v1h-1zM418.0 219.2h1v1h-1zM425.0 222.2h1v1h-1zM412.2 208.4h1v1h-1zM413.6 213.4h1v1h-1zM416.8 215.4h1v1h-1zM426.8 213.3h1v1h-1zM422.4 224.8h1v1h-1zM412.5 208.4h1v1h-1zM423.3 223.1h1v1h-1zM417.8 228.5h1v1h-1zM416.2 223.3h1v1h-1zM420.5 212.0h1v1h-1zM408.1 215.0h1v1h-1zM419.2 204.8h1v1h-1zM425.6 210.9h1v1h-1zM411.1 207.3h1v1h-1zM428.3 212.8h1v1h-1zM419.4 226.7h1v1h-1zM430.0 214.3h1v1h-1zM424.9 208.4h1v1h-1zM409.5 221.7h1v1h-1zM408.3 225.4h1v1h-1zM421.7 228.5h1v1h-1zM416.8 225.6h1v1h-1zM422.4 211.8h1v1h-1zM428.0 222.3h1v1h-1zM416.3 223.4h1v1h-1zM414.7 208.3h1v1h-1zM412.1 218.4h1v1h-1zM422.5 222.4h1v1h-1zM422.3 215.6h1v1h-1zM424.4 220.6h1v1h-1zM412.3 221.7h1v1h-1zM417.5 210.3h1v1h-1zM411.4 222.8h1v1h-1zM427.5 223.2h1v1h-1zM429.3 223.5h1v1h-1zM419.9 222.5h1v1h-1zM418.7 216.3h1v1h-1zM410.8 218.2h1v1h-1zM415.0 228.1h1v1h-1zM420.7 211.2h1v1h-1zM412.6 208.9h1v1h-1zM413.5 226.9h1v1h-1zM425.9 215.1h1v1h-1zM410.9 215.4h1v1h-1zM425.9 212.7h1v1h-1zM422.6 226.7h1v1h-1zM417.7 215.0h1v1h-1zM421.2 215.2h1v1h-1zM420.7 220.3h1v1h-1zM419.4 213.1h1v1h-1zM428.6 221.4h1v1h-1zM428.3 205.8h1v1h-1zM422.5 212.8h1v1h-1zM423.1 205.1h1v1h-1zM428.3 211.7h1v1h-1zM422.3 226.2h1v1h-1zM425.4 223.4h1v1h-1zM413.5 211.1h1v1h-1zM419.3 222.1h1v1h-1zM414.6 206.8h1v1h-1zM429.9 218.6h1v1h-1zM418.7 214.4h1v1h-1zM411.5 223.0h1v1h-1zM426.3 220.2h1v1h-1zM423.1 208.9h1v1h-1zM421.1 218.7h1v1h-1zM415.3 213.5h1v1h-1zM417.0 216.1h1v1h-1zM427.7 228.7h1v1h-1zM421.9 225.5h1v1h-1zM425.1 223.5h1v1h-1zM425.4 215.9h1v1h-1zM426.0 217.7h1v1h-1zM415.5 211.5h1v1h-1zM424.7 207.7h1v1h-1zM423.8 210.7h1v1h-1zM422.9 204.5h1v1h-1zM424.5 215.2h1v1h-1zM418.9 221.9h1v1h-1zM426.0 222.5h1v1h-1zM427.5 217.9h1v1h-1zM424.3 203.8h1v1h-1zM422.5 224.7h1v1h-1zM427.6 215.1h1v1h-1zM411.3 225.7h1v1h-1zM422.3 221.0h1v1h-1zM410.9 212.7h1v1h-1zM414.2 227.3h1v1h-1zM422.6 213.9h1v1h-1zM423.7 221.2h1v1h-1zM427.9 205.2h1v1h-1zM424.4 225.3h1v1h-1zM427.5 210.0h1v1h-1zM424.2 222.3h1v1h-1zM422.9 227.5h1v1h-1zM413.7 213.0h1v1h-1zM424.4 208.4h1v1h-1zM418.3 223.8h1v1h-1zM417.4 223.0h1v1h-1zM414.1 228.0h1v1h-1zM417.2 227.6h1v1h-1zM425.1 220.6h1v1h-1zM420.2 206.6h1v1h-1zM418.8 211.7h1v1h-1zM419.7 217.7h1v1h-1zM420.6 215.5h1v1h-1zM415.9 213.6h1v1h-1zM424.0 202.2h1v1h-1zM424.9 228.9h1v1h-1zM418.5 209.6h1v1h-1zM417.4 215.6h1v1h-1zM414.0 206.8h1v1h-1zM417.6 204.8h1v1h-1zM412.8 211.2h1v1h-1zM428.8 221.0h1v1h-1zM416.5 224.7h1v1h-1zM413.7 218.3h1v1h-1z"/></g>
<line x1="407.5" y1="138.4" x2="407.5" y2="229.5" stroke="#8c8c8c" stroke-width="1.1"/>
<line x1="363.8" y1="201.0" x2="456.2" y2="201.0" stroke="#6c6c6c" stroke-width="1.0"/>
<rect x="363.8" y="138.4" width="92.4" height="91.1" fill="none" stroke="#5c5c5c" stroke-width="1.0"/>
<path d="M363.8 229.5h-2.2M363.8 222.6h-1.2M363.8 218.6h-1.2M363.8 215.8h-1.2M363.8 213.6h-1.2M363.8 211.8h-1.2M363.8 210.3h-1.2M363.8 208.9h-1.2M363.8 207.8h-1.2M363.8 206.7h-2.2M363.8 199.9h-1.2M363.8 195.9h-1.2M363.8 193.0h-1.2M363.8 190.8h-1.2M363.8 189.0h-1.2M363.8 187.5h-1.2M363.8 186.2h-1.2M363.8 185.0h-1.2M363.8 183.9h-2.2M363.8 177.1h-1.2M363.8 173.1h-1.2M363.8 170.2h-1.2M363.8 168.0h-1.2M363.8 166.2h-1.2M363.8 164.7h-1.2M363.8 163.4h-1.2M363.8 162.2h-1.2M363.8 161.2h-2.2M363.8 154.3h-1.2M363.8 150.3h-1.2M363.8 147.5h-1.2M363.8 145.3h-1.2M363.8 143.5h-1.2M363.8 141.9h-1.2M363.8 140.6h-1.2M363.8 139.4h-1.2M363.8 229.5v2.2M370.8 229.5v1.2M374.8 229.5v1.2M377.7 229.5v1.2M379.9 229.5v1.2M381.8 229.5v1.2M383.3 229.5v1.2M384.7 229.5v1.2M385.8 229.5v1.2M386.9 229.5v2.2M393.9 229.5v1.2M397.9 229.5v1.2M400.8 229.5v1.2M403.0 229.5v1.2M404.9 229.5v1.2M406.4 229.5v1.2M407.8 229.5v1.2M408.9 229.5v1.2M410.0 229.5v2.2M417.0 229.5v1.2M421.0 229.5v1.2M423.9 229.5v1.2M426.1 229.5v1.2M428.0 229.5v1.2M429.5 229.5v1.2M430.9 229.5v1.2M432.0 229.5v1.2M433.1 229.5v2.2M440.1 229.5v1.2M444.1 229.5v1.2M447.0 229.5v1.2M449.2 229.5v1.2M451.1 229.5v1.2M452.6 229.5v1.2M454.0 229.5v1.2M455.1 229.5v1.2" stroke="#777" stroke-width="0.8" fill="none"/>
<text x="451.8" y="151.9" font-size="12" text-anchor="end" stroke="#000" stroke-width="0.12">3.0</text>
<text x="13.4" y="26.3" font-size="25" font-weight="bold">A</text>
<text x="89.3" y="23.9" font-size="13.8" font-weight="bold" text-anchor="middle">ND</text>
<text x="208.1" y="23.9" font-size="13.8" font-weight="bold" text-anchor="middle">CLL</text>
<text x="312.8" y="23.9" font-size="13.8" font-weight="bold" text-anchor="middle">MCL1</text>
<text x="415.4" y="23.9" font-size="13.8" font-weight="bold" text-anchor="middle">FL2</text>
<text transform="translate(20.4,111.5) rotate(-90)" font-size="14" font-weight="bold">Gag<tspan font-size="9.6" dy="3.6" dx="0.3">77-85</tspan></text>
<text transform="translate(37,115.2) rotate(-90)" font-size="14.2" font-weight="bold">Tetramer</text>
<text transform="translate(19.0,210.3) rotate(-90)" font-size="13.6" font-weight="bold">TCL1<tspan font-size="9.2" dy="3.4" dx="2.2">71-78</tspan></text>
<text transform="translate(36.4,210) rotate(-90)" font-size="14" font-weight="bold">Tetramer</text>
<text x="49" y="249.6" font-size="14" font-weight="bold">CD8</text>
<text x="11.9" y="298.9" font-size="25" font-weight="bold">B</text>
<path d="M94.6 300.6V530.4" stroke="#000" stroke-width="2.3" fill="none"/>
<path d="M87.7 300.6H94.6" stroke="#000" stroke-width="2.2"/>
<text x="85.9" y="305.8" font-size="14.6" font-weight="bold" text-anchor="end">8</text>
<path d="M87.7 357.8H94.6" stroke="#000" stroke-width="2.2"/>
<text x="85.9" y="363.0" font-size="14.6" font-weight="bold" text-anchor="end">6</text>
<path d="M87.7 415.0H94.6" stroke="#000" stroke-width="2.2"/>
<text x="85.9" y="420.2" font-size="14.6" font-weight="bold" text-anchor="end">4</text>
<path d="M87.7 472.2H94.6" stroke="#000" stroke-width="2.2"/>
<text x="85.9" y="477.4" font-size="14.6" font-weight="bold" text-anchor="end">2</text>
<path d="M87.7 529.4H94.6" stroke="#000" stroke-width="2.2"/>
<text x="85.9" y="534.6" font-size="14.6" font-weight="bold" text-anchor="end">0</text>
<path d="M87.7 529.3H318" stroke="#000" stroke-width="2.5" fill="none"/>
<path d="M146.3 529V535.8M250.8 529V535.8" stroke="#000" stroke-width="2.2"/>
<text x="154.2" y="561.3" font-size="13.5" font-weight="bold" text-anchor="middle">ND</text>
<text x="154.0" y="578.0" font-size="13.5" font-weight="bold" text-anchor="middle">(n=8)</text>
<text transform="translate(255.6,561.9) scale(1.15,1)" font-size="13.5" font-weight="bold" text-anchor="middle">LYM</text>
<text x="255.6" y="578.6" font-size="13.7" font-weight="bold" text-anchor="middle">(n=15)</text>
<text transform="translate(25.1,395.9) rotate(-90) scale(1.04,1)" font-size="13.6" font-weight="bold" text-anchor="middle">TCL1 Tetramer+</text>
<text transform="translate(50.1,395.6) rotate(-90) scale(1.01,1)" font-size="13.9" font-weight="bold" text-anchor="middle">CD8+ T cells (%)</text>
<text x="224.3" y="298" font-size="13.6" font-weight="bold" text-anchor="middle">P&lt;0.01</text>
<path d="M168.9 314.9H265.7" stroke="#333" stroke-width="2"/>
<circle cx="146.2" cy="469.1" r="4.15"/>
<circle cx="139.6" cy="483.7" r="4.15"/>
<circle cx="152.7" cy="480.6" r="4.15"/>
<circle cx="159.6" cy="486.6" r="4.15"/>
<circle cx="133.0" cy="495.1" r="4.15"/>
<circle cx="146.2" cy="497.8" r="4.15"/>
<circle cx="152.7" cy="506.5" r="4.15"/>
<circle cx="139.6" cy="515.1" r="4.15"/>
<path d="M110.8 490.5H181.9" stroke="#000" stroke-width="2.2"/>
<text x="191.6" y="492.3" font-size="11.5" font-weight="bold">1.35</text>
<g fill="#000">
<path d="M250.4 353.6L254.9 361.8L245.9 361.8Z"/>
<rect x="245.9" y="387.6" width="9.1" height="9.1"/>
<path d="M250.5 420.1L254.8 427.9L246.2 427.9Z"/>
<rect x="219.6" y="436.4" width="9.2" height="9.2"/>
<rect x="261.7" y="434.8" width="8.4" height="8.4" fill="#fff" stroke="#000" stroke-width="1.2"/>
<path d="M277.1 432.5L282.9 443.1L271.3 443.1Z"/><path fill="#fff" d="M276.8 437.2L278.6 440.6L275.0 440.6Z"/>
<rect x="233.2" y="445.2" width="8.7" height="8.7"/>
<path d="M250.2 445.7L254.1 453.1L246.3 453.1Z"/>
<path d="M237.4 451.8L243.5 463.2L231.3 463.2Z"/><path fill="#fff" d="M237.1 456.9L238.9 460.7L235.3 460.7Z"/>
<path d="M250.6 459.7L254.6 467.9L246.6 467.9Z"/>
<ellipse cx="263.8" cy="463.8" rx="4.3" ry="3.9" fill="none" stroke="#000" stroke-width="3.2"/>
<rect x="239.4" y="468.6" width="8.9" height="7.9"/>
<path d="M257.2 479.9L261.5 487.8L252.9 487.8Z"/>
<ellipse cx="244.1" cy="506.4" rx="4.5" ry="3.8" fill="none" stroke="#000" stroke-width="3.2"/>
<rect x="252.5" y="503.6" width="8.6" height="8.6" fill="#fff" stroke="#000" stroke-width="1.2"/>
</g>
<path d="M214.9 449.3H286.1" stroke="#000" stroke-width="2.3"/>
<text x="298.6" y="450.2" font-size="11.5" font-weight="bold">2.8</text>
<path d="M360.5 307.8h8.6v8.6h-8.6z" fill="none" stroke="#111" stroke-width="1.3"/>
<path d="M365.4 322.7L371.2 333.9H359.6Z"/>
<path d="M365.45 344.0L370.4 353.0H360.5Z" fill="none" stroke="#000" stroke-width="1.3"/>
<rect x="360.3" y="361.9" width="10.1" height="9.9"/>
<ellipse cx="366.4" cy="388.4" rx="3.95" ry="3.7" fill="none" stroke="#000" stroke-width="2.9"/>
<text x="381.4" y="316.3" font-size="14.2">CLL n=2 (P=0.30)</text>
<text x="381.7" y="332.6" font-size="14.2">MCL n=5 (P=0.03)</text>
<text x="381.4" y="350.8" font-size="14.2">DLBCL n=2 (P&lt;0.01)</text>
<text x="383.2" y="370.7" font-size="14.2">FL n=4 (P&lt;0.01)</text>
<text x="382.9" y="392.2" font-size="14.2">SMZL n=2 (P=0.31)</text>
</svg>
</body></html>
